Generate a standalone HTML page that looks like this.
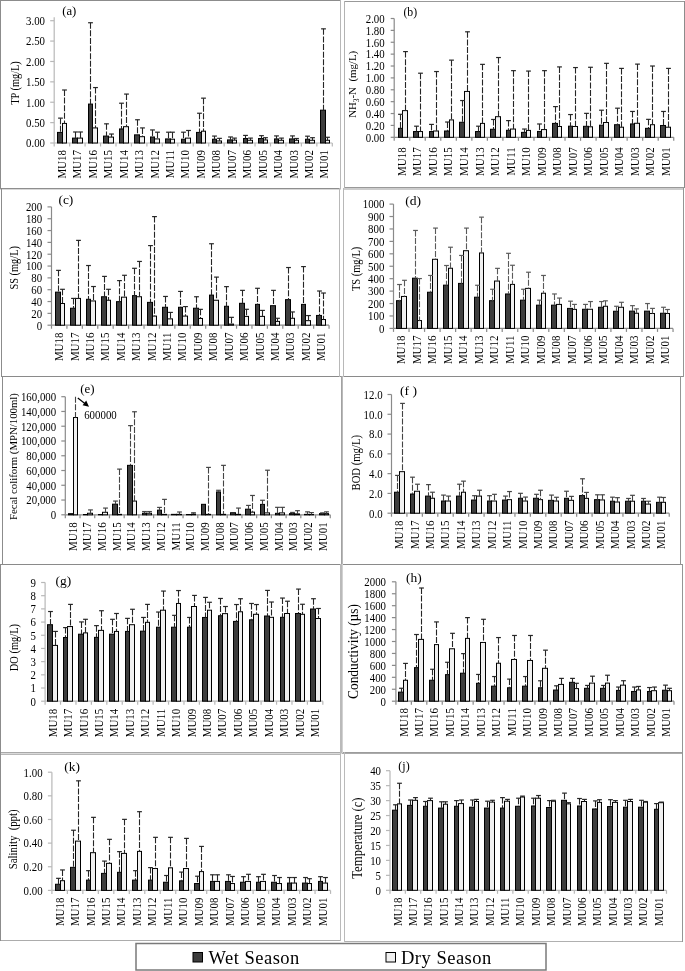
<!DOCTYPE html>
<html><head><meta charset="utf-8"><style>
html,body{margin:0;padding:0;background:#fff;width:685px;height:971px;overflow:hidden}
svg{display:block}

text{font-family:'Liberation Serif','Times New Roman',serif;fill:#000}
</style></head><body>
<svg width="685" height="971" viewBox="0 0 685 971">
<rect width="685" height="971" fill="#fff"/>
<line x1="54.20" y1="17.20" x2="54.20" y2="143.00" stroke="#b8b8b8" stroke-width="1.2"/>
<line x1="50.20" y1="143.00" x2="54.20" y2="143.00" stroke="#b8b8b8" stroke-width="1.2"/>
<text transform="translate(45.00,147.30) scale(0.92,1)" font-size="11.8" text-anchor="end">0.00</text>
<line x1="50.20" y1="122.62" x2="54.20" y2="122.62" stroke="#b8b8b8" stroke-width="1.2"/>
<text transform="translate(45.00,126.92) scale(0.92,1)" font-size="11.8" text-anchor="end">0.50</text>
<line x1="50.20" y1="102.23" x2="54.20" y2="102.23" stroke="#b8b8b8" stroke-width="1.2"/>
<text transform="translate(45.00,106.53) scale(0.92,1)" font-size="11.8" text-anchor="end">1.00</text>
<line x1="50.20" y1="81.85" x2="54.20" y2="81.85" stroke="#b8b8b8" stroke-width="1.2"/>
<text transform="translate(45.00,86.15) scale(0.92,1)" font-size="11.8" text-anchor="end">1.50</text>
<line x1="50.20" y1="61.47" x2="54.20" y2="61.47" stroke="#b8b8b8" stroke-width="1.2"/>
<text transform="translate(45.00,65.77) scale(0.92,1)" font-size="11.8" text-anchor="end">2.00</text>
<line x1="50.20" y1="41.08" x2="54.20" y2="41.08" stroke="#b8b8b8" stroke-width="1.2"/>
<text transform="translate(45.00,45.38) scale(0.92,1)" font-size="11.8" text-anchor="end">2.50</text>
<line x1="50.20" y1="20.70" x2="54.20" y2="20.70" stroke="#b8b8b8" stroke-width="1.2"/>
<text transform="translate(45.00,25.00) scale(0.92,1)" font-size="11.8" text-anchor="end">3.00</text>
<line x1="54.20" y1="143.00" x2="332.30" y2="143.00" stroke="#b8b8b8" stroke-width="1.2"/>
<line x1="54.20" y1="143.00" x2="54.20" y2="146.50" stroke="#b8b8b8" stroke-width="1.2"/>
<line x1="69.65" y1="143.00" x2="69.65" y2="146.50" stroke="#b8b8b8" stroke-width="1.2"/>
<line x1="85.10" y1="143.00" x2="85.10" y2="146.50" stroke="#b8b8b8" stroke-width="1.2"/>
<line x1="100.55" y1="143.00" x2="100.55" y2="146.50" stroke="#b8b8b8" stroke-width="1.2"/>
<line x1="116.00" y1="143.00" x2="116.00" y2="146.50" stroke="#b8b8b8" stroke-width="1.2"/>
<line x1="131.45" y1="143.00" x2="131.45" y2="146.50" stroke="#b8b8b8" stroke-width="1.2"/>
<line x1="146.90" y1="143.00" x2="146.90" y2="146.50" stroke="#b8b8b8" stroke-width="1.2"/>
<line x1="162.35" y1="143.00" x2="162.35" y2="146.50" stroke="#b8b8b8" stroke-width="1.2"/>
<line x1="177.80" y1="143.00" x2="177.80" y2="146.50" stroke="#b8b8b8" stroke-width="1.2"/>
<line x1="193.25" y1="143.00" x2="193.25" y2="146.50" stroke="#b8b8b8" stroke-width="1.2"/>
<line x1="208.70" y1="143.00" x2="208.70" y2="146.50" stroke="#b8b8b8" stroke-width="1.2"/>
<line x1="224.15" y1="143.00" x2="224.15" y2="146.50" stroke="#b8b8b8" stroke-width="1.2"/>
<line x1="239.60" y1="143.00" x2="239.60" y2="146.50" stroke="#b8b8b8" stroke-width="1.2"/>
<line x1="255.05" y1="143.00" x2="255.05" y2="146.50" stroke="#b8b8b8" stroke-width="1.2"/>
<line x1="270.50" y1="143.00" x2="270.50" y2="146.50" stroke="#b8b8b8" stroke-width="1.2"/>
<line x1="285.95" y1="143.00" x2="285.95" y2="146.50" stroke="#b8b8b8" stroke-width="1.2"/>
<line x1="301.40" y1="143.00" x2="301.40" y2="146.50" stroke="#b8b8b8" stroke-width="1.2"/>
<line x1="316.85" y1="143.00" x2="316.85" y2="146.50" stroke="#b8b8b8" stroke-width="1.2"/>
<line x1="332.30" y1="143.00" x2="332.30" y2="146.50" stroke="#b8b8b8" stroke-width="1.2"/>
<text transform="translate(65.83,150.00) rotate(-90) scale(0.93,1)" font-size="11.8" text-anchor="end">MU18</text>
<text transform="translate(81.28,150.00) rotate(-90) scale(0.93,1)" font-size="11.8" text-anchor="end">MU17</text>
<text transform="translate(96.73,150.00) rotate(-90) scale(0.93,1)" font-size="11.8" text-anchor="end">MU16</text>
<text transform="translate(112.18,150.00) rotate(-90) scale(0.93,1)" font-size="11.8" text-anchor="end">MU15</text>
<text transform="translate(127.62,150.00) rotate(-90) scale(0.93,1)" font-size="11.8" text-anchor="end">MU14</text>
<text transform="translate(143.08,150.00) rotate(-90) scale(0.93,1)" font-size="11.8" text-anchor="end">MU13</text>
<text transform="translate(158.53,150.00) rotate(-90) scale(0.93,1)" font-size="11.8" text-anchor="end">MU12</text>
<text transform="translate(173.97,150.00) rotate(-90) scale(0.93,1)" font-size="11.8" text-anchor="end">MU11</text>
<text transform="translate(189.42,150.00) rotate(-90) scale(0.93,1)" font-size="11.8" text-anchor="end">MU10</text>
<text transform="translate(204.88,150.00) rotate(-90) scale(0.93,1)" font-size="11.8" text-anchor="end">MU09</text>
<text transform="translate(220.33,150.00) rotate(-90) scale(0.93,1)" font-size="11.8" text-anchor="end">MU08</text>
<text transform="translate(235.78,150.00) rotate(-90) scale(0.93,1)" font-size="11.8" text-anchor="end">MU07</text>
<text transform="translate(251.22,150.00) rotate(-90) scale(0.93,1)" font-size="11.8" text-anchor="end">MU06</text>
<text transform="translate(266.67,150.00) rotate(-90) scale(0.93,1)" font-size="11.8" text-anchor="end">MU05</text>
<text transform="translate(282.12,150.00) rotate(-90) scale(0.93,1)" font-size="11.8" text-anchor="end">MU04</text>
<text transform="translate(297.57,150.00) rotate(-90) scale(0.93,1)" font-size="11.8" text-anchor="end">MU03</text>
<text transform="translate(313.02,150.00) rotate(-90) scale(0.93,1)" font-size="11.8" text-anchor="end">MU02</text>
<text transform="translate(328.47,150.00) rotate(-90) scale(0.93,1)" font-size="11.8" text-anchor="end">MU01</text>
<rect x="57.50" y="132.40" width="5.00" height="10.60" fill="#3d3d3d" stroke="#000" stroke-width="1"/>
<rect x="62.50" y="123.43" width="4.00" height="19.57" fill="#f0f0f0" stroke="#000" stroke-width="1"/>
<line x1="60.50" y1="118.13" x2="60.50" y2="132.40" stroke="#262626" stroke-width="1.1" stroke-dasharray="6,1.6"/>
<line x1="58.10" y1="118.13" x2="62.90" y2="118.13" stroke="#262626" stroke-width="1.2"/>
<line x1="64.50" y1="90.00" x2="64.50" y2="123.43" stroke="#262626" stroke-width="1.1" stroke-dasharray="6,1.6"/>
<line x1="62.10" y1="90.00" x2="66.90" y2="90.00" stroke="#262626" stroke-width="1.2"/>
<rect x="72.50" y="138.11" width="5.00" height="4.89" fill="#3d3d3d" stroke="#000" stroke-width="1"/>
<rect x="77.50" y="138.11" width="5.00" height="4.89" fill="#f0f0f0" stroke="#000" stroke-width="1"/>
<line x1="75.50" y1="131.99" x2="75.50" y2="138.11" stroke="#262626" stroke-width="1.1" stroke-dasharray="6,1.6"/>
<line x1="73.10" y1="131.99" x2="77.90" y2="131.99" stroke="#262626" stroke-width="1.2"/>
<line x1="80.50" y1="131.99" x2="80.50" y2="138.11" stroke="#262626" stroke-width="1.1" stroke-dasharray="6,1.6"/>
<line x1="78.10" y1="131.99" x2="82.90" y2="131.99" stroke="#262626" stroke-width="1.2"/>
<rect x="88.50" y="104.07" width="4.00" height="38.93" fill="#3d3d3d" stroke="#000" stroke-width="1"/>
<rect x="92.50" y="127.92" width="5.00" height="15.08" fill="#f0f0f0" stroke="#000" stroke-width="1"/>
<line x1="90.50" y1="22.74" x2="90.50" y2="104.07" stroke="#262626" stroke-width="1.1" stroke-dasharray="6,1.6"/>
<line x1="88.10" y1="22.74" x2="92.90" y2="22.74" stroke="#262626" stroke-width="1.2"/>
<line x1="95.50" y1="87.56" x2="95.50" y2="127.92" stroke="#262626" stroke-width="1.1" stroke-dasharray="6,1.6"/>
<line x1="93.10" y1="87.56" x2="97.90" y2="87.56" stroke="#262626" stroke-width="1.2"/>
<rect x="103.50" y="136.07" width="5.00" height="6.93" fill="#3d3d3d" stroke="#000" stroke-width="1"/>
<rect x="108.50" y="137.09" width="5.00" height="5.91" fill="#f0f0f0" stroke="#000" stroke-width="1"/>
<line x1="106.50" y1="123.84" x2="106.50" y2="136.07" stroke="#262626" stroke-width="1.1" stroke-dasharray="6,1.6"/>
<line x1="104.10" y1="123.84" x2="108.90" y2="123.84" stroke="#262626" stroke-width="1.2"/>
<line x1="111.50" y1="134.03" x2="111.50" y2="137.09" stroke="#262626" stroke-width="1.1" stroke-dasharray="6,1.6"/>
<line x1="109.10" y1="134.03" x2="113.90" y2="134.03" stroke="#262626" stroke-width="1.2"/>
<rect x="119.50" y="128.94" width="4.00" height="14.06" fill="#3d3d3d" stroke="#000" stroke-width="1"/>
<rect x="123.50" y="126.69" width="5.00" height="16.31" fill="#f0f0f0" stroke="#000" stroke-width="1"/>
<line x1="121.50" y1="103.21" x2="121.50" y2="128.94" stroke="#262626" stroke-width="1.1" stroke-dasharray="6,1.6"/>
<line x1="119.10" y1="103.21" x2="123.90" y2="103.21" stroke="#262626" stroke-width="1.2"/>
<line x1="126.50" y1="94.08" x2="126.50" y2="126.69" stroke="#262626" stroke-width="1.1" stroke-dasharray="6,1.6"/>
<line x1="124.10" y1="94.08" x2="128.90" y2="94.08" stroke="#262626" stroke-width="1.2"/>
<rect x="134.50" y="134.85" width="5.00" height="8.15" fill="#3d3d3d" stroke="#000" stroke-width="1"/>
<rect x="139.50" y="136.68" width="5.00" height="6.32" fill="#f0f0f0" stroke="#000" stroke-width="1"/>
<line x1="137.50" y1="119.76" x2="137.50" y2="134.85" stroke="#262626" stroke-width="1.1" stroke-dasharray="6,1.6"/>
<line x1="135.10" y1="119.76" x2="139.90" y2="119.76" stroke="#262626" stroke-width="1.2"/>
<line x1="142.50" y1="127.92" x2="142.50" y2="136.68" stroke="#262626" stroke-width="1.1" stroke-dasharray="6,1.6"/>
<line x1="140.10" y1="127.92" x2="144.90" y2="127.92" stroke="#262626" stroke-width="1.2"/>
<rect x="150.50" y="136.97" width="4.00" height="6.03" fill="#3d3d3d" stroke="#000" stroke-width="1"/>
<rect x="154.50" y="138.92" width="5.00" height="4.08" fill="#f0f0f0" stroke="#000" stroke-width="1"/>
<line x1="152.50" y1="129.95" x2="152.50" y2="136.97" stroke="#262626" stroke-width="1.1" stroke-dasharray="6,1.6"/>
<line x1="150.10" y1="129.95" x2="154.90" y2="129.95" stroke="#262626" stroke-width="1.2"/>
<line x1="157.50" y1="132.20" x2="157.50" y2="138.92" stroke="#262626" stroke-width="1.1" stroke-dasharray="6,1.6"/>
<line x1="155.10" y1="132.20" x2="159.90" y2="132.20" stroke="#262626" stroke-width="1.2"/>
<rect x="165.50" y="138.92" width="5.00" height="4.08" fill="#3d3d3d" stroke="#000" stroke-width="1"/>
<rect x="170.50" y="139.21" width="4.00" height="3.79" fill="#f0f0f0" stroke="#000" stroke-width="1"/>
<line x1="168.50" y1="132.20" x2="168.50" y2="138.92" stroke="#262626" stroke-width="1.1" stroke-dasharray="6,1.6"/>
<line x1="166.10" y1="132.20" x2="170.90" y2="132.20" stroke="#262626" stroke-width="1.2"/>
<line x1="172.50" y1="132.20" x2="172.50" y2="139.21" stroke="#262626" stroke-width="1.1" stroke-dasharray="6,1.6"/>
<line x1="170.10" y1="132.20" x2="174.90" y2="132.20" stroke="#262626" stroke-width="1.2"/>
<rect x="181.50" y="139.21" width="4.00" height="3.79" fill="#3d3d3d" stroke="#000" stroke-width="1"/>
<rect x="185.50" y="138.11" width="5.00" height="4.89" fill="#f0f0f0" stroke="#000" stroke-width="1"/>
<line x1="183.50" y1="132.20" x2="183.50" y2="139.21" stroke="#262626" stroke-width="1.1" stroke-dasharray="6,1.6"/>
<line x1="181.10" y1="132.20" x2="185.90" y2="132.20" stroke="#262626" stroke-width="1.2"/>
<line x1="188.50" y1="130.48" x2="188.50" y2="138.11" stroke="#262626" stroke-width="1.1" stroke-dasharray="6,1.6"/>
<line x1="186.10" y1="130.48" x2="190.90" y2="130.48" stroke="#262626" stroke-width="1.2"/>
<rect x="196.50" y="132.40" width="5.00" height="10.60" fill="#3d3d3d" stroke="#000" stroke-width="1"/>
<rect x="201.50" y="131.18" width="4.00" height="11.82" fill="#f0f0f0" stroke="#000" stroke-width="1"/>
<line x1="199.50" y1="113.24" x2="199.50" y2="132.40" stroke="#262626" stroke-width="1.1" stroke-dasharray="6,1.6"/>
<line x1="197.10" y1="113.24" x2="201.90" y2="113.24" stroke="#262626" stroke-width="1.2"/>
<line x1="203.50" y1="98.16" x2="203.50" y2="131.18" stroke="#262626" stroke-width="1.1" stroke-dasharray="6,1.6"/>
<line x1="201.10" y1="98.16" x2="205.90" y2="98.16" stroke="#262626" stroke-width="1.2"/>
<rect x="212.50" y="139.21" width="4.00" height="3.79" fill="#3d3d3d" stroke="#000" stroke-width="1"/>
<rect x="216.50" y="140.96" width="5.00" height="2.04" fill="#f0f0f0" stroke="#000" stroke-width="1"/>
<line x1="214.50" y1="136.07" x2="214.50" y2="139.21" stroke="#262626" stroke-width="1.1" stroke-dasharray="6,1.6"/>
<line x1="212.10" y1="136.07" x2="216.90" y2="136.07" stroke="#262626" stroke-width="1.2"/>
<line x1="219.50" y1="138.35" x2="219.50" y2="140.96" stroke="#262626" stroke-width="1.1" stroke-dasharray="6,1.6"/>
<line x1="217.10" y1="138.35" x2="221.90" y2="138.35" stroke="#262626" stroke-width="1.2"/>
<rect x="227.50" y="139.90" width="5.00" height="3.10" fill="#3d3d3d" stroke="#000" stroke-width="1"/>
<rect x="232.50" y="140.15" width="4.00" height="2.85" fill="#f0f0f0" stroke="#000" stroke-width="1"/>
<line x1="230.50" y1="136.97" x2="230.50" y2="139.90" stroke="#262626" stroke-width="1.1" stroke-dasharray="6,1.6"/>
<line x1="228.10" y1="136.97" x2="232.90" y2="136.97" stroke="#262626" stroke-width="1.2"/>
<line x1="234.50" y1="138.11" x2="234.50" y2="140.15" stroke="#262626" stroke-width="1.1" stroke-dasharray="6,1.6"/>
<line x1="232.10" y1="138.11" x2="236.90" y2="138.11" stroke="#262626" stroke-width="1.2"/>
<rect x="243.50" y="138.52" width="4.00" height="4.48" fill="#3d3d3d" stroke="#000" stroke-width="1"/>
<rect x="247.50" y="140.27" width="5.00" height="2.73" fill="#f0f0f0" stroke="#000" stroke-width="1"/>
<line x1="245.50" y1="135.42" x2="245.50" y2="138.52" stroke="#262626" stroke-width="1.1" stroke-dasharray="6,1.6"/>
<line x1="243.10" y1="135.42" x2="247.90" y2="135.42" stroke="#262626" stroke-width="1.2"/>
<line x1="250.50" y1="138.11" x2="250.50" y2="140.27" stroke="#262626" stroke-width="1.1" stroke-dasharray="6,1.6"/>
<line x1="248.10" y1="138.11" x2="252.90" y2="138.11" stroke="#262626" stroke-width="1.2"/>
<rect x="258.50" y="138.52" width="5.00" height="4.48" fill="#3d3d3d" stroke="#000" stroke-width="1"/>
<rect x="263.50" y="139.98" width="4.00" height="3.02" fill="#f0f0f0" stroke="#000" stroke-width="1"/>
<line x1="261.50" y1="135.66" x2="261.50" y2="138.52" stroke="#262626" stroke-width="1.1" stroke-dasharray="6,1.6"/>
<line x1="259.10" y1="135.66" x2="263.90" y2="135.66" stroke="#262626" stroke-width="1.2"/>
<line x1="265.50" y1="137.70" x2="265.50" y2="139.98" stroke="#262626" stroke-width="1.1" stroke-dasharray="6,1.6"/>
<line x1="263.10" y1="137.70" x2="267.90" y2="137.70" stroke="#262626" stroke-width="1.2"/>
<rect x="274.50" y="138.92" width="4.00" height="4.08" fill="#3d3d3d" stroke="#000" stroke-width="1"/>
<rect x="278.50" y="140.27" width="5.00" height="2.73" fill="#f0f0f0" stroke="#000" stroke-width="1"/>
<line x1="276.50" y1="135.91" x2="276.50" y2="138.92" stroke="#262626" stroke-width="1.1" stroke-dasharray="6,1.6"/>
<line x1="274.10" y1="135.91" x2="278.90" y2="135.91" stroke="#262626" stroke-width="1.2"/>
<line x1="281.50" y1="138.11" x2="281.50" y2="140.27" stroke="#262626" stroke-width="1.1" stroke-dasharray="6,1.6"/>
<line x1="279.10" y1="138.11" x2="283.90" y2="138.11" stroke="#262626" stroke-width="1.2"/>
<rect x="289.50" y="138.92" width="5.00" height="4.08" fill="#3d3d3d" stroke="#000" stroke-width="1"/>
<rect x="294.50" y="140.27" width="4.00" height="2.73" fill="#f0f0f0" stroke="#000" stroke-width="1"/>
<line x1="292.50" y1="135.91" x2="292.50" y2="138.92" stroke="#262626" stroke-width="1.1" stroke-dasharray="6,1.6"/>
<line x1="290.10" y1="135.91" x2="294.90" y2="135.91" stroke="#262626" stroke-width="1.2"/>
<line x1="296.50" y1="138.52" x2="296.50" y2="140.27" stroke="#262626" stroke-width="1.1" stroke-dasharray="6,1.6"/>
<line x1="294.10" y1="138.52" x2="298.90" y2="138.52" stroke="#262626" stroke-width="1.2"/>
<rect x="305.50" y="139.21" width="4.00" height="3.79" fill="#3d3d3d" stroke="#000" stroke-width="1"/>
<rect x="309.50" y="140.27" width="5.00" height="2.73" fill="#f0f0f0" stroke="#000" stroke-width="1"/>
<line x1="307.50" y1="136.19" x2="307.50" y2="139.21" stroke="#262626" stroke-width="1.1" stroke-dasharray="6,1.6"/>
<line x1="305.10" y1="136.19" x2="309.90" y2="136.19" stroke="#262626" stroke-width="1.2"/>
<line x1="312.50" y1="137.70" x2="312.50" y2="140.27" stroke="#262626" stroke-width="1.1" stroke-dasharray="6,1.6"/>
<line x1="310.10" y1="137.70" x2="314.90" y2="137.70" stroke="#262626" stroke-width="1.2"/>
<rect x="320.50" y="110.18" width="5.00" height="32.82" fill="#3d3d3d" stroke="#000" stroke-width="1"/>
<rect x="325.50" y="140.27" width="4.00" height="2.73" fill="#f0f0f0" stroke="#000" stroke-width="1"/>
<line x1="323.50" y1="28.85" x2="323.50" y2="110.18" stroke="#262626" stroke-width="1.1" stroke-dasharray="6,1.6"/>
<line x1="321.10" y1="28.85" x2="325.90" y2="28.85" stroke="#262626" stroke-width="1.2"/>
<line x1="327.50" y1="137.29" x2="327.50" y2="140.27" stroke="#262626" stroke-width="1.1" stroke-dasharray="6,1.6"/>
<line x1="325.10" y1="137.29" x2="329.90" y2="137.29" stroke="#262626" stroke-width="1.2"/>
<text transform="translate(19.10,83.00) rotate(-90) scale(0.827,1)" font-size="12.5" text-anchor="middle">TP (mg/L)</text>
<text transform="translate(62.20,15.35) scale(1.08,1)" font-size="11.8">(a)</text>
<line x1="394.20" y1="18.50" x2="394.20" y2="137.30" stroke="#8a8a8a" stroke-width="1.2"/>
<line x1="390.70" y1="137.30" x2="394.20" y2="137.30" stroke="#8a8a8a" stroke-width="1.2"/>
<text transform="translate(384.70,141.60) scale(0.92,1)" font-size="11.8" text-anchor="end">0.00</text>
<line x1="390.70" y1="125.42" x2="394.20" y2="125.42" stroke="#8a8a8a" stroke-width="1.2"/>
<text transform="translate(384.70,129.72) scale(0.92,1)" font-size="11.8" text-anchor="end">0.20</text>
<line x1="390.70" y1="113.54" x2="394.20" y2="113.54" stroke="#8a8a8a" stroke-width="1.2"/>
<text transform="translate(384.70,117.84) scale(0.92,1)" font-size="11.8" text-anchor="end">0.40</text>
<line x1="390.70" y1="101.66" x2="394.20" y2="101.66" stroke="#8a8a8a" stroke-width="1.2"/>
<text transform="translate(384.70,105.96) scale(0.92,1)" font-size="11.8" text-anchor="end">0.60</text>
<line x1="390.70" y1="89.78" x2="394.20" y2="89.78" stroke="#8a8a8a" stroke-width="1.2"/>
<text transform="translate(384.70,94.08) scale(0.92,1)" font-size="11.8" text-anchor="end">0.80</text>
<line x1="390.70" y1="77.90" x2="394.20" y2="77.90" stroke="#8a8a8a" stroke-width="1.2"/>
<text transform="translate(384.70,82.20) scale(0.92,1)" font-size="11.8" text-anchor="end">1.00</text>
<line x1="390.70" y1="66.02" x2="394.20" y2="66.02" stroke="#8a8a8a" stroke-width="1.2"/>
<text transform="translate(384.70,70.32) scale(0.92,1)" font-size="11.8" text-anchor="end">1.20</text>
<line x1="390.70" y1="54.14" x2="394.20" y2="54.14" stroke="#8a8a8a" stroke-width="1.2"/>
<text transform="translate(384.70,58.44) scale(0.92,1)" font-size="11.8" text-anchor="end">1.40</text>
<line x1="390.70" y1="42.26" x2="394.20" y2="42.26" stroke="#8a8a8a" stroke-width="1.2"/>
<text transform="translate(384.70,46.56) scale(0.92,1)" font-size="11.8" text-anchor="end">1.60</text>
<line x1="390.70" y1="30.38" x2="394.20" y2="30.38" stroke="#8a8a8a" stroke-width="1.2"/>
<text transform="translate(384.70,34.68) scale(0.92,1)" font-size="11.8" text-anchor="end">1.80</text>
<line x1="390.70" y1="18.50" x2="394.20" y2="18.50" stroke="#8a8a8a" stroke-width="1.2"/>
<text transform="translate(384.70,22.80) scale(0.92,1)" font-size="11.8" text-anchor="end">2.00</text>
<line x1="394.20" y1="137.30" x2="673.74" y2="137.30" stroke="#8a8a8a" stroke-width="1.2"/>
<line x1="394.20" y1="137.30" x2="394.20" y2="140.80" stroke="#8a8a8a" stroke-width="1.2"/>
<line x1="409.73" y1="137.30" x2="409.73" y2="140.80" stroke="#8a8a8a" stroke-width="1.2"/>
<line x1="425.26" y1="137.30" x2="425.26" y2="140.80" stroke="#8a8a8a" stroke-width="1.2"/>
<line x1="440.79" y1="137.30" x2="440.79" y2="140.80" stroke="#8a8a8a" stroke-width="1.2"/>
<line x1="456.32" y1="137.30" x2="456.32" y2="140.80" stroke="#8a8a8a" stroke-width="1.2"/>
<line x1="471.85" y1="137.30" x2="471.85" y2="140.80" stroke="#8a8a8a" stroke-width="1.2"/>
<line x1="487.38" y1="137.30" x2="487.38" y2="140.80" stroke="#8a8a8a" stroke-width="1.2"/>
<line x1="502.91" y1="137.30" x2="502.91" y2="140.80" stroke="#8a8a8a" stroke-width="1.2"/>
<line x1="518.44" y1="137.30" x2="518.44" y2="140.80" stroke="#8a8a8a" stroke-width="1.2"/>
<line x1="533.97" y1="137.30" x2="533.97" y2="140.80" stroke="#8a8a8a" stroke-width="1.2"/>
<line x1="549.50" y1="137.30" x2="549.50" y2="140.80" stroke="#8a8a8a" stroke-width="1.2"/>
<line x1="565.03" y1="137.30" x2="565.03" y2="140.80" stroke="#8a8a8a" stroke-width="1.2"/>
<line x1="580.56" y1="137.30" x2="580.56" y2="140.80" stroke="#8a8a8a" stroke-width="1.2"/>
<line x1="596.09" y1="137.30" x2="596.09" y2="140.80" stroke="#8a8a8a" stroke-width="1.2"/>
<line x1="611.62" y1="137.30" x2="611.62" y2="140.80" stroke="#8a8a8a" stroke-width="1.2"/>
<line x1="627.15" y1="137.30" x2="627.15" y2="140.80" stroke="#8a8a8a" stroke-width="1.2"/>
<line x1="642.68" y1="137.30" x2="642.68" y2="140.80" stroke="#8a8a8a" stroke-width="1.2"/>
<line x1="658.21" y1="137.30" x2="658.21" y2="140.80" stroke="#8a8a8a" stroke-width="1.2"/>
<line x1="673.74" y1="137.30" x2="673.74" y2="140.80" stroke="#8a8a8a" stroke-width="1.2"/>
<text transform="translate(405.86,147.30) rotate(-90) scale(0.93,1)" font-size="11.8" text-anchor="end">MU18</text>
<text transform="translate(421.39,147.30) rotate(-90) scale(0.93,1)" font-size="11.8" text-anchor="end">MU17</text>
<text transform="translate(436.92,147.30) rotate(-90) scale(0.93,1)" font-size="11.8" text-anchor="end">MU16</text>
<text transform="translate(452.45,147.30) rotate(-90) scale(0.93,1)" font-size="11.8" text-anchor="end">MU15</text>
<text transform="translate(467.98,147.30) rotate(-90) scale(0.93,1)" font-size="11.8" text-anchor="end">MU14</text>
<text transform="translate(483.51,147.30) rotate(-90) scale(0.93,1)" font-size="11.8" text-anchor="end">MU13</text>
<text transform="translate(499.04,147.30) rotate(-90) scale(0.93,1)" font-size="11.8" text-anchor="end">MU12</text>
<text transform="translate(514.57,147.30) rotate(-90) scale(0.93,1)" font-size="11.8" text-anchor="end">MU11</text>
<text transform="translate(530.10,147.30) rotate(-90) scale(0.93,1)" font-size="11.8" text-anchor="end">MU10</text>
<text transform="translate(545.63,147.30) rotate(-90) scale(0.93,1)" font-size="11.8" text-anchor="end">MU09</text>
<text transform="translate(561.16,147.30) rotate(-90) scale(0.93,1)" font-size="11.8" text-anchor="end">MU08</text>
<text transform="translate(576.69,147.30) rotate(-90) scale(0.93,1)" font-size="11.8" text-anchor="end">MU07</text>
<text transform="translate(592.23,147.30) rotate(-90) scale(0.93,1)" font-size="11.8" text-anchor="end">MU06</text>
<text transform="translate(607.75,147.30) rotate(-90) scale(0.93,1)" font-size="11.8" text-anchor="end">MU05</text>
<text transform="translate(623.28,147.30) rotate(-90) scale(0.93,1)" font-size="11.8" text-anchor="end">MU04</text>
<text transform="translate(638.81,147.30) rotate(-90) scale(0.93,1)" font-size="11.8" text-anchor="end">MU03</text>
<text transform="translate(654.34,147.30) rotate(-90) scale(0.93,1)" font-size="11.8" text-anchor="end">MU02</text>
<text transform="translate(669.87,147.30) rotate(-90) scale(0.93,1)" font-size="11.8" text-anchor="end">MU01</text>
<rect x="398.50" y="128.33" width="4.00" height="8.97" fill="#3d3d3d" stroke="#000" stroke-width="1"/>
<rect x="402.50" y="110.63" width="5.00" height="26.67" fill="#f0f0f0" stroke="#000" stroke-width="1"/>
<line x1="400.50" y1="114.31" x2="400.50" y2="128.33" stroke="#262626" stroke-width="1.1" stroke-dasharray="6,1.6"/>
<line x1="398.10" y1="114.31" x2="402.90" y2="114.31" stroke="#262626" stroke-width="1.2"/>
<line x1="405.50" y1="51.59" x2="405.50" y2="110.63" stroke="#262626" stroke-width="1.1" stroke-dasharray="6,1.6"/>
<line x1="403.10" y1="51.59" x2="407.90" y2="51.59" stroke="#262626" stroke-width="1.2"/>
<rect x="413.50" y="131.54" width="5.00" height="5.76" fill="#3d3d3d" stroke="#000" stroke-width="1"/>
<rect x="418.50" y="131.54" width="4.00" height="5.76" fill="#f0f0f0" stroke="#000" stroke-width="1"/>
<line x1="416.50" y1="126.19" x2="416.50" y2="131.54" stroke="#262626" stroke-width="1.1" stroke-dasharray="6,1.6"/>
<line x1="414.10" y1="126.19" x2="418.90" y2="126.19" stroke="#262626" stroke-width="1.2"/>
<line x1="420.50" y1="73.21" x2="420.50" y2="131.54" stroke="#262626" stroke-width="1.1" stroke-dasharray="6,1.6"/>
<line x1="418.10" y1="73.21" x2="422.90" y2="73.21" stroke="#262626" stroke-width="1.2"/>
<rect x="429.50" y="131.54" width="4.00" height="5.76" fill="#3d3d3d" stroke="#000" stroke-width="1"/>
<rect x="433.50" y="131.00" width="5.00" height="6.30" fill="#f0f0f0" stroke="#000" stroke-width="1"/>
<line x1="431.50" y1="124.41" x2="431.50" y2="131.54" stroke="#262626" stroke-width="1.1" stroke-dasharray="6,1.6"/>
<line x1="429.10" y1="124.41" x2="433.90" y2="124.41" stroke="#262626" stroke-width="1.2"/>
<line x1="436.50" y1="71.54" x2="436.50" y2="131.00" stroke="#262626" stroke-width="1.1" stroke-dasharray="6,1.6"/>
<line x1="434.10" y1="71.54" x2="438.90" y2="71.54" stroke="#262626" stroke-width="1.2"/>
<rect x="444.50" y="131.00" width="5.00" height="6.30" fill="#3d3d3d" stroke="#000" stroke-width="1"/>
<rect x="449.50" y="119.90" width="4.00" height="17.40" fill="#f0f0f0" stroke="#000" stroke-width="1"/>
<line x1="447.50" y1="122.03" x2="447.50" y2="131.00" stroke="#262626" stroke-width="1.1" stroke-dasharray="6,1.6"/>
<line x1="445.10" y1="122.03" x2="449.90" y2="122.03" stroke="#262626" stroke-width="1.2"/>
<line x1="451.50" y1="60.14" x2="451.50" y2="119.90" stroke="#262626" stroke-width="1.1" stroke-dasharray="6,1.6"/>
<line x1="449.10" y1="60.14" x2="453.90" y2="60.14" stroke="#262626" stroke-width="1.2"/>
<rect x="459.50" y="122.27" width="5.00" height="15.03" fill="#3d3d3d" stroke="#000" stroke-width="1"/>
<rect x="464.50" y="91.44" width="5.00" height="45.86" fill="#f0f0f0" stroke="#000" stroke-width="1"/>
<line x1="462.50" y1="100.53" x2="462.50" y2="122.27" stroke="#262626" stroke-width="1.1" stroke-dasharray="6,1.6"/>
<line x1="460.10" y1="100.53" x2="464.90" y2="100.53" stroke="#262626" stroke-width="1.2"/>
<line x1="467.50" y1="31.81" x2="467.50" y2="91.44" stroke="#262626" stroke-width="1.1" stroke-dasharray="6,1.6"/>
<line x1="465.10" y1="31.81" x2="469.90" y2="31.81" stroke="#262626" stroke-width="1.2"/>
<rect x="475.50" y="131.54" width="5.00" height="5.76" fill="#3d3d3d" stroke="#000" stroke-width="1"/>
<rect x="480.50" y="123.40" width="4.00" height="13.90" fill="#f0f0f0" stroke="#000" stroke-width="1"/>
<line x1="478.50" y1="126.19" x2="478.50" y2="131.54" stroke="#262626" stroke-width="1.1" stroke-dasharray="6,1.6"/>
<line x1="476.10" y1="126.19" x2="480.90" y2="126.19" stroke="#262626" stroke-width="1.2"/>
<line x1="482.50" y1="64.36" x2="482.50" y2="123.40" stroke="#262626" stroke-width="1.1" stroke-dasharray="6,1.6"/>
<line x1="480.10" y1="64.36" x2="484.90" y2="64.36" stroke="#262626" stroke-width="1.2"/>
<rect x="490.50" y="129.28" width="5.00" height="8.02" fill="#3d3d3d" stroke="#000" stroke-width="1"/>
<rect x="495.50" y="116.69" width="5.00" height="20.61" fill="#f0f0f0" stroke="#000" stroke-width="1"/>
<line x1="493.50" y1="119.48" x2="493.50" y2="129.28" stroke="#262626" stroke-width="1.1" stroke-dasharray="6,1.6"/>
<line x1="491.10" y1="119.48" x2="495.90" y2="119.48" stroke="#262626" stroke-width="1.2"/>
<line x1="498.50" y1="57.53" x2="498.50" y2="116.69" stroke="#262626" stroke-width="1.1" stroke-dasharray="6,1.6"/>
<line x1="496.10" y1="57.53" x2="500.90" y2="57.53" stroke="#262626" stroke-width="1.2"/>
<rect x="506.50" y="130.29" width="4.00" height="7.01" fill="#3d3d3d" stroke="#000" stroke-width="1"/>
<rect x="510.50" y="129.04" width="5.00" height="8.26" fill="#f0f0f0" stroke="#000" stroke-width="1"/>
<line x1="508.50" y1="120.61" x2="508.50" y2="130.29" stroke="#262626" stroke-width="1.1" stroke-dasharray="6,1.6"/>
<line x1="506.10" y1="120.61" x2="510.90" y2="120.61" stroke="#262626" stroke-width="1.2"/>
<line x1="513.50" y1="70.65" x2="513.50" y2="129.04" stroke="#262626" stroke-width="1.1" stroke-dasharray="6,1.6"/>
<line x1="511.10" y1="70.65" x2="515.90" y2="70.65" stroke="#262626" stroke-width="1.2"/>
<rect x="521.50" y="132.37" width="5.00" height="4.93" fill="#3d3d3d" stroke="#000" stroke-width="1"/>
<rect x="526.50" y="130.41" width="4.00" height="6.89" fill="#f0f0f0" stroke="#000" stroke-width="1"/>
<line x1="524.50" y1="129.04" x2="524.50" y2="132.37" stroke="#262626" stroke-width="1.1" stroke-dasharray="6,1.6"/>
<line x1="522.10" y1="129.04" x2="526.90" y2="129.04" stroke="#262626" stroke-width="1.2"/>
<line x1="528.50" y1="71.07" x2="528.50" y2="130.41" stroke="#262626" stroke-width="1.1" stroke-dasharray="6,1.6"/>
<line x1="526.10" y1="71.07" x2="530.90" y2="71.07" stroke="#262626" stroke-width="1.2"/>
<rect x="537.50" y="131.42" width="4.00" height="5.88" fill="#3d3d3d" stroke="#000" stroke-width="1"/>
<rect x="541.50" y="129.58" width="5.00" height="7.72" fill="#f0f0f0" stroke="#000" stroke-width="1"/>
<line x1="539.50" y1="123.99" x2="539.50" y2="131.42" stroke="#262626" stroke-width="1.1" stroke-dasharray="6,1.6"/>
<line x1="537.10" y1="123.99" x2="541.90" y2="123.99" stroke="#262626" stroke-width="1.2"/>
<line x1="544.50" y1="70.65" x2="544.50" y2="129.58" stroke="#262626" stroke-width="1.1" stroke-dasharray="6,1.6"/>
<line x1="542.10" y1="70.65" x2="546.90" y2="70.65" stroke="#262626" stroke-width="1.2"/>
<rect x="552.50" y="123.40" width="5.00" height="13.90" fill="#3d3d3d" stroke="#000" stroke-width="1"/>
<rect x="557.50" y="126.49" width="4.00" height="10.81" fill="#f0f0f0" stroke="#000" stroke-width="1"/>
<line x1="555.50" y1="106.59" x2="555.50" y2="123.40" stroke="#262626" stroke-width="1.1" stroke-dasharray="6,1.6"/>
<line x1="553.10" y1="106.59" x2="557.90" y2="106.59" stroke="#262626" stroke-width="1.2"/>
<line x1="559.50" y1="66.91" x2="559.50" y2="126.49" stroke="#262626" stroke-width="1.1" stroke-dasharray="6,1.6"/>
<line x1="557.10" y1="66.91" x2="561.90" y2="66.91" stroke="#262626" stroke-width="1.2"/>
<rect x="568.50" y="126.19" width="4.00" height="11.11" fill="#3d3d3d" stroke="#000" stroke-width="1"/>
<rect x="572.50" y="126.49" width="5.00" height="10.81" fill="#f0f0f0" stroke="#000" stroke-width="1"/>
<line x1="570.50" y1="114.55" x2="570.50" y2="126.19" stroke="#262626" stroke-width="1.1" stroke-dasharray="6,1.6"/>
<line x1="568.10" y1="114.55" x2="572.90" y2="114.55" stroke="#262626" stroke-width="1.2"/>
<line x1="575.50" y1="67.56" x2="575.50" y2="126.49" stroke="#262626" stroke-width="1.1" stroke-dasharray="6,1.6"/>
<line x1="573.10" y1="67.56" x2="577.90" y2="67.56" stroke="#262626" stroke-width="1.2"/>
<rect x="583.50" y="126.31" width="5.00" height="10.99" fill="#3d3d3d" stroke="#000" stroke-width="1"/>
<rect x="588.50" y="126.79" width="4.00" height="10.51" fill="#f0f0f0" stroke="#000" stroke-width="1"/>
<line x1="586.50" y1="113.36" x2="586.50" y2="126.31" stroke="#262626" stroke-width="1.1" stroke-dasharray="6,1.6"/>
<line x1="584.10" y1="113.36" x2="588.90" y2="113.36" stroke="#262626" stroke-width="1.2"/>
<line x1="590.50" y1="67.27" x2="590.50" y2="126.79" stroke="#262626" stroke-width="1.1" stroke-dasharray="6,1.6"/>
<line x1="588.10" y1="67.27" x2="592.90" y2="67.27" stroke="#262626" stroke-width="1.2"/>
<rect x="599.50" y="125.18" width="4.00" height="12.12" fill="#3d3d3d" stroke="#000" stroke-width="1"/>
<rect x="603.50" y="122.51" width="5.00" height="14.79" fill="#f0f0f0" stroke="#000" stroke-width="1"/>
<line x1="601.50" y1="110.21" x2="601.50" y2="125.18" stroke="#262626" stroke-width="1.1" stroke-dasharray="6,1.6"/>
<line x1="599.10" y1="110.21" x2="603.90" y2="110.21" stroke="#262626" stroke-width="1.2"/>
<line x1="606.50" y1="63.35" x2="606.50" y2="122.51" stroke="#262626" stroke-width="1.1" stroke-dasharray="6,1.6"/>
<line x1="604.10" y1="63.35" x2="608.90" y2="63.35" stroke="#262626" stroke-width="1.2"/>
<rect x="614.50" y="124.71" width="5.00" height="12.59" fill="#3d3d3d" stroke="#000" stroke-width="1"/>
<rect x="619.50" y="127.20" width="4.00" height="10.10" fill="#f0f0f0" stroke="#000" stroke-width="1"/>
<line x1="617.50" y1="108.19" x2="617.50" y2="124.71" stroke="#262626" stroke-width="1.1" stroke-dasharray="6,1.6"/>
<line x1="615.10" y1="108.19" x2="619.90" y2="108.19" stroke="#262626" stroke-width="1.2"/>
<line x1="621.50" y1="68.40" x2="621.50" y2="127.20" stroke="#262626" stroke-width="1.1" stroke-dasharray="6,1.6"/>
<line x1="619.10" y1="68.40" x2="623.90" y2="68.40" stroke="#262626" stroke-width="1.2"/>
<rect x="630.50" y="123.94" width="4.00" height="13.37" fill="#3d3d3d" stroke="#000" stroke-width="1"/>
<rect x="634.50" y="123.28" width="5.00" height="14.02" fill="#f0f0f0" stroke="#000" stroke-width="1"/>
<line x1="632.50" y1="111.46" x2="632.50" y2="123.94" stroke="#262626" stroke-width="1.1" stroke-dasharray="6,1.6"/>
<line x1="630.10" y1="111.46" x2="634.90" y2="111.46" stroke="#262626" stroke-width="1.2"/>
<line x1="637.50" y1="64.12" x2="637.50" y2="123.28" stroke="#262626" stroke-width="1.1" stroke-dasharray="6,1.6"/>
<line x1="635.10" y1="64.12" x2="639.90" y2="64.12" stroke="#262626" stroke-width="1.2"/>
<rect x="645.50" y="128.33" width="5.00" height="8.97" fill="#3d3d3d" stroke="#000" stroke-width="1"/>
<rect x="650.50" y="124.71" width="4.00" height="12.59" fill="#f0f0f0" stroke="#000" stroke-width="1"/>
<line x1="648.50" y1="119.36" x2="648.50" y2="128.33" stroke="#262626" stroke-width="1.1" stroke-dasharray="6,1.6"/>
<line x1="646.10" y1="119.36" x2="650.90" y2="119.36" stroke="#262626" stroke-width="1.2"/>
<line x1="652.50" y1="66.02" x2="652.50" y2="124.71" stroke="#262626" stroke-width="1.1" stroke-dasharray="6,1.6"/>
<line x1="650.10" y1="66.02" x2="654.90" y2="66.02" stroke="#262626" stroke-width="1.2"/>
<rect x="660.50" y="125.48" width="5.00" height="11.82" fill="#3d3d3d" stroke="#000" stroke-width="1"/>
<rect x="665.50" y="127.20" width="5.00" height="10.10" fill="#f0f0f0" stroke="#000" stroke-width="1"/>
<line x1="663.50" y1="111.46" x2="663.50" y2="125.48" stroke="#262626" stroke-width="1.1" stroke-dasharray="6,1.6"/>
<line x1="661.10" y1="111.46" x2="665.90" y2="111.46" stroke="#262626" stroke-width="1.2"/>
<line x1="668.50" y1="68.40" x2="668.50" y2="127.20" stroke="#262626" stroke-width="1.1" stroke-dasharray="6,1.6"/>
<line x1="666.10" y1="68.40" x2="670.90" y2="68.40" stroke="#262626" stroke-width="1.2"/>
<text transform="translate(356.30,84.35) rotate(-90) scale(0.98,1)" font-size="11.1" text-anchor="middle">NH<tspan font-size="7.5" dy="2.5">3</tspan><tspan dy="-2.5">-N&#160; (mg/L)</tspan></text>
<text transform="translate(403.40,15.95) scale(1.0,1)" font-size="11.8">(b)</text>
<line x1="51.50" y1="206.90" x2="51.50" y2="325.20" stroke="#8a8a8a" stroke-width="1.2"/>
<line x1="47.50" y1="325.20" x2="51.50" y2="325.20" stroke="#8a8a8a" stroke-width="1.2"/>
<text transform="translate(42.20,329.50) scale(0.92,1)" font-size="11.8" text-anchor="end">0</text>
<line x1="47.50" y1="313.37" x2="51.50" y2="313.37" stroke="#8a8a8a" stroke-width="1.2"/>
<text transform="translate(42.20,317.67) scale(0.92,1)" font-size="11.8" text-anchor="end">20</text>
<line x1="47.50" y1="301.54" x2="51.50" y2="301.54" stroke="#8a8a8a" stroke-width="1.2"/>
<text transform="translate(42.20,305.84) scale(0.92,1)" font-size="11.8" text-anchor="end">40</text>
<line x1="47.50" y1="289.71" x2="51.50" y2="289.71" stroke="#8a8a8a" stroke-width="1.2"/>
<text transform="translate(42.20,294.01) scale(0.92,1)" font-size="11.8" text-anchor="end">60</text>
<line x1="47.50" y1="277.88" x2="51.50" y2="277.88" stroke="#8a8a8a" stroke-width="1.2"/>
<text transform="translate(42.20,282.18) scale(0.92,1)" font-size="11.8" text-anchor="end">80</text>
<line x1="47.50" y1="266.05" x2="51.50" y2="266.05" stroke="#8a8a8a" stroke-width="1.2"/>
<text transform="translate(42.20,270.35) scale(0.92,1)" font-size="11.8" text-anchor="end">100</text>
<line x1="47.50" y1="254.22" x2="51.50" y2="254.22" stroke="#8a8a8a" stroke-width="1.2"/>
<text transform="translate(42.20,258.52) scale(0.92,1)" font-size="11.8" text-anchor="end">120</text>
<line x1="47.50" y1="242.39" x2="51.50" y2="242.39" stroke="#8a8a8a" stroke-width="1.2"/>
<text transform="translate(42.20,246.69) scale(0.92,1)" font-size="11.8" text-anchor="end">140</text>
<line x1="47.50" y1="230.56" x2="51.50" y2="230.56" stroke="#8a8a8a" stroke-width="1.2"/>
<text transform="translate(42.20,234.86) scale(0.92,1)" font-size="11.8" text-anchor="end">160</text>
<line x1="47.50" y1="218.73" x2="51.50" y2="218.73" stroke="#8a8a8a" stroke-width="1.2"/>
<text transform="translate(42.20,223.03) scale(0.92,1)" font-size="11.8" text-anchor="end">180</text>
<line x1="47.50" y1="206.90" x2="51.50" y2="206.90" stroke="#8a8a8a" stroke-width="1.2"/>
<text transform="translate(42.20,211.20) scale(0.92,1)" font-size="11.8" text-anchor="end">200</text>
<line x1="51.50" y1="325.20" x2="329.06" y2="325.20" stroke="#8a8a8a" stroke-width="1.2"/>
<line x1="51.50" y1="325.20" x2="51.50" y2="328.70" stroke="#8a8a8a" stroke-width="1.2"/>
<line x1="66.92" y1="325.20" x2="66.92" y2="328.70" stroke="#8a8a8a" stroke-width="1.2"/>
<line x1="82.34" y1="325.20" x2="82.34" y2="328.70" stroke="#8a8a8a" stroke-width="1.2"/>
<line x1="97.76" y1="325.20" x2="97.76" y2="328.70" stroke="#8a8a8a" stroke-width="1.2"/>
<line x1="113.18" y1="325.20" x2="113.18" y2="328.70" stroke="#8a8a8a" stroke-width="1.2"/>
<line x1="128.60" y1="325.20" x2="128.60" y2="328.70" stroke="#8a8a8a" stroke-width="1.2"/>
<line x1="144.02" y1="325.20" x2="144.02" y2="328.70" stroke="#8a8a8a" stroke-width="1.2"/>
<line x1="159.44" y1="325.20" x2="159.44" y2="328.70" stroke="#8a8a8a" stroke-width="1.2"/>
<line x1="174.86" y1="325.20" x2="174.86" y2="328.70" stroke="#8a8a8a" stroke-width="1.2"/>
<line x1="190.28" y1="325.20" x2="190.28" y2="328.70" stroke="#8a8a8a" stroke-width="1.2"/>
<line x1="205.70" y1="325.20" x2="205.70" y2="328.70" stroke="#8a8a8a" stroke-width="1.2"/>
<line x1="221.12" y1="325.20" x2="221.12" y2="328.70" stroke="#8a8a8a" stroke-width="1.2"/>
<line x1="236.54" y1="325.20" x2="236.54" y2="328.70" stroke="#8a8a8a" stroke-width="1.2"/>
<line x1="251.96" y1="325.20" x2="251.96" y2="328.70" stroke="#8a8a8a" stroke-width="1.2"/>
<line x1="267.38" y1="325.20" x2="267.38" y2="328.70" stroke="#8a8a8a" stroke-width="1.2"/>
<line x1="282.80" y1="325.20" x2="282.80" y2="328.70" stroke="#8a8a8a" stroke-width="1.2"/>
<line x1="298.22" y1="325.20" x2="298.22" y2="328.70" stroke="#8a8a8a" stroke-width="1.2"/>
<line x1="313.64" y1="325.20" x2="313.64" y2="328.70" stroke="#8a8a8a" stroke-width="1.2"/>
<line x1="329.06" y1="325.20" x2="329.06" y2="328.70" stroke="#8a8a8a" stroke-width="1.2"/>
<text transform="translate(63.11,332.50) rotate(-90) scale(0.93,1)" font-size="11.8" text-anchor="end">MU18</text>
<text transform="translate(78.53,332.50) rotate(-90) scale(0.93,1)" font-size="11.8" text-anchor="end">MU17</text>
<text transform="translate(93.95,332.50) rotate(-90) scale(0.93,1)" font-size="11.8" text-anchor="end">MU16</text>
<text transform="translate(109.37,332.50) rotate(-90) scale(0.93,1)" font-size="11.8" text-anchor="end">MU15</text>
<text transform="translate(124.79,332.50) rotate(-90) scale(0.93,1)" font-size="11.8" text-anchor="end">MU14</text>
<text transform="translate(140.21,332.50) rotate(-90) scale(0.93,1)" font-size="11.8" text-anchor="end">MU13</text>
<text transform="translate(155.63,332.50) rotate(-90) scale(0.93,1)" font-size="11.8" text-anchor="end">MU12</text>
<text transform="translate(171.05,332.50) rotate(-90) scale(0.93,1)" font-size="11.8" text-anchor="end">MU11</text>
<text transform="translate(186.47,332.50) rotate(-90) scale(0.93,1)" font-size="11.8" text-anchor="end">MU10</text>
<text transform="translate(201.89,332.50) rotate(-90) scale(0.93,1)" font-size="11.8" text-anchor="end">MU09</text>
<text transform="translate(217.31,332.50) rotate(-90) scale(0.93,1)" font-size="11.8" text-anchor="end">MU08</text>
<text transform="translate(232.73,332.50) rotate(-90) scale(0.93,1)" font-size="11.8" text-anchor="end">MU07</text>
<text transform="translate(248.15,332.50) rotate(-90) scale(0.93,1)" font-size="11.8" text-anchor="end">MU06</text>
<text transform="translate(263.57,332.50) rotate(-90) scale(0.93,1)" font-size="11.8" text-anchor="end">MU05</text>
<text transform="translate(278.99,332.50) rotate(-90) scale(0.93,1)" font-size="11.8" text-anchor="end">MU04</text>
<text transform="translate(294.41,332.50) rotate(-90) scale(0.93,1)" font-size="11.8" text-anchor="end">MU03</text>
<text transform="translate(309.83,332.50) rotate(-90) scale(0.93,1)" font-size="11.8" text-anchor="end">MU02</text>
<text transform="translate(325.25,332.50) rotate(-90) scale(0.93,1)" font-size="11.8" text-anchor="end">MU01</text>
<rect x="55.50" y="292.14" width="5.00" height="33.06" fill="#3d3d3d" stroke="#000" stroke-width="1"/>
<rect x="60.50" y="303.49" width="4.00" height="21.71" fill="#f0f0f0" stroke="#000" stroke-width="1"/>
<line x1="58.50" y1="270.37" x2="58.50" y2="292.14" stroke="#262626" stroke-width="1.1" stroke-dasharray="6,1.6"/>
<line x1="56.10" y1="270.37" x2="60.90" y2="270.37" stroke="#262626" stroke-width="1.2"/>
<line x1="62.50" y1="289.30" x2="62.50" y2="303.49" stroke="#262626" stroke-width="1.1" stroke-dasharray="6,1.6"/>
<line x1="60.10" y1="289.30" x2="64.90" y2="289.30" stroke="#262626" stroke-width="1.2"/>
<rect x="70.50" y="308.22" width="5.00" height="16.98" fill="#3d3d3d" stroke="#000" stroke-width="1"/>
<rect x="75.50" y="298.41" width="5.00" height="26.79" fill="#f0f0f0" stroke="#000" stroke-width="1"/>
<line x1="73.50" y1="298.41" x2="73.50" y2="308.22" stroke="#262626" stroke-width="1.1" stroke-dasharray="6,1.6"/>
<line x1="71.10" y1="298.41" x2="75.90" y2="298.41" stroke="#262626" stroke-width="1.2"/>
<line x1="78.50" y1="240.38" x2="78.50" y2="298.41" stroke="#262626" stroke-width="1.1" stroke-dasharray="6,1.6"/>
<line x1="76.10" y1="240.38" x2="80.90" y2="240.38" stroke="#262626" stroke-width="1.2"/>
<rect x="86.50" y="299.29" width="4.00" height="25.91" fill="#3d3d3d" stroke="#000" stroke-width="1"/>
<rect x="90.50" y="300.95" width="5.00" height="24.25" fill="#f0f0f0" stroke="#000" stroke-width="1"/>
<line x1="88.50" y1="265.52" x2="88.50" y2="299.29" stroke="#262626" stroke-width="1.1" stroke-dasharray="6,1.6"/>
<line x1="86.10" y1="265.52" x2="90.90" y2="265.52" stroke="#262626" stroke-width="1.2"/>
<line x1="93.50" y1="286.52" x2="93.50" y2="300.95" stroke="#262626" stroke-width="1.1" stroke-dasharray="6,1.6"/>
<line x1="91.10" y1="286.52" x2="95.90" y2="286.52" stroke="#262626" stroke-width="1.2"/>
<rect x="101.50" y="296.75" width="5.00" height="28.45" fill="#3d3d3d" stroke="#000" stroke-width="1"/>
<rect x="106.50" y="300.24" width="4.00" height="24.96" fill="#f0f0f0" stroke="#000" stroke-width="1"/>
<line x1="104.50" y1="276.40" x2="104.50" y2="296.75" stroke="#262626" stroke-width="1.1" stroke-dasharray="6,1.6"/>
<line x1="102.10" y1="276.40" x2="106.90" y2="276.40" stroke="#262626" stroke-width="1.2"/>
<line x1="108.50" y1="289.30" x2="108.50" y2="300.24" stroke="#262626" stroke-width="1.1" stroke-dasharray="6,1.6"/>
<line x1="106.10" y1="289.30" x2="110.90" y2="289.30" stroke="#262626" stroke-width="1.2"/>
<rect x="116.50" y="301.66" width="5.00" height="23.54" fill="#3d3d3d" stroke="#000" stroke-width="1"/>
<rect x="121.50" y="297.16" width="5.00" height="28.04" fill="#f0f0f0" stroke="#000" stroke-width="1"/>
<line x1="119.50" y1="280.60" x2="119.50" y2="301.66" stroke="#262626" stroke-width="1.1" stroke-dasharray="6,1.6"/>
<line x1="117.10" y1="280.60" x2="121.90" y2="280.60" stroke="#262626" stroke-width="1.2"/>
<line x1="124.50" y1="275.28" x2="124.50" y2="297.16" stroke="#262626" stroke-width="1.1" stroke-dasharray="6,1.6"/>
<line x1="122.10" y1="275.28" x2="126.90" y2="275.28" stroke="#262626" stroke-width="1.2"/>
<rect x="132.50" y="295.62" width="4.00" height="29.57" fill="#3d3d3d" stroke="#000" stroke-width="1"/>
<rect x="136.50" y="296.75" width="5.00" height="28.45" fill="#f0f0f0" stroke="#000" stroke-width="1"/>
<line x1="134.50" y1="268.30" x2="134.50" y2="295.62" stroke="#262626" stroke-width="1.1" stroke-dasharray="6,1.6"/>
<line x1="132.10" y1="268.30" x2="136.90" y2="268.30" stroke="#262626" stroke-width="1.2"/>
<line x1="139.50" y1="261.44" x2="139.50" y2="296.75" stroke="#262626" stroke-width="1.1" stroke-dasharray="6,1.6"/>
<line x1="137.10" y1="261.44" x2="141.90" y2="261.44" stroke="#262626" stroke-width="1.2"/>
<rect x="147.50" y="302.37" width="5.00" height="22.83" fill="#3d3d3d" stroke="#000" stroke-width="1"/>
<rect x="152.50" y="316.09" width="4.00" height="9.11" fill="#f0f0f0" stroke="#000" stroke-width="1"/>
<line x1="150.50" y1="245.58" x2="150.50" y2="302.37" stroke="#262626" stroke-width="1.1" stroke-dasharray="6,1.6"/>
<line x1="148.10" y1="245.58" x2="152.90" y2="245.58" stroke="#262626" stroke-width="1.2"/>
<line x1="154.50" y1="216.60" x2="154.50" y2="316.09" stroke="#262626" stroke-width="1.1" stroke-dasharray="6,1.6"/>
<line x1="152.10" y1="216.60" x2="156.90" y2="216.60" stroke="#262626" stroke-width="1.2"/>
<rect x="162.50" y="307.28" width="5.00" height="17.92" fill="#3d3d3d" stroke="#000" stroke-width="1"/>
<rect x="167.50" y="318.87" width="5.00" height="6.33" fill="#f0f0f0" stroke="#000" stroke-width="1"/>
<line x1="165.50" y1="296.45" x2="165.50" y2="307.28" stroke="#262626" stroke-width="1.1" stroke-dasharray="6,1.6"/>
<line x1="163.10" y1="296.45" x2="167.90" y2="296.45" stroke="#262626" stroke-width="1.2"/>
<line x1="170.50" y1="312.42" x2="170.50" y2="318.87" stroke="#262626" stroke-width="1.1" stroke-dasharray="6,1.6"/>
<line x1="168.10" y1="312.42" x2="172.90" y2="312.42" stroke="#262626" stroke-width="1.2"/>
<rect x="178.50" y="307.28" width="4.00" height="17.92" fill="#3d3d3d" stroke="#000" stroke-width="1"/>
<rect x="182.50" y="316.09" width="5.00" height="9.11" fill="#f0f0f0" stroke="#000" stroke-width="1"/>
<line x1="180.50" y1="291.43" x2="180.50" y2="307.28" stroke="#262626" stroke-width="1.1" stroke-dasharray="6,1.6"/>
<line x1="178.10" y1="291.43" x2="182.90" y2="291.43" stroke="#262626" stroke-width="1.2"/>
<line x1="185.50" y1="306.57" x2="185.50" y2="316.09" stroke="#262626" stroke-width="1.1" stroke-dasharray="6,1.6"/>
<line x1="183.10" y1="306.57" x2="187.90" y2="306.57" stroke="#262626" stroke-width="1.2"/>
<rect x="193.50" y="308.22" width="5.00" height="16.98" fill="#3d3d3d" stroke="#000" stroke-width="1"/>
<rect x="198.50" y="318.46" width="4.00" height="6.74" fill="#f0f0f0" stroke="#000" stroke-width="1"/>
<line x1="196.50" y1="296.75" x2="196.50" y2="308.22" stroke="#262626" stroke-width="1.1" stroke-dasharray="6,1.6"/>
<line x1="194.10" y1="296.75" x2="198.90" y2="296.75" stroke="#262626" stroke-width="1.2"/>
<line x1="200.50" y1="309.35" x2="200.50" y2="318.46" stroke="#262626" stroke-width="1.1" stroke-dasharray="6,1.6"/>
<line x1="198.10" y1="309.35" x2="202.90" y2="309.35" stroke="#262626" stroke-width="1.2"/>
<rect x="209.50" y="295.09" width="4.00" height="30.11" fill="#3d3d3d" stroke="#000" stroke-width="1"/>
<rect x="213.50" y="300.24" width="5.00" height="24.96" fill="#f0f0f0" stroke="#000" stroke-width="1"/>
<line x1="211.50" y1="243.75" x2="211.50" y2="295.09" stroke="#262626" stroke-width="1.1" stroke-dasharray="6,1.6"/>
<line x1="209.10" y1="243.75" x2="213.90" y2="243.75" stroke="#262626" stroke-width="1.2"/>
<line x1="216.50" y1="277.11" x2="216.50" y2="300.24" stroke="#262626" stroke-width="1.1" stroke-dasharray="6,1.6"/>
<line x1="214.10" y1="277.11" x2="218.90" y2="277.11" stroke="#262626" stroke-width="1.2"/>
<rect x="224.50" y="306.27" width="4.00" height="18.93" fill="#3d3d3d" stroke="#000" stroke-width="1"/>
<rect x="228.50" y="324.08" width="5.00" height="1.12" fill="#f0f0f0" stroke="#000" stroke-width="1"/>
<line x1="226.50" y1="286.63" x2="226.50" y2="306.27" stroke="#262626" stroke-width="1.1" stroke-dasharray="6,1.6"/>
<line x1="224.10" y1="286.63" x2="228.90" y2="286.63" stroke="#262626" stroke-width="1.2"/>
<line x1="231.50" y1="317.33" x2="231.50" y2="324.08" stroke="#262626" stroke-width="1.1" stroke-dasharray="6,1.6"/>
<line x1="229.10" y1="317.33" x2="233.90" y2="317.33" stroke="#262626" stroke-width="1.2"/>
<rect x="239.50" y="303.31" width="5.00" height="21.89" fill="#3d3d3d" stroke="#000" stroke-width="1"/>
<rect x="244.50" y="316.39" width="4.00" height="8.81" fill="#f0f0f0" stroke="#000" stroke-width="1"/>
<line x1="242.50" y1="290.36" x2="242.50" y2="303.31" stroke="#262626" stroke-width="1.1" stroke-dasharray="6,1.6"/>
<line x1="240.10" y1="290.36" x2="244.90" y2="290.36" stroke="#262626" stroke-width="1.2"/>
<line x1="246.50" y1="309.29" x2="246.50" y2="316.39" stroke="#262626" stroke-width="1.1" stroke-dasharray="6,1.6"/>
<line x1="244.10" y1="309.29" x2="248.90" y2="309.29" stroke="#262626" stroke-width="1.2"/>
<rect x="255.50" y="304.38" width="4.00" height="20.82" fill="#3d3d3d" stroke="#000" stroke-width="1"/>
<rect x="259.50" y="316.39" width="5.00" height="8.81" fill="#f0f0f0" stroke="#000" stroke-width="1"/>
<line x1="257.50" y1="288.29" x2="257.50" y2="304.38" stroke="#262626" stroke-width="1.1" stroke-dasharray="6,1.6"/>
<line x1="255.10" y1="288.29" x2="259.90" y2="288.29" stroke="#262626" stroke-width="1.2"/>
<line x1="262.50" y1="310.41" x2="262.50" y2="316.39" stroke="#262626" stroke-width="1.1" stroke-dasharray="6,1.6"/>
<line x1="260.10" y1="310.41" x2="264.90" y2="310.41" stroke="#262626" stroke-width="1.2"/>
<rect x="270.50" y="305.68" width="5.00" height="19.52" fill="#3d3d3d" stroke="#000" stroke-width="1"/>
<rect x="275.50" y="321.41" width="4.00" height="3.79" fill="#f0f0f0" stroke="#000" stroke-width="1"/>
<line x1="273.50" y1="290.36" x2="273.50" y2="305.68" stroke="#262626" stroke-width="1.1" stroke-dasharray="6,1.6"/>
<line x1="271.10" y1="290.36" x2="275.90" y2="290.36" stroke="#262626" stroke-width="1.2"/>
<line x1="277.50" y1="318.28" x2="277.50" y2="321.41" stroke="#262626" stroke-width="1.1" stroke-dasharray="6,1.6"/>
<line x1="275.10" y1="318.28" x2="279.90" y2="318.28" stroke="#262626" stroke-width="1.2"/>
<rect x="285.50" y="299.65" width="5.00" height="25.55" fill="#3d3d3d" stroke="#000" stroke-width="1"/>
<rect x="290.50" y="318.28" width="4.00" height="6.92" fill="#f0f0f0" stroke="#000" stroke-width="1"/>
<line x1="288.50" y1="267.53" x2="288.50" y2="299.65" stroke="#262626" stroke-width="1.1" stroke-dasharray="6,1.6"/>
<line x1="286.10" y1="267.53" x2="290.90" y2="267.53" stroke="#262626" stroke-width="1.2"/>
<line x1="292.50" y1="311.95" x2="292.50" y2="318.28" stroke="#262626" stroke-width="1.1" stroke-dasharray="6,1.6"/>
<line x1="290.10" y1="311.95" x2="294.90" y2="311.95" stroke="#262626" stroke-width="1.2"/>
<rect x="301.50" y="304.38" width="4.00" height="20.82" fill="#3d3d3d" stroke="#000" stroke-width="1"/>
<rect x="305.50" y="320.65" width="5.00" height="4.55" fill="#f0f0f0" stroke="#000" stroke-width="1"/>
<line x1="303.50" y1="266.58" x2="303.50" y2="304.38" stroke="#262626" stroke-width="1.1" stroke-dasharray="6,1.6"/>
<line x1="301.10" y1="266.58" x2="305.90" y2="266.58" stroke="#262626" stroke-width="1.2"/>
<line x1="308.50" y1="315.56" x2="308.50" y2="320.65" stroke="#262626" stroke-width="1.1" stroke-dasharray="6,1.6"/>
<line x1="306.10" y1="315.56" x2="310.90" y2="315.56" stroke="#262626" stroke-width="1.2"/>
<rect x="316.50" y="315.44" width="5.00" height="9.76" fill="#3d3d3d" stroke="#000" stroke-width="1"/>
<rect x="321.50" y="319.52" width="4.00" height="5.68" fill="#f0f0f0" stroke="#000" stroke-width="1"/>
<line x1="319.50" y1="291.01" x2="319.50" y2="315.44" stroke="#262626" stroke-width="1.1" stroke-dasharray="6,1.6"/>
<line x1="317.10" y1="291.01" x2="321.90" y2="291.01" stroke="#262626" stroke-width="1.2"/>
<line x1="323.50" y1="293.02" x2="323.50" y2="319.52" stroke="#262626" stroke-width="1.1" stroke-dasharray="6,1.6"/>
<line x1="321.10" y1="293.02" x2="325.90" y2="293.02" stroke="#262626" stroke-width="1.2"/>
<text transform="translate(18.30,267.80) rotate(-90) scale(0.78,1)" font-size="13.3" text-anchor="middle">SS (mg/L)</text>
<text transform="translate(58.40,204.30) scale(1.14,1)" font-size="11.8">(c)</text>
<line x1="393.50" y1="204.10" x2="393.50" y2="328.40" stroke="#8a8a8a" stroke-width="1.2"/>
<line x1="389.50" y1="328.40" x2="393.50" y2="328.40" stroke="#8a8a8a" stroke-width="1.2"/>
<text transform="translate(384.40,332.70) scale(0.92,1)" font-size="11.8" text-anchor="end">0</text>
<line x1="389.50" y1="315.97" x2="393.50" y2="315.97" stroke="#8a8a8a" stroke-width="1.2"/>
<text transform="translate(384.40,320.27) scale(0.92,1)" font-size="11.8" text-anchor="end">100</text>
<line x1="389.50" y1="303.54" x2="393.50" y2="303.54" stroke="#8a8a8a" stroke-width="1.2"/>
<text transform="translate(384.40,307.84) scale(0.92,1)" font-size="11.8" text-anchor="end">200</text>
<line x1="389.50" y1="291.11" x2="393.50" y2="291.11" stroke="#8a8a8a" stroke-width="1.2"/>
<text transform="translate(384.40,295.41) scale(0.92,1)" font-size="11.8" text-anchor="end">300</text>
<line x1="389.50" y1="278.68" x2="393.50" y2="278.68" stroke="#8a8a8a" stroke-width="1.2"/>
<text transform="translate(384.40,282.98) scale(0.92,1)" font-size="11.8" text-anchor="end">400</text>
<line x1="389.50" y1="266.25" x2="393.50" y2="266.25" stroke="#8a8a8a" stroke-width="1.2"/>
<text transform="translate(384.40,270.55) scale(0.92,1)" font-size="11.8" text-anchor="end">500</text>
<line x1="389.50" y1="253.82" x2="393.50" y2="253.82" stroke="#8a8a8a" stroke-width="1.2"/>
<text transform="translate(384.40,258.12) scale(0.92,1)" font-size="11.8" text-anchor="end">600</text>
<line x1="389.50" y1="241.39" x2="393.50" y2="241.39" stroke="#8a8a8a" stroke-width="1.2"/>
<text transform="translate(384.40,245.69) scale(0.92,1)" font-size="11.8" text-anchor="end">700</text>
<line x1="389.50" y1="228.96" x2="393.50" y2="228.96" stroke="#8a8a8a" stroke-width="1.2"/>
<text transform="translate(384.40,233.26) scale(0.92,1)" font-size="11.8" text-anchor="end">800</text>
<line x1="389.50" y1="216.53" x2="393.50" y2="216.53" stroke="#8a8a8a" stroke-width="1.2"/>
<text transform="translate(384.40,220.83) scale(0.92,1)" font-size="11.8" text-anchor="end">900</text>
<line x1="389.50" y1="204.10" x2="393.50" y2="204.10" stroke="#8a8a8a" stroke-width="1.2"/>
<text transform="translate(384.40,208.40) scale(0.92,1)" font-size="11.8" text-anchor="end">1000</text>
<line x1="393.50" y1="328.40" x2="673.04" y2="328.40" stroke="#8a8a8a" stroke-width="1.2"/>
<line x1="393.50" y1="328.40" x2="393.50" y2="331.90" stroke="#8a8a8a" stroke-width="1.2"/>
<line x1="409.03" y1="328.40" x2="409.03" y2="331.90" stroke="#8a8a8a" stroke-width="1.2"/>
<line x1="424.56" y1="328.40" x2="424.56" y2="331.90" stroke="#8a8a8a" stroke-width="1.2"/>
<line x1="440.09" y1="328.40" x2="440.09" y2="331.90" stroke="#8a8a8a" stroke-width="1.2"/>
<line x1="455.62" y1="328.40" x2="455.62" y2="331.90" stroke="#8a8a8a" stroke-width="1.2"/>
<line x1="471.15" y1="328.40" x2="471.15" y2="331.90" stroke="#8a8a8a" stroke-width="1.2"/>
<line x1="486.68" y1="328.40" x2="486.68" y2="331.90" stroke="#8a8a8a" stroke-width="1.2"/>
<line x1="502.21" y1="328.40" x2="502.21" y2="331.90" stroke="#8a8a8a" stroke-width="1.2"/>
<line x1="517.74" y1="328.40" x2="517.74" y2="331.90" stroke="#8a8a8a" stroke-width="1.2"/>
<line x1="533.27" y1="328.40" x2="533.27" y2="331.90" stroke="#8a8a8a" stroke-width="1.2"/>
<line x1="548.80" y1="328.40" x2="548.80" y2="331.90" stroke="#8a8a8a" stroke-width="1.2"/>
<line x1="564.33" y1="328.40" x2="564.33" y2="331.90" stroke="#8a8a8a" stroke-width="1.2"/>
<line x1="579.86" y1="328.40" x2="579.86" y2="331.90" stroke="#8a8a8a" stroke-width="1.2"/>
<line x1="595.39" y1="328.40" x2="595.39" y2="331.90" stroke="#8a8a8a" stroke-width="1.2"/>
<line x1="610.92" y1="328.40" x2="610.92" y2="331.90" stroke="#8a8a8a" stroke-width="1.2"/>
<line x1="626.45" y1="328.40" x2="626.45" y2="331.90" stroke="#8a8a8a" stroke-width="1.2"/>
<line x1="641.98" y1="328.40" x2="641.98" y2="331.90" stroke="#8a8a8a" stroke-width="1.2"/>
<line x1="657.51" y1="328.40" x2="657.51" y2="331.90" stroke="#8a8a8a" stroke-width="1.2"/>
<line x1="673.04" y1="328.40" x2="673.04" y2="331.90" stroke="#8a8a8a" stroke-width="1.2"/>
<text transform="translate(405.16,335.50) rotate(-90) scale(0.93,1)" font-size="11.8" text-anchor="end">MU18</text>
<text transform="translate(420.69,335.50) rotate(-90) scale(0.93,1)" font-size="11.8" text-anchor="end">MU17</text>
<text transform="translate(436.22,335.50) rotate(-90) scale(0.93,1)" font-size="11.8" text-anchor="end">MU16</text>
<text transform="translate(451.75,335.50) rotate(-90) scale(0.93,1)" font-size="11.8" text-anchor="end">MU15</text>
<text transform="translate(467.28,335.50) rotate(-90) scale(0.93,1)" font-size="11.8" text-anchor="end">MU14</text>
<text transform="translate(482.81,335.50) rotate(-90) scale(0.93,1)" font-size="11.8" text-anchor="end">MU13</text>
<text transform="translate(498.34,335.50) rotate(-90) scale(0.93,1)" font-size="11.8" text-anchor="end">MU12</text>
<text transform="translate(513.88,335.50) rotate(-90) scale(0.93,1)" font-size="11.8" text-anchor="end">MU11</text>
<text transform="translate(529.40,335.50) rotate(-90) scale(0.93,1)" font-size="11.8" text-anchor="end">MU10</text>
<text transform="translate(544.93,335.50) rotate(-90) scale(0.93,1)" font-size="11.8" text-anchor="end">MU09</text>
<text transform="translate(560.47,335.50) rotate(-90) scale(0.93,1)" font-size="11.8" text-anchor="end">MU08</text>
<text transform="translate(576.00,335.50) rotate(-90) scale(0.93,1)" font-size="11.8" text-anchor="end">MU07</text>
<text transform="translate(591.52,335.50) rotate(-90) scale(0.93,1)" font-size="11.8" text-anchor="end">MU06</text>
<text transform="translate(607.05,335.50) rotate(-90) scale(0.93,1)" font-size="11.8" text-anchor="end">MU05</text>
<text transform="translate(622.58,335.50) rotate(-90) scale(0.93,1)" font-size="11.8" text-anchor="end">MU04</text>
<text transform="translate(638.12,335.50) rotate(-90) scale(0.93,1)" font-size="11.8" text-anchor="end">MU03</text>
<text transform="translate(653.64,335.50) rotate(-90) scale(0.93,1)" font-size="11.8" text-anchor="end">MU02</text>
<text transform="translate(669.17,335.50) rotate(-90) scale(0.93,1)" font-size="11.8" text-anchor="end">MU01</text>
<rect x="396.50" y="300.68" width="5.00" height="27.72" fill="#3d3d3d" stroke="#000" stroke-width="1"/>
<rect x="401.50" y="296.45" width="5.00" height="31.95" fill="#f0f0f0" stroke="#000" stroke-width="1"/>
<line x1="399.50" y1="284.52" x2="399.50" y2="300.68" stroke="#5a5a5a" stroke-width="1.1" stroke-dasharray="6,1.6"/>
<line x1="397.10" y1="284.52" x2="401.90" y2="284.52" stroke="#5a5a5a" stroke-width="1.2"/>
<line x1="404.50" y1="280.30" x2="404.50" y2="296.45" stroke="#5a5a5a" stroke-width="1.1" stroke-dasharray="6,1.6"/>
<line x1="402.10" y1="280.30" x2="406.90" y2="280.30" stroke="#5a5a5a" stroke-width="1.2"/>
<rect x="412.50" y="278.18" width="5.00" height="50.22" fill="#3d3d3d" stroke="#000" stroke-width="1"/>
<rect x="417.50" y="320.57" width="4.00" height="7.83" fill="#f0f0f0" stroke="#000" stroke-width="1"/>
<line x1="415.50" y1="230.45" x2="415.50" y2="278.18" stroke="#5a5a5a" stroke-width="1.1" stroke-dasharray="6,1.6"/>
<line x1="413.10" y1="230.45" x2="417.90" y2="230.45" stroke="#5a5a5a" stroke-width="1.2"/>
<line x1="419.50" y1="278.56" x2="419.50" y2="320.57" stroke="#5a5a5a" stroke-width="1.1" stroke-dasharray="6,1.6"/>
<line x1="417.10" y1="278.56" x2="421.90" y2="278.56" stroke="#5a5a5a" stroke-width="1.2"/>
<rect x="427.50" y="292.23" width="5.00" height="36.17" fill="#3d3d3d" stroke="#000" stroke-width="1"/>
<rect x="432.50" y="259.29" width="5.00" height="69.11" fill="#f0f0f0" stroke="#000" stroke-width="1"/>
<line x1="430.50" y1="275.45" x2="430.50" y2="292.23" stroke="#5a5a5a" stroke-width="1.1" stroke-dasharray="6,1.6"/>
<line x1="428.10" y1="275.45" x2="432.90" y2="275.45" stroke="#5a5a5a" stroke-width="1.2"/>
<line x1="435.50" y1="228.09" x2="435.50" y2="259.29" stroke="#5a5a5a" stroke-width="1.1" stroke-dasharray="6,1.6"/>
<line x1="433.10" y1="228.09" x2="437.90" y2="228.09" stroke="#5a5a5a" stroke-width="1.2"/>
<rect x="443.50" y="285.14" width="5.00" height="43.26" fill="#3d3d3d" stroke="#000" stroke-width="1"/>
<rect x="448.50" y="268.24" width="4.00" height="60.16" fill="#f0f0f0" stroke="#000" stroke-width="1"/>
<line x1="446.50" y1="265.50" x2="446.50" y2="285.14" stroke="#5a5a5a" stroke-width="1.1" stroke-dasharray="6,1.6"/>
<line x1="444.10" y1="265.50" x2="448.90" y2="265.50" stroke="#5a5a5a" stroke-width="1.2"/>
<line x1="450.50" y1="247.23" x2="450.50" y2="268.24" stroke="#5a5a5a" stroke-width="1.1" stroke-dasharray="6,1.6"/>
<line x1="448.10" y1="247.23" x2="452.90" y2="247.23" stroke="#5a5a5a" stroke-width="1.2"/>
<rect x="458.50" y="283.40" width="5.00" height="45.00" fill="#3d3d3d" stroke="#000" stroke-width="1"/>
<rect x="463.50" y="250.71" width="5.00" height="77.69" fill="#f0f0f0" stroke="#000" stroke-width="1"/>
<line x1="461.50" y1="255.44" x2="461.50" y2="283.40" stroke="#5a5a5a" stroke-width="1.1" stroke-dasharray="6,1.6"/>
<line x1="459.10" y1="255.44" x2="463.90" y2="255.44" stroke="#5a5a5a" stroke-width="1.2"/>
<line x1="466.50" y1="228.09" x2="466.50" y2="250.71" stroke="#5a5a5a" stroke-width="1.1" stroke-dasharray="6,1.6"/>
<line x1="464.10" y1="228.09" x2="468.90" y2="228.09" stroke="#5a5a5a" stroke-width="1.2"/>
<rect x="474.50" y="297.20" width="5.00" height="31.20" fill="#3d3d3d" stroke="#000" stroke-width="1"/>
<rect x="479.50" y="252.95" width="4.00" height="75.45" fill="#f0f0f0" stroke="#000" stroke-width="1"/>
<line x1="477.50" y1="285.27" x2="477.50" y2="297.20" stroke="#5a5a5a" stroke-width="1.1" stroke-dasharray="6,1.6"/>
<line x1="475.10" y1="285.27" x2="479.90" y2="285.27" stroke="#5a5a5a" stroke-width="1.2"/>
<line x1="481.50" y1="217.15" x2="481.50" y2="252.95" stroke="#5a5a5a" stroke-width="1.1" stroke-dasharray="6,1.6"/>
<line x1="479.10" y1="217.15" x2="483.90" y2="217.15" stroke="#5a5a5a" stroke-width="1.2"/>
<rect x="489.50" y="300.68" width="5.00" height="27.72" fill="#3d3d3d" stroke="#000" stroke-width="1"/>
<rect x="494.50" y="281.04" width="5.00" height="47.36" fill="#f0f0f0" stroke="#000" stroke-width="1"/>
<line x1="492.50" y1="289.25" x2="492.50" y2="300.68" stroke="#5a5a5a" stroke-width="1.1" stroke-dasharray="6,1.6"/>
<line x1="490.10" y1="289.25" x2="494.90" y2="289.25" stroke="#5a5a5a" stroke-width="1.2"/>
<line x1="497.50" y1="268.36" x2="497.50" y2="281.04" stroke="#5a5a5a" stroke-width="1.1" stroke-dasharray="6,1.6"/>
<line x1="495.10" y1="268.36" x2="499.90" y2="268.36" stroke="#5a5a5a" stroke-width="1.2"/>
<rect x="505.50" y="293.97" width="5.00" height="34.43" fill="#3d3d3d" stroke="#000" stroke-width="1"/>
<rect x="510.50" y="284.40" width="4.00" height="44.00" fill="#f0f0f0" stroke="#000" stroke-width="1"/>
<line x1="508.50" y1="253.32" x2="508.50" y2="293.97" stroke="#5a5a5a" stroke-width="1.1" stroke-dasharray="6,1.6"/>
<line x1="506.10" y1="253.32" x2="510.90" y2="253.32" stroke="#5a5a5a" stroke-width="1.2"/>
<line x1="512.50" y1="265.26" x2="512.50" y2="284.40" stroke="#5a5a5a" stroke-width="1.1" stroke-dasharray="6,1.6"/>
<line x1="510.10" y1="265.26" x2="514.90" y2="265.26" stroke="#5a5a5a" stroke-width="1.2"/>
<rect x="520.50" y="300.18" width="5.00" height="28.22" fill="#3d3d3d" stroke="#000" stroke-width="1"/>
<rect x="525.50" y="288.38" width="5.00" height="40.02" fill="#f0f0f0" stroke="#000" stroke-width="1"/>
<line x1="523.50" y1="289.25" x2="523.50" y2="300.18" stroke="#5a5a5a" stroke-width="1.1" stroke-dasharray="6,1.6"/>
<line x1="521.10" y1="289.25" x2="525.90" y2="289.25" stroke="#5a5a5a" stroke-width="1.2"/>
<line x1="528.50" y1="272.22" x2="528.50" y2="288.38" stroke="#5a5a5a" stroke-width="1.1" stroke-dasharray="6,1.6"/>
<line x1="526.10" y1="272.22" x2="530.90" y2="272.22" stroke="#5a5a5a" stroke-width="1.2"/>
<rect x="536.50" y="305.16" width="5.00" height="23.24" fill="#3d3d3d" stroke="#000" stroke-width="1"/>
<rect x="541.50" y="293.22" width="4.00" height="35.18" fill="#f0f0f0" stroke="#000" stroke-width="1"/>
<line x1="539.50" y1="300.18" x2="539.50" y2="305.16" stroke="#5a5a5a" stroke-width="1.1" stroke-dasharray="6,1.6"/>
<line x1="537.10" y1="300.18" x2="541.90" y2="300.18" stroke="#5a5a5a" stroke-width="1.2"/>
<line x1="543.50" y1="275.45" x2="543.50" y2="293.22" stroke="#5a5a5a" stroke-width="1.1" stroke-dasharray="6,1.6"/>
<line x1="541.10" y1="275.45" x2="545.90" y2="275.45" stroke="#5a5a5a" stroke-width="1.2"/>
<rect x="551.50" y="305.16" width="5.00" height="23.24" fill="#3d3d3d" stroke="#000" stroke-width="1"/>
<rect x="556.50" y="304.41" width="5.00" height="23.99" fill="#f0f0f0" stroke="#000" stroke-width="1"/>
<line x1="554.50" y1="293.97" x2="554.50" y2="305.16" stroke="#5a5a5a" stroke-width="1.1" stroke-dasharray="6,1.6"/>
<line x1="552.10" y1="293.97" x2="556.90" y2="293.97" stroke="#5a5a5a" stroke-width="1.2"/>
<line x1="559.50" y1="298.07" x2="559.50" y2="304.41" stroke="#5a5a5a" stroke-width="1.1" stroke-dasharray="6,1.6"/>
<line x1="557.10" y1="298.07" x2="561.90" y2="298.07" stroke="#5a5a5a" stroke-width="1.2"/>
<rect x="567.50" y="308.39" width="5.00" height="20.01" fill="#3d3d3d" stroke="#000" stroke-width="1"/>
<rect x="572.50" y="309.38" width="4.00" height="19.02" fill="#f0f0f0" stroke="#000" stroke-width="1"/>
<line x1="570.50" y1="301.18" x2="570.50" y2="308.39" stroke="#5a5a5a" stroke-width="1.1" stroke-dasharray="6,1.6"/>
<line x1="568.10" y1="301.18" x2="572.90" y2="301.18" stroke="#5a5a5a" stroke-width="1.2"/>
<line x1="574.50" y1="304.41" x2="574.50" y2="309.38" stroke="#5a5a5a" stroke-width="1.1" stroke-dasharray="6,1.6"/>
<line x1="572.10" y1="304.41" x2="576.90" y2="304.41" stroke="#5a5a5a" stroke-width="1.2"/>
<rect x="582.50" y="309.26" width="5.00" height="19.14" fill="#3d3d3d" stroke="#000" stroke-width="1"/>
<rect x="587.50" y="309.26" width="5.00" height="19.14" fill="#f0f0f0" stroke="#000" stroke-width="1"/>
<line x1="585.50" y1="304.41" x2="585.50" y2="309.26" stroke="#5a5a5a" stroke-width="1.1" stroke-dasharray="6,1.6"/>
<line x1="583.10" y1="304.41" x2="587.90" y2="304.41" stroke="#5a5a5a" stroke-width="1.2"/>
<line x1="590.50" y1="301.55" x2="590.50" y2="309.26" stroke="#5a5a5a" stroke-width="1.1" stroke-dasharray="6,1.6"/>
<line x1="588.10" y1="301.55" x2="592.90" y2="301.55" stroke="#5a5a5a" stroke-width="1.2"/>
<rect x="598.50" y="307.27" width="5.00" height="21.13" fill="#3d3d3d" stroke="#000" stroke-width="1"/>
<rect x="603.50" y="306.27" width="4.00" height="22.13" fill="#f0f0f0" stroke="#000" stroke-width="1"/>
<line x1="601.50" y1="301.55" x2="601.50" y2="307.27" stroke="#5a5a5a" stroke-width="1.1" stroke-dasharray="6,1.6"/>
<line x1="599.10" y1="301.55" x2="603.90" y2="301.55" stroke="#5a5a5a" stroke-width="1.2"/>
<line x1="605.50" y1="300.81" x2="605.50" y2="306.27" stroke="#5a5a5a" stroke-width="1.1" stroke-dasharray="6,1.6"/>
<line x1="603.10" y1="300.81" x2="607.90" y2="300.81" stroke="#5a5a5a" stroke-width="1.2"/>
<rect x="613.50" y="311.25" width="5.00" height="17.15" fill="#3d3d3d" stroke="#000" stroke-width="1"/>
<rect x="618.50" y="307.27" width="5.00" height="21.13" fill="#f0f0f0" stroke="#000" stroke-width="1"/>
<line x1="616.50" y1="306.27" x2="616.50" y2="311.25" stroke="#5a5a5a" stroke-width="1.1" stroke-dasharray="6,1.6"/>
<line x1="614.10" y1="306.27" x2="618.90" y2="306.27" stroke="#5a5a5a" stroke-width="1.2"/>
<line x1="621.50" y1="302.30" x2="621.50" y2="307.27" stroke="#5a5a5a" stroke-width="1.1" stroke-dasharray="6,1.6"/>
<line x1="619.10" y1="302.30" x2="623.90" y2="302.30" stroke="#5a5a5a" stroke-width="1.2"/>
<rect x="629.50" y="311.12" width="5.00" height="17.28" fill="#3d3d3d" stroke="#000" stroke-width="1"/>
<rect x="634.50" y="313.24" width="4.00" height="15.16" fill="#f0f0f0" stroke="#000" stroke-width="1"/>
<line x1="632.50" y1="305.65" x2="632.50" y2="311.12" stroke="#5a5a5a" stroke-width="1.1" stroke-dasharray="6,1.6"/>
<line x1="630.10" y1="305.65" x2="634.90" y2="305.65" stroke="#5a5a5a" stroke-width="1.2"/>
<line x1="636.50" y1="308.88" x2="636.50" y2="313.24" stroke="#5a5a5a" stroke-width="1.1" stroke-dasharray="6,1.6"/>
<line x1="634.10" y1="308.88" x2="638.90" y2="308.88" stroke="#5a5a5a" stroke-width="1.2"/>
<rect x="644.50" y="311.12" width="5.00" height="17.28" fill="#3d3d3d" stroke="#000" stroke-width="1"/>
<rect x="649.50" y="313.48" width="5.00" height="14.92" fill="#f0f0f0" stroke="#000" stroke-width="1"/>
<line x1="647.50" y1="303.54" x2="647.50" y2="311.12" stroke="#5a5a5a" stroke-width="1.1" stroke-dasharray="6,1.6"/>
<line x1="645.10" y1="303.54" x2="649.90" y2="303.54" stroke="#5a5a5a" stroke-width="1.2"/>
<line x1="652.50" y1="308.39" x2="652.50" y2="313.48" stroke="#5a5a5a" stroke-width="1.1" stroke-dasharray="6,1.6"/>
<line x1="650.10" y1="308.39" x2="654.90" y2="308.39" stroke="#5a5a5a" stroke-width="1.2"/>
<rect x="660.50" y="313.24" width="5.00" height="15.16" fill="#3d3d3d" stroke="#000" stroke-width="1"/>
<rect x="665.50" y="313.48" width="4.00" height="14.92" fill="#f0f0f0" stroke="#000" stroke-width="1"/>
<line x1="663.50" y1="307.27" x2="663.50" y2="313.24" stroke="#5a5a5a" stroke-width="1.1" stroke-dasharray="6,1.6"/>
<line x1="661.10" y1="307.27" x2="665.90" y2="307.27" stroke="#5a5a5a" stroke-width="1.2"/>
<line x1="667.50" y1="309.51" x2="667.50" y2="313.48" stroke="#5a5a5a" stroke-width="1.1" stroke-dasharray="6,1.6"/>
<line x1="665.10" y1="309.51" x2="669.90" y2="309.51" stroke="#5a5a5a" stroke-width="1.2"/>
<text transform="translate(360.00,268.90) rotate(-90) scale(0.81,1)" font-size="12.9" text-anchor="middle">TS (mg/L)</text>
<text transform="translate(405.20,204.55) scale(1.15,1)" font-size="11.8">(d)</text>
<line x1="65.30" y1="396.70" x2="65.30" y2="514.80" stroke="#8a8a8a" stroke-width="1.2"/>
<line x1="61.30" y1="514.80" x2="65.30" y2="514.80" stroke="#8a8a8a" stroke-width="1.2"/>
<text transform="translate(56.20,519.10) scale(0.92,1)" font-size="11.8" text-anchor="end">0</text>
<line x1="61.30" y1="500.04" x2="65.30" y2="500.04" stroke="#8a8a8a" stroke-width="1.2"/>
<text transform="translate(56.20,504.34) scale(0.92,1)" font-size="11.8" text-anchor="end">20,000</text>
<line x1="61.30" y1="485.27" x2="65.30" y2="485.27" stroke="#8a8a8a" stroke-width="1.2"/>
<text transform="translate(56.20,489.57) scale(0.92,1)" font-size="11.8" text-anchor="end">40,000</text>
<line x1="61.30" y1="470.51" x2="65.30" y2="470.51" stroke="#8a8a8a" stroke-width="1.2"/>
<text transform="translate(56.20,474.81) scale(0.92,1)" font-size="11.8" text-anchor="end">60,000</text>
<line x1="61.30" y1="455.75" x2="65.30" y2="455.75" stroke="#8a8a8a" stroke-width="1.2"/>
<text transform="translate(56.20,460.05) scale(0.92,1)" font-size="11.8" text-anchor="end">80,000</text>
<line x1="61.30" y1="440.99" x2="65.30" y2="440.99" stroke="#8a8a8a" stroke-width="1.2"/>
<text transform="translate(56.20,445.29) scale(0.92,1)" font-size="11.8" text-anchor="end">100,000</text>
<line x1="61.30" y1="426.22" x2="65.30" y2="426.22" stroke="#8a8a8a" stroke-width="1.2"/>
<text transform="translate(56.20,430.52) scale(0.92,1)" font-size="11.8" text-anchor="end">120,000</text>
<line x1="61.30" y1="411.46" x2="65.30" y2="411.46" stroke="#8a8a8a" stroke-width="1.2"/>
<text transform="translate(56.20,415.76) scale(0.92,1)" font-size="11.8" text-anchor="end">140,000</text>
<line x1="61.30" y1="396.70" x2="65.30" y2="396.70" stroke="#8a8a8a" stroke-width="1.2"/>
<text transform="translate(56.20,401.00) scale(0.92,1)" font-size="11.8" text-anchor="end">160,000</text>
<line x1="65.30" y1="514.80" x2="330.26" y2="514.80" stroke="#8a8a8a" stroke-width="1.2"/>
<line x1="65.30" y1="514.80" x2="65.30" y2="518.30" stroke="#8a8a8a" stroke-width="1.2"/>
<line x1="80.02" y1="514.80" x2="80.02" y2="518.30" stroke="#8a8a8a" stroke-width="1.2"/>
<line x1="94.74" y1="514.80" x2="94.74" y2="518.30" stroke="#8a8a8a" stroke-width="1.2"/>
<line x1="109.46" y1="514.80" x2="109.46" y2="518.30" stroke="#8a8a8a" stroke-width="1.2"/>
<line x1="124.18" y1="514.80" x2="124.18" y2="518.30" stroke="#8a8a8a" stroke-width="1.2"/>
<line x1="138.90" y1="514.80" x2="138.90" y2="518.30" stroke="#8a8a8a" stroke-width="1.2"/>
<line x1="153.62" y1="514.80" x2="153.62" y2="518.30" stroke="#8a8a8a" stroke-width="1.2"/>
<line x1="168.34" y1="514.80" x2="168.34" y2="518.30" stroke="#8a8a8a" stroke-width="1.2"/>
<line x1="183.06" y1="514.80" x2="183.06" y2="518.30" stroke="#8a8a8a" stroke-width="1.2"/>
<line x1="197.78" y1="514.80" x2="197.78" y2="518.30" stroke="#8a8a8a" stroke-width="1.2"/>
<line x1="212.50" y1="514.80" x2="212.50" y2="518.30" stroke="#8a8a8a" stroke-width="1.2"/>
<line x1="227.22" y1="514.80" x2="227.22" y2="518.30" stroke="#8a8a8a" stroke-width="1.2"/>
<line x1="241.94" y1="514.80" x2="241.94" y2="518.30" stroke="#8a8a8a" stroke-width="1.2"/>
<line x1="256.66" y1="514.80" x2="256.66" y2="518.30" stroke="#8a8a8a" stroke-width="1.2"/>
<line x1="271.38" y1="514.80" x2="271.38" y2="518.30" stroke="#8a8a8a" stroke-width="1.2"/>
<line x1="286.10" y1="514.80" x2="286.10" y2="518.30" stroke="#8a8a8a" stroke-width="1.2"/>
<line x1="300.82" y1="514.80" x2="300.82" y2="518.30" stroke="#8a8a8a" stroke-width="1.2"/>
<line x1="315.54" y1="514.80" x2="315.54" y2="518.30" stroke="#8a8a8a" stroke-width="1.2"/>
<line x1="330.26" y1="514.80" x2="330.26" y2="518.30" stroke="#8a8a8a" stroke-width="1.2"/>
<text transform="translate(76.56,522.30) rotate(-90) scale(0.93,1)" font-size="11.8" text-anchor="end">MU18</text>
<text transform="translate(91.28,522.30) rotate(-90) scale(0.93,1)" font-size="11.8" text-anchor="end">MU17</text>
<text transform="translate(106.00,522.30) rotate(-90) scale(0.93,1)" font-size="11.8" text-anchor="end">MU16</text>
<text transform="translate(120.72,522.30) rotate(-90) scale(0.93,1)" font-size="11.8" text-anchor="end">MU15</text>
<text transform="translate(135.44,522.30) rotate(-90) scale(0.93,1)" font-size="11.8" text-anchor="end">MU14</text>
<text transform="translate(150.16,522.30) rotate(-90) scale(0.93,1)" font-size="11.8" text-anchor="end">MU13</text>
<text transform="translate(164.88,522.30) rotate(-90) scale(0.93,1)" font-size="11.8" text-anchor="end">MU12</text>
<text transform="translate(179.60,522.30) rotate(-90) scale(0.93,1)" font-size="11.8" text-anchor="end">MU11</text>
<text transform="translate(194.32,522.30) rotate(-90) scale(0.93,1)" font-size="11.8" text-anchor="end">MU10</text>
<text transform="translate(209.04,522.30) rotate(-90) scale(0.93,1)" font-size="11.8" text-anchor="end">MU09</text>
<text transform="translate(223.76,522.30) rotate(-90) scale(0.93,1)" font-size="11.8" text-anchor="end">MU08</text>
<text transform="translate(238.48,522.30) rotate(-90) scale(0.93,1)" font-size="11.8" text-anchor="end">MU07</text>
<text transform="translate(253.20,522.30) rotate(-90) scale(0.93,1)" font-size="11.8" text-anchor="end">MU06</text>
<text transform="translate(267.92,522.30) rotate(-90) scale(0.93,1)" font-size="11.8" text-anchor="end">MU05</text>
<text transform="translate(282.64,522.30) rotate(-90) scale(0.93,1)" font-size="11.8" text-anchor="end">MU04</text>
<text transform="translate(297.36,522.30) rotate(-90) scale(0.93,1)" font-size="11.8" text-anchor="end">MU03</text>
<text transform="translate(312.08,522.30) rotate(-90) scale(0.93,1)" font-size="11.8" text-anchor="end">MU02</text>
<text transform="translate(326.80,522.30) rotate(-90) scale(0.93,1)" font-size="11.8" text-anchor="end">MU01</text>
<rect x="68.50" y="513.69" width="5.00" height="1.11" fill="#3d3d3d" stroke="#000" stroke-width="1"/>
<rect x="73.50" y="417.52" width="4.00" height="97.28" fill="#f0f0f0" stroke="#000" stroke-width="1"/>
<line x1="75.50" y1="396.70" x2="75.50" y2="417.52" stroke="#444" stroke-width="1.1" stroke-dasharray="6,1.6"/>
<rect x="83.50" y="514.50" width="4.00" height="0.30" fill="#3d3d3d" stroke="#000" stroke-width="1"/>
<rect x="87.50" y="513.25" width="5.00" height="1.55" fill="#f0f0f0" stroke="#000" stroke-width="1"/>
<line x1="90.50" y1="509.93" x2="90.50" y2="513.25" stroke="#444" stroke-width="1.1" stroke-dasharray="6,1.6"/>
<line x1="88.10" y1="509.93" x2="92.90" y2="509.93" stroke="#444" stroke-width="1.2"/>
<rect x="98.50" y="514.50" width="4.00" height="0.30" fill="#3d3d3d" stroke="#000" stroke-width="1"/>
<rect x="102.50" y="512.29" width="5.00" height="2.51" fill="#f0f0f0" stroke="#000" stroke-width="1"/>
<line x1="105.50" y1="508.08" x2="105.50" y2="512.29" stroke="#444" stroke-width="1.1" stroke-dasharray="6,1.6"/>
<line x1="103.10" y1="508.08" x2="107.90" y2="508.08" stroke="#444" stroke-width="1.2"/>
<rect x="112.50" y="504.17" width="5.00" height="10.63" fill="#3d3d3d" stroke="#000" stroke-width="1"/>
<rect x="117.50" y="514.36" width="4.00" height="0.44" fill="#f0f0f0" stroke="#000" stroke-width="1"/>
<line x1="115.50" y1="501.07" x2="115.50" y2="504.17" stroke="#444" stroke-width="1.1" stroke-dasharray="6,1.6"/>
<line x1="113.10" y1="501.07" x2="117.90" y2="501.07" stroke="#444" stroke-width="1.2"/>
<line x1="119.50" y1="469.11" x2="119.50" y2="514.36" stroke="#444" stroke-width="1.1" stroke-dasharray="6,1.6"/>
<line x1="117.10" y1="469.11" x2="121.90" y2="469.11" stroke="#444" stroke-width="1.2"/>
<rect x="127.50" y="465.35" width="5.00" height="49.45" fill="#3d3d3d" stroke="#000" stroke-width="1"/>
<rect x="132.50" y="501.07" width="4.00" height="13.73" fill="#f0f0f0" stroke="#000" stroke-width="1"/>
<line x1="130.50" y1="425.63" x2="130.50" y2="465.35" stroke="#444" stroke-width="1.1" stroke-dasharray="6,1.6"/>
<line x1="128.10" y1="425.63" x2="132.90" y2="425.63" stroke="#444" stroke-width="1.2"/>
<line x1="134.50" y1="411.76" x2="134.50" y2="501.07" stroke="#444" stroke-width="1.1" stroke-dasharray="6,1.6"/>
<line x1="132.10" y1="411.76" x2="136.90" y2="411.76" stroke="#444" stroke-width="1.2"/>
<rect x="142.50" y="513.25" width="4.00" height="1.55" fill="#3d3d3d" stroke="#000" stroke-width="1"/>
<rect x="146.50" y="513.25" width="5.00" height="1.55" fill="#f0f0f0" stroke="#000" stroke-width="1"/>
<line x1="144.50" y1="511.55" x2="144.50" y2="513.25" stroke="#444" stroke-width="1.1" stroke-dasharray="6,1.6"/>
<line x1="142.10" y1="511.55" x2="146.90" y2="511.55" stroke="#444" stroke-width="1.2"/>
<line x1="149.50" y1="511.55" x2="149.50" y2="513.25" stroke="#444" stroke-width="1.1" stroke-dasharray="6,1.6"/>
<line x1="147.10" y1="511.55" x2="151.90" y2="511.55" stroke="#444" stroke-width="1.2"/>
<rect x="157.50" y="510.15" width="4.00" height="4.65" fill="#3d3d3d" stroke="#000" stroke-width="1"/>
<rect x="161.50" y="514.36" width="5.00" height="0.44" fill="#f0f0f0" stroke="#000" stroke-width="1"/>
<line x1="159.50" y1="507.42" x2="159.50" y2="510.15" stroke="#444" stroke-width="1.1" stroke-dasharray="6,1.6"/>
<line x1="157.10" y1="507.42" x2="161.90" y2="507.42" stroke="#444" stroke-width="1.2"/>
<line x1="164.50" y1="499.37" x2="164.50" y2="514.36" stroke="#444" stroke-width="1.1" stroke-dasharray="6,1.6"/>
<line x1="162.10" y1="499.37" x2="166.90" y2="499.37" stroke="#444" stroke-width="1.2"/>
<rect x="171.50" y="514.36" width="5.00" height="0.44" fill="#3d3d3d" stroke="#000" stroke-width="1"/>
<rect x="176.50" y="514.36" width="5.00" height="0.44" fill="#f0f0f0" stroke="#000" stroke-width="1"/>
<line x1="179.50" y1="512.00" x2="179.50" y2="514.36" stroke="#444" stroke-width="1.1" stroke-dasharray="6,1.6"/>
<line x1="177.10" y1="512.00" x2="181.90" y2="512.00" stroke="#444" stroke-width="1.2"/>
<rect x="186.50" y="514.50" width="5.00" height="0.30" fill="#3d3d3d" stroke="#000" stroke-width="1"/>
<rect x="191.50" y="514.06" width="4.00" height="0.74" fill="#f0f0f0" stroke="#000" stroke-width="1"/>
<line x1="193.50" y1="512.73" x2="193.50" y2="514.06" stroke="#444" stroke-width="1.1" stroke-dasharray="6,1.6"/>
<line x1="191.10" y1="512.73" x2="195.90" y2="512.73" stroke="#444" stroke-width="1.2"/>
<rect x="201.50" y="504.32" width="4.00" height="10.48" fill="#3d3d3d" stroke="#000" stroke-width="1"/>
<rect x="205.50" y="514.36" width="5.00" height="0.44" fill="#f0f0f0" stroke="#000" stroke-width="1"/>
<line x1="208.50" y1="467.41" x2="208.50" y2="514.36" stroke="#444" stroke-width="1.1" stroke-dasharray="6,1.6"/>
<line x1="206.10" y1="467.41" x2="210.90" y2="467.41" stroke="#444" stroke-width="1.2"/>
<rect x="216.50" y="491.92" width="4.00" height="22.88" fill="#3d3d3d" stroke="#000" stroke-width="1"/>
<rect x="220.50" y="514.36" width="5.00" height="0.44" fill="#f0f0f0" stroke="#000" stroke-width="1"/>
<line x1="218.50" y1="490.29" x2="218.50" y2="491.92" stroke="#444" stroke-width="1.1" stroke-dasharray="6,1.6"/>
<line x1="216.10" y1="490.29" x2="220.90" y2="490.29" stroke="#444" stroke-width="1.2"/>
<line x1="223.50" y1="465.35" x2="223.50" y2="514.36" stroke="#444" stroke-width="1.1" stroke-dasharray="6,1.6"/>
<line x1="221.10" y1="465.35" x2="225.90" y2="465.35" stroke="#444" stroke-width="1.2"/>
<rect x="230.50" y="512.73" width="5.00" height="2.07" fill="#3d3d3d" stroke="#000" stroke-width="1"/>
<rect x="235.50" y="514.36" width="5.00" height="0.44" fill="#f0f0f0" stroke="#000" stroke-width="1"/>
<line x1="238.50" y1="508.08" x2="238.50" y2="514.36" stroke="#444" stroke-width="1.1" stroke-dasharray="6,1.6"/>
<line x1="236.10" y1="508.08" x2="240.90" y2="508.08" stroke="#444" stroke-width="1.2"/>
<rect x="245.50" y="509.19" width="5.00" height="5.61" fill="#3d3d3d" stroke="#000" stroke-width="1"/>
<rect x="250.50" y="512.14" width="4.00" height="2.66" fill="#f0f0f0" stroke="#000" stroke-width="1"/>
<line x1="248.50" y1="505.43" x2="248.50" y2="509.19" stroke="#444" stroke-width="1.1" stroke-dasharray="6,1.6"/>
<line x1="246.10" y1="505.43" x2="250.90" y2="505.43" stroke="#444" stroke-width="1.2"/>
<line x1="252.50" y1="495.46" x2="252.50" y2="512.14" stroke="#444" stroke-width="1.1" stroke-dasharray="6,1.6"/>
<line x1="250.10" y1="495.46" x2="254.90" y2="495.46" stroke="#444" stroke-width="1.2"/>
<rect x="260.50" y="504.39" width="4.00" height="10.41" fill="#3d3d3d" stroke="#000" stroke-width="1"/>
<rect x="264.50" y="512.88" width="5.00" height="1.92" fill="#f0f0f0" stroke="#000" stroke-width="1"/>
<line x1="262.50" y1="500.26" x2="262.50" y2="504.39" stroke="#444" stroke-width="1.1" stroke-dasharray="6,1.6"/>
<line x1="260.10" y1="500.26" x2="264.90" y2="500.26" stroke="#444" stroke-width="1.2"/>
<line x1="267.50" y1="470.22" x2="267.50" y2="512.88" stroke="#444" stroke-width="1.1" stroke-dasharray="6,1.6"/>
<line x1="265.10" y1="470.22" x2="269.90" y2="470.22" stroke="#444" stroke-width="1.2"/>
<rect x="275.50" y="513.32" width="4.00" height="1.48" fill="#3d3d3d" stroke="#000" stroke-width="1"/>
<rect x="279.50" y="512.88" width="5.00" height="1.92" fill="#f0f0f0" stroke="#000" stroke-width="1"/>
<line x1="277.50" y1="507.34" x2="277.50" y2="513.32" stroke="#444" stroke-width="1.1" stroke-dasharray="6,1.6"/>
<line x1="275.10" y1="507.34" x2="279.90" y2="507.34" stroke="#444" stroke-width="1.2"/>
<line x1="282.50" y1="507.34" x2="282.50" y2="512.88" stroke="#444" stroke-width="1.1" stroke-dasharray="6,1.6"/>
<line x1="280.10" y1="507.34" x2="284.90" y2="507.34" stroke="#444" stroke-width="1.2"/>
<rect x="289.50" y="513.62" width="5.00" height="1.18" fill="#3d3d3d" stroke="#000" stroke-width="1"/>
<rect x="294.50" y="513.91" width="5.00" height="0.89" fill="#f0f0f0" stroke="#000" stroke-width="1"/>
<line x1="292.50" y1="512.44" x2="292.50" y2="513.62" stroke="#444" stroke-width="1.1" stroke-dasharray="6,1.6"/>
<line x1="290.10" y1="512.44" x2="294.90" y2="512.44" stroke="#444" stroke-width="1.2"/>
<line x1="297.50" y1="510.67" x2="297.50" y2="513.91" stroke="#444" stroke-width="1.1" stroke-dasharray="6,1.6"/>
<line x1="295.10" y1="510.67" x2="299.90" y2="510.67" stroke="#444" stroke-width="1.2"/>
<rect x="304.50" y="514.36" width="5.00" height="0.44" fill="#3d3d3d" stroke="#000" stroke-width="1"/>
<rect x="309.50" y="514.50" width="4.00" height="0.30" fill="#f0f0f0" stroke="#000" stroke-width="1"/>
<line x1="307.50" y1="511.85" x2="307.50" y2="514.36" stroke="#444" stroke-width="1.1" stroke-dasharray="6,1.6"/>
<line x1="305.10" y1="511.85" x2="309.90" y2="511.85" stroke="#444" stroke-width="1.2"/>
<line x1="311.50" y1="512.59" x2="311.50" y2="514.50" stroke="#444" stroke-width="1.1" stroke-dasharray="6,1.6"/>
<line x1="309.10" y1="512.59" x2="313.90" y2="512.59" stroke="#444" stroke-width="1.2"/>
<rect x="319.50" y="513.62" width="5.00" height="1.18" fill="#3d3d3d" stroke="#000" stroke-width="1"/>
<rect x="324.50" y="513.62" width="4.00" height="1.18" fill="#f0f0f0" stroke="#000" stroke-width="1"/>
<line x1="322.50" y1="512.88" x2="322.50" y2="513.62" stroke="#444" stroke-width="1.1" stroke-dasharray="6,1.6"/>
<line x1="320.10" y1="512.88" x2="324.90" y2="512.88" stroke="#444" stroke-width="1.2"/>
<line x1="326.50" y1="511.85" x2="326.50" y2="513.62" stroke="#444" stroke-width="1.1" stroke-dasharray="6,1.6"/>
<line x1="324.10" y1="511.85" x2="328.90" y2="511.85" stroke="#444" stroke-width="1.2"/>
<text transform="translate(16.80,456.55) rotate(-90) scale(0.973,1)" font-size="11.1" text-anchor="middle">Fecal coliform (MPN/100ml)</text>
<text transform="translate(80.30,393.35) scale(1.1,1)" font-size="11.8">(e)</text>
<line x1="77.8" y1="398" x2="85.5" y2="404" stroke="#000" stroke-width="1.2"/><polygon points="89,406.8 82.6,405.2 86.2,400.6" fill="#000"/><text transform="translate(84.2,419) scale(0.92,1)" font-size="11.8">600000</text>
<line x1="391.50" y1="394.50" x2="391.50" y2="513.20" stroke="#8a8a8a" stroke-width="1.2"/>
<line x1="387.50" y1="513.20" x2="391.50" y2="513.20" stroke="#8a8a8a" stroke-width="1.2"/>
<text transform="translate(382.60,517.50) scale(0.92,1)" font-size="11.8" text-anchor="end">0.0</text>
<line x1="387.50" y1="493.42" x2="391.50" y2="493.42" stroke="#8a8a8a" stroke-width="1.2"/>
<text transform="translate(382.60,497.72) scale(0.92,1)" font-size="11.8" text-anchor="end">2.0</text>
<line x1="387.50" y1="473.63" x2="391.50" y2="473.63" stroke="#8a8a8a" stroke-width="1.2"/>
<text transform="translate(382.60,477.93) scale(0.92,1)" font-size="11.8" text-anchor="end">4.0</text>
<line x1="387.50" y1="453.85" x2="391.50" y2="453.85" stroke="#8a8a8a" stroke-width="1.2"/>
<text transform="translate(382.60,458.15) scale(0.92,1)" font-size="11.8" text-anchor="end">6.0</text>
<line x1="387.50" y1="434.07" x2="391.50" y2="434.07" stroke="#8a8a8a" stroke-width="1.2"/>
<text transform="translate(382.60,438.37) scale(0.92,1)" font-size="11.8" text-anchor="end">8.0</text>
<line x1="387.50" y1="414.28" x2="391.50" y2="414.28" stroke="#8a8a8a" stroke-width="1.2"/>
<text transform="translate(382.60,418.58) scale(0.92,1)" font-size="11.8" text-anchor="end">10.0</text>
<line x1="387.50" y1="394.50" x2="391.50" y2="394.50" stroke="#8a8a8a" stroke-width="1.2"/>
<text transform="translate(382.60,398.80) scale(0.92,1)" font-size="11.8" text-anchor="end">12.0</text>
<line x1="391.50" y1="513.20" x2="669.24" y2="513.20" stroke="#8a8a8a" stroke-width="1.2"/>
<line x1="391.50" y1="513.20" x2="391.50" y2="516.70" stroke="#8a8a8a" stroke-width="1.2"/>
<line x1="406.93" y1="513.20" x2="406.93" y2="516.70" stroke="#8a8a8a" stroke-width="1.2"/>
<line x1="422.36" y1="513.20" x2="422.36" y2="516.70" stroke="#8a8a8a" stroke-width="1.2"/>
<line x1="437.79" y1="513.20" x2="437.79" y2="516.70" stroke="#8a8a8a" stroke-width="1.2"/>
<line x1="453.22" y1="513.20" x2="453.22" y2="516.70" stroke="#8a8a8a" stroke-width="1.2"/>
<line x1="468.65" y1="513.20" x2="468.65" y2="516.70" stroke="#8a8a8a" stroke-width="1.2"/>
<line x1="484.08" y1="513.20" x2="484.08" y2="516.70" stroke="#8a8a8a" stroke-width="1.2"/>
<line x1="499.51" y1="513.20" x2="499.51" y2="516.70" stroke="#8a8a8a" stroke-width="1.2"/>
<line x1="514.94" y1="513.20" x2="514.94" y2="516.70" stroke="#8a8a8a" stroke-width="1.2"/>
<line x1="530.37" y1="513.20" x2="530.37" y2="516.70" stroke="#8a8a8a" stroke-width="1.2"/>
<line x1="545.80" y1="513.20" x2="545.80" y2="516.70" stroke="#8a8a8a" stroke-width="1.2"/>
<line x1="561.23" y1="513.20" x2="561.23" y2="516.70" stroke="#8a8a8a" stroke-width="1.2"/>
<line x1="576.66" y1="513.20" x2="576.66" y2="516.70" stroke="#8a8a8a" stroke-width="1.2"/>
<line x1="592.09" y1="513.20" x2="592.09" y2="516.70" stroke="#8a8a8a" stroke-width="1.2"/>
<line x1="607.52" y1="513.20" x2="607.52" y2="516.70" stroke="#8a8a8a" stroke-width="1.2"/>
<line x1="622.95" y1="513.20" x2="622.95" y2="516.70" stroke="#8a8a8a" stroke-width="1.2"/>
<line x1="638.38" y1="513.20" x2="638.38" y2="516.70" stroke="#8a8a8a" stroke-width="1.2"/>
<line x1="653.81" y1="513.20" x2="653.81" y2="516.70" stroke="#8a8a8a" stroke-width="1.2"/>
<line x1="669.24" y1="513.20" x2="669.24" y2="516.70" stroke="#8a8a8a" stroke-width="1.2"/>
<text transform="translate(403.11,520.50) rotate(-90) scale(0.93,1)" font-size="11.8" text-anchor="end">MU18</text>
<text transform="translate(418.54,520.50) rotate(-90) scale(0.93,1)" font-size="11.8" text-anchor="end">MU17</text>
<text transform="translate(433.97,520.50) rotate(-90) scale(0.93,1)" font-size="11.8" text-anchor="end">MU16</text>
<text transform="translate(449.40,520.50) rotate(-90) scale(0.93,1)" font-size="11.8" text-anchor="end">MU15</text>
<text transform="translate(464.83,520.50) rotate(-90) scale(0.93,1)" font-size="11.8" text-anchor="end">MU14</text>
<text transform="translate(480.26,520.50) rotate(-90) scale(0.93,1)" font-size="11.8" text-anchor="end">MU13</text>
<text transform="translate(495.69,520.50) rotate(-90) scale(0.93,1)" font-size="11.8" text-anchor="end">MU12</text>
<text transform="translate(511.12,520.50) rotate(-90) scale(0.93,1)" font-size="11.8" text-anchor="end">MU11</text>
<text transform="translate(526.55,520.50) rotate(-90) scale(0.93,1)" font-size="11.8" text-anchor="end">MU10</text>
<text transform="translate(541.99,520.50) rotate(-90) scale(0.93,1)" font-size="11.8" text-anchor="end">MU09</text>
<text transform="translate(557.41,520.50) rotate(-90) scale(0.93,1)" font-size="11.8" text-anchor="end">MU08</text>
<text transform="translate(572.84,520.50) rotate(-90) scale(0.93,1)" font-size="11.8" text-anchor="end">MU07</text>
<text transform="translate(588.27,520.50) rotate(-90) scale(0.93,1)" font-size="11.8" text-anchor="end">MU06</text>
<text transform="translate(603.71,520.50) rotate(-90) scale(0.93,1)" font-size="11.8" text-anchor="end">MU05</text>
<text transform="translate(619.13,520.50) rotate(-90) scale(0.93,1)" font-size="11.8" text-anchor="end">MU04</text>
<text transform="translate(634.56,520.50) rotate(-90) scale(0.93,1)" font-size="11.8" text-anchor="end">MU03</text>
<text transform="translate(650.00,520.50) rotate(-90) scale(0.93,1)" font-size="11.8" text-anchor="end">MU02</text>
<text transform="translate(665.42,520.50) rotate(-90) scale(0.93,1)" font-size="11.8" text-anchor="end">MU01</text>
<rect x="394.50" y="492.23" width="5.00" height="20.97" fill="#3d3d3d" stroke="#000" stroke-width="1"/>
<rect x="399.50" y="471.66" width="5.00" height="41.55" fill="#f0f0f0" stroke="#000" stroke-width="1"/>
<line x1="397.50" y1="475.41" x2="397.50" y2="492.23" stroke="#444" stroke-width="1.1" stroke-dasharray="6,1.6"/>
<line x1="395.10" y1="475.41" x2="399.90" y2="475.41" stroke="#444" stroke-width="1.2"/>
<line x1="402.50" y1="403.40" x2="402.50" y2="471.66" stroke="#444" stroke-width="1.1" stroke-dasharray="6,1.6"/>
<line x1="400.10" y1="403.40" x2="404.90" y2="403.40" stroke="#444" stroke-width="1.2"/>
<rect x="410.50" y="494.01" width="4.00" height="19.19" fill="#3d3d3d" stroke="#000" stroke-width="1"/>
<rect x="414.50" y="491.24" width="5.00" height="21.96" fill="#f0f0f0" stroke="#000" stroke-width="1"/>
<line x1="412.50" y1="477.19" x2="412.50" y2="494.01" stroke="#444" stroke-width="1.1" stroke-dasharray="6,1.6"/>
<line x1="410.10" y1="477.19" x2="414.90" y2="477.19" stroke="#444" stroke-width="1.2"/>
<line x1="417.50" y1="484.22" x2="417.50" y2="491.24" stroke="#444" stroke-width="1.1" stroke-dasharray="6,1.6"/>
<line x1="415.10" y1="484.22" x2="419.90" y2="484.22" stroke="#444" stroke-width="1.2"/>
<rect x="425.50" y="496.09" width="5.00" height="17.11" fill="#3d3d3d" stroke="#000" stroke-width="1"/>
<rect x="430.50" y="498.26" width="4.00" height="14.94" fill="#f0f0f0" stroke="#000" stroke-width="1"/>
<line x1="428.50" y1="484.61" x2="428.50" y2="496.09" stroke="#444" stroke-width="1.1" stroke-dasharray="6,1.6"/>
<line x1="426.10" y1="484.61" x2="430.90" y2="484.61" stroke="#444" stroke-width="1.2"/>
<line x1="432.50" y1="492.23" x2="432.50" y2="498.26" stroke="#444" stroke-width="1.1" stroke-dasharray="6,1.6"/>
<line x1="430.10" y1="492.23" x2="434.90" y2="492.23" stroke="#444" stroke-width="1.2"/>
<rect x="441.50" y="501.03" width="4.00" height="12.17" fill="#3d3d3d" stroke="#000" stroke-width="1"/>
<rect x="445.50" y="501.03" width="5.00" height="12.17" fill="#f0f0f0" stroke="#000" stroke-width="1"/>
<line x1="443.50" y1="495.10" x2="443.50" y2="501.03" stroke="#444" stroke-width="1.1" stroke-dasharray="6,1.6"/>
<line x1="441.10" y1="495.10" x2="445.90" y2="495.10" stroke="#444" stroke-width="1.2"/>
<line x1="448.50" y1="496.09" x2="448.50" y2="501.03" stroke="#444" stroke-width="1.1" stroke-dasharray="6,1.6"/>
<line x1="446.10" y1="496.09" x2="450.90" y2="496.09" stroke="#444" stroke-width="1.2"/>
<rect x="456.50" y="496.09" width="5.00" height="17.11" fill="#3d3d3d" stroke="#000" stroke-width="1"/>
<rect x="461.50" y="492.23" width="4.00" height="20.97" fill="#f0f0f0" stroke="#000" stroke-width="1"/>
<line x1="459.50" y1="484.22" x2="459.50" y2="496.09" stroke="#444" stroke-width="1.1" stroke-dasharray="6,1.6"/>
<line x1="457.10" y1="484.22" x2="461.90" y2="484.22" stroke="#444" stroke-width="1.2"/>
<line x1="463.50" y1="481.15" x2="463.50" y2="492.23" stroke="#444" stroke-width="1.1" stroke-dasharray="6,1.6"/>
<line x1="461.10" y1="481.15" x2="465.90" y2="481.15" stroke="#444" stroke-width="1.2"/>
<rect x="471.50" y="500.04" width="5.00" height="13.16" fill="#3d3d3d" stroke="#000" stroke-width="1"/>
<rect x="476.50" y="496.09" width="5.00" height="17.11" fill="#f0f0f0" stroke="#000" stroke-width="1"/>
<line x1="474.50" y1="495.69" x2="474.50" y2="500.04" stroke="#444" stroke-width="1.1" stroke-dasharray="6,1.6"/>
<line x1="472.10" y1="495.69" x2="476.90" y2="495.69" stroke="#444" stroke-width="1.2"/>
<line x1="479.50" y1="490.25" x2="479.50" y2="496.09" stroke="#444" stroke-width="1.1" stroke-dasharray="6,1.6"/>
<line x1="477.10" y1="490.25" x2="481.90" y2="490.25" stroke="#444" stroke-width="1.2"/>
<rect x="487.50" y="501.03" width="4.00" height="12.17" fill="#3d3d3d" stroke="#000" stroke-width="1"/>
<rect x="491.50" y="501.03" width="5.00" height="12.17" fill="#f0f0f0" stroke="#000" stroke-width="1"/>
<line x1="489.50" y1="495.69" x2="489.50" y2="501.03" stroke="#444" stroke-width="1.1" stroke-dasharray="6,1.6"/>
<line x1="487.10" y1="495.69" x2="491.90" y2="495.69" stroke="#444" stroke-width="1.2"/>
<line x1="494.50" y1="494.31" x2="494.50" y2="501.03" stroke="#444" stroke-width="1.1" stroke-dasharray="6,1.6"/>
<line x1="492.10" y1="494.31" x2="496.90" y2="494.31" stroke="#444" stroke-width="1.2"/>
<rect x="502.50" y="500.04" width="5.00" height="13.16" fill="#3d3d3d" stroke="#000" stroke-width="1"/>
<rect x="507.50" y="499.65" width="4.00" height="13.55" fill="#f0f0f0" stroke="#000" stroke-width="1"/>
<line x1="505.50" y1="496.09" x2="505.50" y2="500.04" stroke="#444" stroke-width="1.1" stroke-dasharray="6,1.6"/>
<line x1="503.10" y1="496.09" x2="507.90" y2="496.09" stroke="#444" stroke-width="1.2"/>
<line x1="509.50" y1="491.54" x2="509.50" y2="499.65" stroke="#444" stroke-width="1.1" stroke-dasharray="6,1.6"/>
<line x1="507.10" y1="491.54" x2="511.90" y2="491.54" stroke="#444" stroke-width="1.2"/>
<rect x="518.50" y="498.26" width="4.00" height="14.94" fill="#3d3d3d" stroke="#000" stroke-width="1"/>
<rect x="522.50" y="501.03" width="5.00" height="12.17" fill="#f0f0f0" stroke="#000" stroke-width="1"/>
<line x1="520.50" y1="493.32" x2="520.50" y2="498.26" stroke="#444" stroke-width="1.1" stroke-dasharray="6,1.6"/>
<line x1="518.10" y1="493.32" x2="522.90" y2="493.32" stroke="#444" stroke-width="1.2"/>
<line x1="525.50" y1="497.08" x2="525.50" y2="501.03" stroke="#444" stroke-width="1.1" stroke-dasharray="6,1.6"/>
<line x1="523.10" y1="497.08" x2="527.90" y2="497.08" stroke="#444" stroke-width="1.2"/>
<rect x="533.50" y="498.26" width="5.00" height="14.94" fill="#3d3d3d" stroke="#000" stroke-width="1"/>
<rect x="538.50" y="499.65" width="4.00" height="13.55" fill="#f0f0f0" stroke="#000" stroke-width="1"/>
<line x1="536.50" y1="494.31" x2="536.50" y2="498.26" stroke="#444" stroke-width="1.1" stroke-dasharray="6,1.6"/>
<line x1="534.10" y1="494.31" x2="538.90" y2="494.31" stroke="#444" stroke-width="1.2"/>
<line x1="540.50" y1="490.25" x2="540.50" y2="499.65" stroke="#444" stroke-width="1.1" stroke-dasharray="6,1.6"/>
<line x1="538.10" y1="490.25" x2="542.90" y2="490.25" stroke="#444" stroke-width="1.2"/>
<rect x="548.50" y="500.34" width="5.00" height="12.86" fill="#3d3d3d" stroke="#000" stroke-width="1"/>
<rect x="553.50" y="501.03" width="5.00" height="12.17" fill="#f0f0f0" stroke="#000" stroke-width="1"/>
<line x1="551.50" y1="495.10" x2="551.50" y2="500.34" stroke="#444" stroke-width="1.1" stroke-dasharray="6,1.6"/>
<line x1="549.10" y1="495.10" x2="553.90" y2="495.10" stroke="#444" stroke-width="1.2"/>
<line x1="556.50" y1="497.27" x2="556.50" y2="501.03" stroke="#444" stroke-width="1.1" stroke-dasharray="6,1.6"/>
<line x1="554.10" y1="497.27" x2="558.90" y2="497.27" stroke="#444" stroke-width="1.2"/>
<rect x="564.50" y="498.26" width="4.00" height="14.94" fill="#3d3d3d" stroke="#000" stroke-width="1"/>
<rect x="568.50" y="500.34" width="5.00" height="12.86" fill="#f0f0f0" stroke="#000" stroke-width="1"/>
<line x1="566.50" y1="491.24" x2="566.50" y2="498.26" stroke="#444" stroke-width="1.1" stroke-dasharray="6,1.6"/>
<line x1="564.10" y1="491.24" x2="568.90" y2="491.24" stroke="#444" stroke-width="1.2"/>
<line x1="571.50" y1="496.38" x2="571.50" y2="500.34" stroke="#444" stroke-width="1.1" stroke-dasharray="6,1.6"/>
<line x1="569.10" y1="496.38" x2="573.90" y2="496.38" stroke="#444" stroke-width="1.2"/>
<rect x="579.50" y="495.59" width="5.00" height="17.61" fill="#3d3d3d" stroke="#000" stroke-width="1"/>
<rect x="584.50" y="498.36" width="4.00" height="14.84" fill="#f0f0f0" stroke="#000" stroke-width="1"/>
<line x1="582.50" y1="478.78" x2="582.50" y2="495.59" stroke="#444" stroke-width="1.1" stroke-dasharray="6,1.6"/>
<line x1="580.10" y1="478.78" x2="584.90" y2="478.78" stroke="#444" stroke-width="1.2"/>
<line x1="586.50" y1="492.43" x2="586.50" y2="498.36" stroke="#444" stroke-width="1.1" stroke-dasharray="6,1.6"/>
<line x1="584.10" y1="492.43" x2="588.90" y2="492.43" stroke="#444" stroke-width="1.2"/>
<rect x="594.50" y="499.65" width="5.00" height="13.55" fill="#3d3d3d" stroke="#000" stroke-width="1"/>
<rect x="599.50" y="499.95" width="5.00" height="13.25" fill="#f0f0f0" stroke="#000" stroke-width="1"/>
<line x1="597.50" y1="494.80" x2="597.50" y2="499.65" stroke="#444" stroke-width="1.1" stroke-dasharray="6,1.6"/>
<line x1="595.10" y1="494.80" x2="599.90" y2="494.80" stroke="#444" stroke-width="1.2"/>
<line x1="602.50" y1="494.80" x2="602.50" y2="499.95" stroke="#444" stroke-width="1.1" stroke-dasharray="6,1.6"/>
<line x1="600.10" y1="494.80" x2="604.90" y2="494.80" stroke="#444" stroke-width="1.2"/>
<rect x="610.50" y="501.23" width="4.00" height="11.97" fill="#3d3d3d" stroke="#000" stroke-width="1"/>
<rect x="614.50" y="502.02" width="5.00" height="11.18" fill="#f0f0f0" stroke="#000" stroke-width="1"/>
<line x1="612.50" y1="497.18" x2="612.50" y2="501.23" stroke="#444" stroke-width="1.1" stroke-dasharray="6,1.6"/>
<line x1="610.10" y1="497.18" x2="614.90" y2="497.18" stroke="#444" stroke-width="1.2"/>
<line x1="617.50" y1="497.67" x2="617.50" y2="502.02" stroke="#444" stroke-width="1.1" stroke-dasharray="6,1.6"/>
<line x1="615.10" y1="497.67" x2="619.90" y2="497.67" stroke="#444" stroke-width="1.2"/>
<rect x="625.50" y="501.23" width="5.00" height="11.97" fill="#3d3d3d" stroke="#000" stroke-width="1"/>
<rect x="630.50" y="501.23" width="4.00" height="11.97" fill="#f0f0f0" stroke="#000" stroke-width="1"/>
<line x1="628.50" y1="498.46" x2="628.50" y2="501.23" stroke="#444" stroke-width="1.1" stroke-dasharray="6,1.6"/>
<line x1="626.10" y1="498.46" x2="630.90" y2="498.46" stroke="#444" stroke-width="1.2"/>
<line x1="632.50" y1="495.30" x2="632.50" y2="501.23" stroke="#444" stroke-width="1.1" stroke-dasharray="6,1.6"/>
<line x1="630.10" y1="495.30" x2="634.90" y2="495.30" stroke="#444" stroke-width="1.2"/>
<rect x="641.50" y="501.23" width="4.00" height="11.97" fill="#3d3d3d" stroke="#000" stroke-width="1"/>
<rect x="645.50" y="504.10" width="5.00" height="9.10" fill="#f0f0f0" stroke="#000" stroke-width="1"/>
<line x1="643.50" y1="498.46" x2="643.50" y2="501.23" stroke="#444" stroke-width="1.1" stroke-dasharray="6,1.6"/>
<line x1="641.10" y1="498.46" x2="645.90" y2="498.46" stroke="#444" stroke-width="1.2"/>
<line x1="648.50" y1="501.23" x2="648.50" y2="504.10" stroke="#444" stroke-width="1.1" stroke-dasharray="6,1.6"/>
<line x1="646.10" y1="501.23" x2="650.90" y2="501.23" stroke="#444" stroke-width="1.2"/>
<rect x="656.50" y="502.32" width="5.00" height="10.88" fill="#3d3d3d" stroke="#000" stroke-width="1"/>
<rect x="661.50" y="502.32" width="4.00" height="10.88" fill="#f0f0f0" stroke="#000" stroke-width="1"/>
<line x1="659.50" y1="497.18" x2="659.50" y2="502.32" stroke="#444" stroke-width="1.1" stroke-dasharray="6,1.6"/>
<line x1="657.10" y1="497.18" x2="661.90" y2="497.18" stroke="#444" stroke-width="1.2"/>
<line x1="663.50" y1="497.47" x2="663.50" y2="502.32" stroke="#444" stroke-width="1.1" stroke-dasharray="6,1.6"/>
<line x1="661.10" y1="497.47" x2="665.90" y2="497.47" stroke="#444" stroke-width="1.2"/>
<text transform="translate(359.75,462.75) rotate(-90) scale(0.797,1)" font-size="13.4" text-anchor="middle">BOD (mg/L)</text>
<text transform="translate(400.00,395.35) scale(1.16,1)" font-size="11.8">(f )</text>
<line x1="45.10" y1="582.50" x2="45.10" y2="701.20" stroke="#b8b8b8" stroke-width="1.2"/>
<line x1="41.10" y1="701.20" x2="45.10" y2="701.20" stroke="#b8b8b8" stroke-width="1.2"/>
<text transform="translate(36.00,705.50) scale(0.92,1)" font-size="11.8" text-anchor="end">0</text>
<line x1="41.10" y1="688.01" x2="45.10" y2="688.01" stroke="#b8b8b8" stroke-width="1.2"/>
<text transform="translate(36.00,692.31) scale(0.92,1)" font-size="11.8" text-anchor="end">1</text>
<line x1="41.10" y1="674.82" x2="45.10" y2="674.82" stroke="#b8b8b8" stroke-width="1.2"/>
<text transform="translate(36.00,679.12) scale(0.92,1)" font-size="11.8" text-anchor="end">2</text>
<line x1="41.10" y1="661.63" x2="45.10" y2="661.63" stroke="#b8b8b8" stroke-width="1.2"/>
<text transform="translate(36.00,665.93) scale(0.92,1)" font-size="11.8" text-anchor="end">3</text>
<line x1="41.10" y1="648.44" x2="45.10" y2="648.44" stroke="#b8b8b8" stroke-width="1.2"/>
<text transform="translate(36.00,652.74) scale(0.92,1)" font-size="11.8" text-anchor="end">4</text>
<line x1="41.10" y1="635.26" x2="45.10" y2="635.26" stroke="#b8b8b8" stroke-width="1.2"/>
<text transform="translate(36.00,639.56) scale(0.92,1)" font-size="11.8" text-anchor="end">5</text>
<line x1="41.10" y1="622.07" x2="45.10" y2="622.07" stroke="#b8b8b8" stroke-width="1.2"/>
<text transform="translate(36.00,626.37) scale(0.92,1)" font-size="11.8" text-anchor="end">6</text>
<line x1="41.10" y1="608.88" x2="45.10" y2="608.88" stroke="#b8b8b8" stroke-width="1.2"/>
<text transform="translate(36.00,613.18) scale(0.92,1)" font-size="11.8" text-anchor="end">7</text>
<line x1="41.10" y1="595.69" x2="45.10" y2="595.69" stroke="#b8b8b8" stroke-width="1.2"/>
<text transform="translate(36.00,599.99) scale(0.92,1)" font-size="11.8" text-anchor="end">8</text>
<line x1="41.10" y1="582.50" x2="45.10" y2="582.50" stroke="#b8b8b8" stroke-width="1.2"/>
<text transform="translate(36.00,586.80) scale(0.92,1)" font-size="11.8" text-anchor="end">9</text>
<line x1="45.10" y1="701.20" x2="322.84" y2="701.20" stroke="#b8b8b8" stroke-width="1.2"/>
<line x1="45.10" y1="701.20" x2="45.10" y2="704.70" stroke="#b8b8b8" stroke-width="1.2"/>
<line x1="60.53" y1="701.20" x2="60.53" y2="704.70" stroke="#b8b8b8" stroke-width="1.2"/>
<line x1="75.96" y1="701.20" x2="75.96" y2="704.70" stroke="#b8b8b8" stroke-width="1.2"/>
<line x1="91.39" y1="701.20" x2="91.39" y2="704.70" stroke="#b8b8b8" stroke-width="1.2"/>
<line x1="106.82" y1="701.20" x2="106.82" y2="704.70" stroke="#b8b8b8" stroke-width="1.2"/>
<line x1="122.25" y1="701.20" x2="122.25" y2="704.70" stroke="#b8b8b8" stroke-width="1.2"/>
<line x1="137.68" y1="701.20" x2="137.68" y2="704.70" stroke="#b8b8b8" stroke-width="1.2"/>
<line x1="153.11" y1="701.20" x2="153.11" y2="704.70" stroke="#b8b8b8" stroke-width="1.2"/>
<line x1="168.54" y1="701.20" x2="168.54" y2="704.70" stroke="#b8b8b8" stroke-width="1.2"/>
<line x1="183.97" y1="701.20" x2="183.97" y2="704.70" stroke="#b8b8b8" stroke-width="1.2"/>
<line x1="199.40" y1="701.20" x2="199.40" y2="704.70" stroke="#b8b8b8" stroke-width="1.2"/>
<line x1="214.83" y1="701.20" x2="214.83" y2="704.70" stroke="#b8b8b8" stroke-width="1.2"/>
<line x1="230.26" y1="701.20" x2="230.26" y2="704.70" stroke="#b8b8b8" stroke-width="1.2"/>
<line x1="245.69" y1="701.20" x2="245.69" y2="704.70" stroke="#b8b8b8" stroke-width="1.2"/>
<line x1="261.12" y1="701.20" x2="261.12" y2="704.70" stroke="#b8b8b8" stroke-width="1.2"/>
<line x1="276.55" y1="701.20" x2="276.55" y2="704.70" stroke="#b8b8b8" stroke-width="1.2"/>
<line x1="291.98" y1="701.20" x2="291.98" y2="704.70" stroke="#b8b8b8" stroke-width="1.2"/>
<line x1="307.41" y1="701.20" x2="307.41" y2="704.70" stroke="#b8b8b8" stroke-width="1.2"/>
<line x1="322.84" y1="701.20" x2="322.84" y2="704.70" stroke="#b8b8b8" stroke-width="1.2"/>
<text transform="translate(56.71,708.70) rotate(-90) scale(0.93,1)" font-size="11.8" text-anchor="end">MU18</text>
<text transform="translate(72.15,708.70) rotate(-90) scale(0.93,1)" font-size="11.8" text-anchor="end">MU17</text>
<text transform="translate(87.58,708.70) rotate(-90) scale(0.93,1)" font-size="11.8" text-anchor="end">MU16</text>
<text transform="translate(103.00,708.70) rotate(-90) scale(0.93,1)" font-size="11.8" text-anchor="end">MU15</text>
<text transform="translate(118.44,708.70) rotate(-90) scale(0.93,1)" font-size="11.8" text-anchor="end">MU14</text>
<text transform="translate(133.87,708.70) rotate(-90) scale(0.93,1)" font-size="11.8" text-anchor="end">MU13</text>
<text transform="translate(149.30,708.70) rotate(-90) scale(0.93,1)" font-size="11.8" text-anchor="end">MU12</text>
<text transform="translate(164.72,708.70) rotate(-90) scale(0.93,1)" font-size="11.8" text-anchor="end">MU11</text>
<text transform="translate(180.16,708.70) rotate(-90) scale(0.93,1)" font-size="11.8" text-anchor="end">MU10</text>
<text transform="translate(195.59,708.70) rotate(-90) scale(0.93,1)" font-size="11.8" text-anchor="end">MU09</text>
<text transform="translate(211.01,708.70) rotate(-90) scale(0.93,1)" font-size="11.8" text-anchor="end">MU08</text>
<text transform="translate(226.44,708.70) rotate(-90) scale(0.93,1)" font-size="11.8" text-anchor="end">MU07</text>
<text transform="translate(241.88,708.70) rotate(-90) scale(0.93,1)" font-size="11.8" text-anchor="end">MU06</text>
<text transform="translate(257.31,708.70) rotate(-90) scale(0.93,1)" font-size="11.8" text-anchor="end">MU05</text>
<text transform="translate(272.73,708.70) rotate(-90) scale(0.93,1)" font-size="11.8" text-anchor="end">MU04</text>
<text transform="translate(288.16,708.70) rotate(-90) scale(0.93,1)" font-size="11.8" text-anchor="end">MU03</text>
<text transform="translate(303.59,708.70) rotate(-90) scale(0.93,1)" font-size="11.8" text-anchor="end">MU02</text>
<text transform="translate(319.02,708.70) rotate(-90) scale(0.93,1)" font-size="11.8" text-anchor="end">MU01</text>
<rect x="47.50" y="624.70" width="5.00" height="76.50" fill="#3d3d3d" stroke="#000" stroke-width="1"/>
<rect x="52.50" y="645.41" width="5.00" height="55.79" fill="#f0f0f0" stroke="#000" stroke-width="1"/>
<line x1="50.50" y1="611.52" x2="50.50" y2="624.70" stroke="#262626" stroke-width="1.1" stroke-dasharray="6,1.6"/>
<line x1="48.10" y1="611.52" x2="52.90" y2="611.52" stroke="#262626" stroke-width="1.2"/>
<line x1="55.50" y1="631.43" x2="55.50" y2="645.41" stroke="#262626" stroke-width="1.1" stroke-dasharray="6,1.6"/>
<line x1="53.10" y1="631.43" x2="57.90" y2="631.43" stroke="#262626" stroke-width="1.2"/>
<rect x="63.50" y="637.50" width="4.00" height="63.70" fill="#3d3d3d" stroke="#000" stroke-width="1"/>
<rect x="67.50" y="626.55" width="5.00" height="74.65" fill="#f0f0f0" stroke="#000" stroke-width="1"/>
<line x1="65.50" y1="627.61" x2="65.50" y2="637.50" stroke="#262626" stroke-width="1.1" stroke-dasharray="6,1.6"/>
<line x1="63.10" y1="627.61" x2="67.90" y2="627.61" stroke="#262626" stroke-width="1.2"/>
<line x1="70.50" y1="604.39" x2="70.50" y2="626.55" stroke="#262626" stroke-width="1.1" stroke-dasharray="6,1.6"/>
<line x1="68.10" y1="604.39" x2="72.90" y2="604.39" stroke="#262626" stroke-width="1.2"/>
<rect x="78.50" y="634.20" width="5.00" height="67.00" fill="#3d3d3d" stroke="#000" stroke-width="1"/>
<rect x="83.50" y="632.88" width="4.00" height="68.32" fill="#f0f0f0" stroke="#000" stroke-width="1"/>
<line x1="81.50" y1="621.93" x2="81.50" y2="634.20" stroke="#262626" stroke-width="1.1" stroke-dasharray="6,1.6"/>
<line x1="79.10" y1="621.93" x2="83.90" y2="621.93" stroke="#262626" stroke-width="1.2"/>
<line x1="85.50" y1="619.30" x2="85.50" y2="632.88" stroke="#262626" stroke-width="1.1" stroke-dasharray="6,1.6"/>
<line x1="83.10" y1="619.30" x2="87.90" y2="619.30" stroke="#262626" stroke-width="1.2"/>
<rect x="94.50" y="637.37" width="4.00" height="63.83" fill="#3d3d3d" stroke="#000" stroke-width="1"/>
<rect x="98.50" y="630.38" width="5.00" height="70.82" fill="#f0f0f0" stroke="#000" stroke-width="1"/>
<line x1="96.50" y1="625.63" x2="96.50" y2="637.37" stroke="#262626" stroke-width="1.1" stroke-dasharray="6,1.6"/>
<line x1="94.10" y1="625.63" x2="98.90" y2="625.63" stroke="#262626" stroke-width="1.2"/>
<line x1="101.50" y1="610.72" x2="101.50" y2="630.38" stroke="#262626" stroke-width="1.1" stroke-dasharray="6,1.6"/>
<line x1="99.10" y1="610.72" x2="103.90" y2="610.72" stroke="#262626" stroke-width="1.2"/>
<rect x="109.50" y="634.20" width="5.00" height="67.00" fill="#3d3d3d" stroke="#000" stroke-width="1"/>
<rect x="114.50" y="631.43" width="4.00" height="69.77" fill="#f0f0f0" stroke="#000" stroke-width="1"/>
<line x1="112.50" y1="619.30" x2="112.50" y2="634.20" stroke="#262626" stroke-width="1.1" stroke-dasharray="6,1.6"/>
<line x1="110.10" y1="619.30" x2="114.90" y2="619.30" stroke="#262626" stroke-width="1.2"/>
<line x1="116.50" y1="613.49" x2="116.50" y2="631.43" stroke="#262626" stroke-width="1.1" stroke-dasharray="6,1.6"/>
<line x1="114.10" y1="613.49" x2="118.90" y2="613.49" stroke="#262626" stroke-width="1.2"/>
<rect x="125.50" y="631.43" width="4.00" height="69.77" fill="#3d3d3d" stroke="#000" stroke-width="1"/>
<rect x="129.50" y="624.70" width="5.00" height="76.50" fill="#f0f0f0" stroke="#000" stroke-width="1"/>
<line x1="127.50" y1="618.37" x2="127.50" y2="631.43" stroke="#262626" stroke-width="1.1" stroke-dasharray="6,1.6"/>
<line x1="125.10" y1="618.37" x2="129.90" y2="618.37" stroke="#262626" stroke-width="1.2"/>
<line x1="132.50" y1="609.27" x2="132.50" y2="624.70" stroke="#262626" stroke-width="1.1" stroke-dasharray="6,1.6"/>
<line x1="130.10" y1="609.27" x2="134.90" y2="609.27" stroke="#262626" stroke-width="1.2"/>
<rect x="140.50" y="631.17" width="5.00" height="70.03" fill="#3d3d3d" stroke="#000" stroke-width="1"/>
<rect x="145.50" y="622.33" width="4.00" height="78.87" fill="#f0f0f0" stroke="#000" stroke-width="1"/>
<line x1="143.50" y1="617.45" x2="143.50" y2="631.17" stroke="#262626" stroke-width="1.1" stroke-dasharray="6,1.6"/>
<line x1="141.10" y1="617.45" x2="145.90" y2="617.45" stroke="#262626" stroke-width="1.2"/>
<line x1="147.50" y1="604.39" x2="147.50" y2="622.33" stroke="#262626" stroke-width="1.1" stroke-dasharray="6,1.6"/>
<line x1="145.10" y1="604.39" x2="149.90" y2="604.39" stroke="#262626" stroke-width="1.2"/>
<rect x="156.50" y="627.21" width="4.00" height="73.99" fill="#3d3d3d" stroke="#000" stroke-width="1"/>
<rect x="160.50" y="610.20" width="5.00" height="91.00" fill="#f0f0f0" stroke="#000" stroke-width="1"/>
<line x1="158.50" y1="612.04" x2="158.50" y2="627.21" stroke="#262626" stroke-width="1.1" stroke-dasharray="6,1.6"/>
<line x1="156.10" y1="612.04" x2="160.90" y2="612.04" stroke="#262626" stroke-width="1.2"/>
<line x1="163.50" y1="591.07" x2="163.50" y2="610.20" stroke="#262626" stroke-width="1.1" stroke-dasharray="6,1.6"/>
<line x1="161.10" y1="591.07" x2="165.90" y2="591.07" stroke="#262626" stroke-width="1.2"/>
<rect x="171.50" y="627.21" width="5.00" height="73.99" fill="#3d3d3d" stroke="#000" stroke-width="1"/>
<rect x="176.50" y="603.47" width="4.00" height="97.73" fill="#f0f0f0" stroke="#000" stroke-width="1"/>
<line x1="174.50" y1="615.34" x2="174.50" y2="627.21" stroke="#262626" stroke-width="1.1" stroke-dasharray="6,1.6"/>
<line x1="172.10" y1="615.34" x2="176.90" y2="615.34" stroke="#262626" stroke-width="1.2"/>
<line x1="178.50" y1="590.55" x2="178.50" y2="603.47" stroke="#262626" stroke-width="1.1" stroke-dasharray="6,1.6"/>
<line x1="176.10" y1="590.55" x2="180.90" y2="590.55" stroke="#262626" stroke-width="1.2"/>
<rect x="187.50" y="627.21" width="4.00" height="73.99" fill="#3d3d3d" stroke="#000" stroke-width="1"/>
<rect x="191.50" y="606.50" width="5.00" height="94.70" fill="#f0f0f0" stroke="#000" stroke-width="1"/>
<line x1="189.50" y1="617.45" x2="189.50" y2="627.21" stroke="#262626" stroke-width="1.1" stroke-dasharray="6,1.6"/>
<line x1="187.10" y1="617.45" x2="191.90" y2="617.45" stroke="#262626" stroke-width="1.2"/>
<line x1="194.50" y1="595.43" x2="194.50" y2="606.50" stroke="#262626" stroke-width="1.1" stroke-dasharray="6,1.6"/>
<line x1="192.10" y1="595.43" x2="196.90" y2="595.43" stroke="#262626" stroke-width="1.2"/>
<rect x="202.50" y="617.45" width="5.00" height="83.75" fill="#3d3d3d" stroke="#000" stroke-width="1"/>
<rect x="207.50" y="610.20" width="4.00" height="91.00" fill="#f0f0f0" stroke="#000" stroke-width="1"/>
<line x1="205.50" y1="597.40" x2="205.50" y2="617.45" stroke="#262626" stroke-width="1.1" stroke-dasharray="6,1.6"/>
<line x1="203.10" y1="597.40" x2="207.90" y2="597.40" stroke="#262626" stroke-width="1.2"/>
<line x1="209.50" y1="602.28" x2="209.50" y2="610.20" stroke="#262626" stroke-width="1.1" stroke-dasharray="6,1.6"/>
<line x1="207.10" y1="602.28" x2="211.90" y2="602.28" stroke="#262626" stroke-width="1.2"/>
<rect x="218.50" y="615.74" width="4.00" height="85.46" fill="#3d3d3d" stroke="#000" stroke-width="1"/>
<rect x="222.50" y="613.63" width="5.00" height="87.57" fill="#f0f0f0" stroke="#000" stroke-width="1"/>
<line x1="220.50" y1="598.46" x2="220.50" y2="615.74" stroke="#262626" stroke-width="1.1" stroke-dasharray="6,1.6"/>
<line x1="218.10" y1="598.46" x2="222.90" y2="598.46" stroke="#262626" stroke-width="1.2"/>
<line x1="225.50" y1="606.50" x2="225.50" y2="613.63" stroke="#262626" stroke-width="1.1" stroke-dasharray="6,1.6"/>
<line x1="223.10" y1="606.50" x2="227.90" y2="606.50" stroke="#262626" stroke-width="1.2"/>
<rect x="233.50" y="621.41" width="5.00" height="79.79" fill="#3d3d3d" stroke="#000" stroke-width="1"/>
<rect x="238.50" y="611.78" width="4.00" height="89.42" fill="#f0f0f0" stroke="#000" stroke-width="1"/>
<line x1="236.50" y1="604.53" x2="236.50" y2="621.41" stroke="#262626" stroke-width="1.1" stroke-dasharray="6,1.6"/>
<line x1="234.10" y1="604.53" x2="238.90" y2="604.53" stroke="#262626" stroke-width="1.2"/>
<line x1="240.50" y1="598.72" x2="240.50" y2="611.78" stroke="#262626" stroke-width="1.1" stroke-dasharray="6,1.6"/>
<line x1="238.10" y1="598.72" x2="242.90" y2="598.72" stroke="#262626" stroke-width="1.2"/>
<rect x="249.50" y="619.82" width="4.00" height="81.38" fill="#3d3d3d" stroke="#000" stroke-width="1"/>
<rect x="253.50" y="614.29" width="5.00" height="86.91" fill="#f0f0f0" stroke="#000" stroke-width="1"/>
<line x1="251.50" y1="603.47" x2="251.50" y2="619.82" stroke="#262626" stroke-width="1.1" stroke-dasharray="6,1.6"/>
<line x1="249.10" y1="603.47" x2="253.90" y2="603.47" stroke="#262626" stroke-width="1.2"/>
<line x1="256.50" y1="604.53" x2="256.50" y2="614.29" stroke="#262626" stroke-width="1.1" stroke-dasharray="6,1.6"/>
<line x1="254.10" y1="604.53" x2="258.90" y2="604.53" stroke="#262626" stroke-width="1.2"/>
<rect x="264.50" y="616.00" width="5.00" height="85.20" fill="#3d3d3d" stroke="#000" stroke-width="1"/>
<rect x="269.50" y="617.32" width="4.00" height="83.88" fill="#f0f0f0" stroke="#000" stroke-width="1"/>
<line x1="267.50" y1="590.41" x2="267.50" y2="616.00" stroke="#262626" stroke-width="1.1" stroke-dasharray="6,1.6"/>
<line x1="265.10" y1="590.41" x2="269.90" y2="590.41" stroke="#262626" stroke-width="1.2"/>
<line x1="271.50" y1="602.02" x2="271.50" y2="617.32" stroke="#262626" stroke-width="1.1" stroke-dasharray="6,1.6"/>
<line x1="269.10" y1="602.02" x2="273.90" y2="602.02" stroke="#262626" stroke-width="1.2"/>
<rect x="280.50" y="617.32" width="4.00" height="83.88" fill="#3d3d3d" stroke="#000" stroke-width="1"/>
<rect x="284.50" y="613.49" width="5.00" height="87.71" fill="#f0f0f0" stroke="#000" stroke-width="1"/>
<line x1="282.50" y1="598.06" x2="282.50" y2="617.32" stroke="#262626" stroke-width="1.1" stroke-dasharray="6,1.6"/>
<line x1="280.10" y1="598.06" x2="284.90" y2="598.06" stroke="#262626" stroke-width="1.2"/>
<line x1="287.50" y1="601.23" x2="287.50" y2="613.49" stroke="#262626" stroke-width="1.1" stroke-dasharray="6,1.6"/>
<line x1="285.10" y1="601.23" x2="289.90" y2="601.23" stroke="#262626" stroke-width="1.2"/>
<rect x="295.50" y="613.49" width="5.00" height="87.71" fill="#3d3d3d" stroke="#000" stroke-width="1"/>
<rect x="300.50" y="614.29" width="4.00" height="86.91" fill="#f0f0f0" stroke="#000" stroke-width="1"/>
<line x1="298.50" y1="589.09" x2="298.50" y2="613.49" stroke="#262626" stroke-width="1.1" stroke-dasharray="6,1.6"/>
<line x1="296.10" y1="589.09" x2="300.90" y2="589.09" stroke="#262626" stroke-width="1.2"/>
<line x1="302.50" y1="604.26" x2="302.50" y2="614.29" stroke="#262626" stroke-width="1.1" stroke-dasharray="6,1.6"/>
<line x1="300.10" y1="604.26" x2="304.90" y2="604.26" stroke="#262626" stroke-width="1.2"/>
<rect x="310.50" y="609.01" width="5.00" height="92.19" fill="#3d3d3d" stroke="#000" stroke-width="1"/>
<rect x="315.50" y="618.51" width="5.00" height="82.69" fill="#f0f0f0" stroke="#000" stroke-width="1"/>
<line x1="313.50" y1="598.72" x2="313.50" y2="609.01" stroke="#262626" stroke-width="1.1" stroke-dasharray="6,1.6"/>
<line x1="311.10" y1="598.72" x2="315.90" y2="598.72" stroke="#262626" stroke-width="1.2"/>
<line x1="318.50" y1="608.48" x2="318.50" y2="618.51" stroke="#262626" stroke-width="1.1" stroke-dasharray="6,1.6"/>
<line x1="316.10" y1="608.48" x2="320.90" y2="608.48" stroke="#262626" stroke-width="1.2"/>
<text transform="translate(18.40,647.65) rotate(-90) scale(0.786,1)" font-size="13.3" text-anchor="middle">DO (mg/L)</text>
<text transform="translate(55.50,584.55) scale(1.14,1)" font-size="11.8">(g)</text>
<line x1="395.90" y1="581.80" x2="395.90" y2="701.20" stroke="#8a8a8a" stroke-width="1.2"/>
<line x1="391.90" y1="701.20" x2="395.90" y2="701.20" stroke="#8a8a8a" stroke-width="1.2"/>
<text transform="translate(386.00,705.50) scale(0.92,1)" font-size="11.8" text-anchor="end">0</text>
<line x1="391.90" y1="689.26" x2="395.90" y2="689.26" stroke="#8a8a8a" stroke-width="1.2"/>
<text transform="translate(386.00,693.56) scale(0.92,1)" font-size="11.8" text-anchor="end">200</text>
<line x1="391.90" y1="677.32" x2="395.90" y2="677.32" stroke="#8a8a8a" stroke-width="1.2"/>
<text transform="translate(386.00,681.62) scale(0.92,1)" font-size="11.8" text-anchor="end">400</text>
<line x1="391.90" y1="665.38" x2="395.90" y2="665.38" stroke="#8a8a8a" stroke-width="1.2"/>
<text transform="translate(386.00,669.68) scale(0.92,1)" font-size="11.8" text-anchor="end">600</text>
<line x1="391.90" y1="653.44" x2="395.90" y2="653.44" stroke="#8a8a8a" stroke-width="1.2"/>
<text transform="translate(386.00,657.74) scale(0.92,1)" font-size="11.8" text-anchor="end">800</text>
<line x1="391.90" y1="641.50" x2="395.90" y2="641.50" stroke="#8a8a8a" stroke-width="1.2"/>
<text transform="translate(386.00,645.80) scale(0.92,1)" font-size="11.8" text-anchor="end">1000</text>
<line x1="391.90" y1="629.56" x2="395.90" y2="629.56" stroke="#8a8a8a" stroke-width="1.2"/>
<text transform="translate(386.00,633.86) scale(0.92,1)" font-size="11.8" text-anchor="end">1200</text>
<line x1="391.90" y1="617.62" x2="395.90" y2="617.62" stroke="#8a8a8a" stroke-width="1.2"/>
<text transform="translate(386.00,621.92) scale(0.92,1)" font-size="11.8" text-anchor="end">1400</text>
<line x1="391.90" y1="605.68" x2="395.90" y2="605.68" stroke="#8a8a8a" stroke-width="1.2"/>
<text transform="translate(386.00,609.98) scale(0.92,1)" font-size="11.8" text-anchor="end">1600</text>
<line x1="391.90" y1="593.74" x2="395.90" y2="593.74" stroke="#8a8a8a" stroke-width="1.2"/>
<text transform="translate(386.00,598.04) scale(0.92,1)" font-size="11.8" text-anchor="end">1800</text>
<line x1="391.90" y1="581.80" x2="395.90" y2="581.80" stroke="#8a8a8a" stroke-width="1.2"/>
<text transform="translate(386.00,586.10) scale(0.92,1)" font-size="11.8" text-anchor="end">2000</text>
<line x1="395.90" y1="701.20" x2="674.00" y2="701.20" stroke="#8a8a8a" stroke-width="1.2"/>
<line x1="395.90" y1="701.20" x2="395.90" y2="704.70" stroke="#8a8a8a" stroke-width="1.2"/>
<line x1="411.35" y1="701.20" x2="411.35" y2="704.70" stroke="#8a8a8a" stroke-width="1.2"/>
<line x1="426.80" y1="701.20" x2="426.80" y2="704.70" stroke="#8a8a8a" stroke-width="1.2"/>
<line x1="442.25" y1="701.20" x2="442.25" y2="704.70" stroke="#8a8a8a" stroke-width="1.2"/>
<line x1="457.70" y1="701.20" x2="457.70" y2="704.70" stroke="#8a8a8a" stroke-width="1.2"/>
<line x1="473.15" y1="701.20" x2="473.15" y2="704.70" stroke="#8a8a8a" stroke-width="1.2"/>
<line x1="488.60" y1="701.20" x2="488.60" y2="704.70" stroke="#8a8a8a" stroke-width="1.2"/>
<line x1="504.05" y1="701.20" x2="504.05" y2="704.70" stroke="#8a8a8a" stroke-width="1.2"/>
<line x1="519.50" y1="701.20" x2="519.50" y2="704.70" stroke="#8a8a8a" stroke-width="1.2"/>
<line x1="534.95" y1="701.20" x2="534.95" y2="704.70" stroke="#8a8a8a" stroke-width="1.2"/>
<line x1="550.40" y1="701.20" x2="550.40" y2="704.70" stroke="#8a8a8a" stroke-width="1.2"/>
<line x1="565.85" y1="701.20" x2="565.85" y2="704.70" stroke="#8a8a8a" stroke-width="1.2"/>
<line x1="581.30" y1="701.20" x2="581.30" y2="704.70" stroke="#8a8a8a" stroke-width="1.2"/>
<line x1="596.75" y1="701.20" x2="596.75" y2="704.70" stroke="#8a8a8a" stroke-width="1.2"/>
<line x1="612.20" y1="701.20" x2="612.20" y2="704.70" stroke="#8a8a8a" stroke-width="1.2"/>
<line x1="627.65" y1="701.20" x2="627.65" y2="704.70" stroke="#8a8a8a" stroke-width="1.2"/>
<line x1="643.10" y1="701.20" x2="643.10" y2="704.70" stroke="#8a8a8a" stroke-width="1.2"/>
<line x1="658.55" y1="701.20" x2="658.55" y2="704.70" stroke="#8a8a8a" stroke-width="1.2"/>
<line x1="674.00" y1="701.20" x2="674.00" y2="704.70" stroke="#8a8a8a" stroke-width="1.2"/>
<text transform="translate(407.52,708.10) rotate(-90) scale(0.93,1)" font-size="11.8" text-anchor="end">MU18</text>
<text transform="translate(422.97,708.10) rotate(-90) scale(0.93,1)" font-size="11.8" text-anchor="end">MU17</text>
<text transform="translate(438.42,708.10) rotate(-90) scale(0.93,1)" font-size="11.8" text-anchor="end">MU16</text>
<text transform="translate(453.87,708.10) rotate(-90) scale(0.93,1)" font-size="11.8" text-anchor="end">MU15</text>
<text transform="translate(469.32,708.10) rotate(-90) scale(0.93,1)" font-size="11.8" text-anchor="end">MU14</text>
<text transform="translate(484.77,708.10) rotate(-90) scale(0.93,1)" font-size="11.8" text-anchor="end">MU13</text>
<text transform="translate(500.22,708.10) rotate(-90) scale(0.93,1)" font-size="11.8" text-anchor="end">MU12</text>
<text transform="translate(515.67,708.10) rotate(-90) scale(0.93,1)" font-size="11.8" text-anchor="end">MU11</text>
<text transform="translate(531.12,708.10) rotate(-90) scale(0.93,1)" font-size="11.8" text-anchor="end">MU10</text>
<text transform="translate(546.57,708.10) rotate(-90) scale(0.93,1)" font-size="11.8" text-anchor="end">MU09</text>
<text transform="translate(562.02,708.10) rotate(-90) scale(0.93,1)" font-size="11.8" text-anchor="end">MU08</text>
<text transform="translate(577.47,708.10) rotate(-90) scale(0.93,1)" font-size="11.8" text-anchor="end">MU07</text>
<text transform="translate(592.92,708.10) rotate(-90) scale(0.93,1)" font-size="11.8" text-anchor="end">MU06</text>
<text transform="translate(608.37,708.10) rotate(-90) scale(0.93,1)" font-size="11.8" text-anchor="end">MU05</text>
<text transform="translate(623.82,708.10) rotate(-90) scale(0.93,1)" font-size="11.8" text-anchor="end">MU04</text>
<text transform="translate(639.27,708.10) rotate(-90) scale(0.93,1)" font-size="11.8" text-anchor="end">MU03</text>
<text transform="translate(654.72,708.10) rotate(-90) scale(0.93,1)" font-size="11.8" text-anchor="end">MU02</text>
<text transform="translate(670.17,708.10) rotate(-90) scale(0.93,1)" font-size="11.8" text-anchor="end">MU01</text>
<rect x="398.50" y="692.13" width="5.00" height="9.07" fill="#3d3d3d" stroke="#000" stroke-width="1"/>
<rect x="403.50" y="680.25" width="4.00" height="20.95" fill="#f0f0f0" stroke="#000" stroke-width="1"/>
<line x1="401.50" y1="688.25" x2="401.50" y2="692.13" stroke="#262626" stroke-width="1.1" stroke-dasharray="6,1.6"/>
<line x1="399.10" y1="688.25" x2="403.90" y2="688.25" stroke="#262626" stroke-width="1.2"/>
<line x1="405.50" y1="663.41" x2="405.50" y2="680.25" stroke="#262626" stroke-width="1.1" stroke-dasharray="6,1.6"/>
<line x1="403.10" y1="663.41" x2="407.90" y2="663.41" stroke="#262626" stroke-width="1.2"/>
<rect x="414.50" y="667.65" width="4.00" height="33.55" fill="#3d3d3d" stroke="#000" stroke-width="1"/>
<rect x="418.50" y="639.41" width="5.00" height="61.79" fill="#f0f0f0" stroke="#000" stroke-width="1"/>
<line x1="416.50" y1="634.52" x2="416.50" y2="667.65" stroke="#262626" stroke-width="1.1" stroke-dasharray="6,1.6"/>
<line x1="414.10" y1="634.52" x2="418.90" y2="634.52" stroke="#262626" stroke-width="1.2"/>
<line x1="421.50" y1="588.01" x2="421.50" y2="639.41" stroke="#262626" stroke-width="1.1" stroke-dasharray="6,1.6"/>
<line x1="419.10" y1="588.01" x2="423.90" y2="588.01" stroke="#262626" stroke-width="1.2"/>
<rect x="429.50" y="680.25" width="5.00" height="20.95" fill="#3d3d3d" stroke="#000" stroke-width="1"/>
<rect x="434.50" y="644.60" width="4.00" height="56.60" fill="#f0f0f0" stroke="#000" stroke-width="1"/>
<line x1="432.50" y1="669.26" x2="432.50" y2="680.25" stroke="#262626" stroke-width="1.1" stroke-dasharray="6,1.6"/>
<line x1="430.10" y1="669.26" x2="434.90" y2="669.26" stroke="#262626" stroke-width="1.2"/>
<line x1="436.50" y1="621.92" x2="436.50" y2="644.60" stroke="#262626" stroke-width="1.1" stroke-dasharray="6,1.6"/>
<line x1="434.10" y1="621.92" x2="438.90" y2="621.92" stroke="#262626" stroke-width="1.2"/>
<rect x="445.50" y="674.63" width="4.00" height="26.57" fill="#3d3d3d" stroke="#000" stroke-width="1"/>
<rect x="449.50" y="648.78" width="5.00" height="52.42" fill="#f0f0f0" stroke="#000" stroke-width="1"/>
<line x1="447.50" y1="662.28" x2="447.50" y2="674.63" stroke="#262626" stroke-width="1.1" stroke-dasharray="6,1.6"/>
<line x1="445.10" y1="662.28" x2="449.90" y2="662.28" stroke="#262626" stroke-width="1.2"/>
<line x1="452.50" y1="633.32" x2="452.50" y2="648.78" stroke="#262626" stroke-width="1.1" stroke-dasharray="6,1.6"/>
<line x1="450.10" y1="633.32" x2="454.90" y2="633.32" stroke="#262626" stroke-width="1.2"/>
<rect x="460.50" y="673.20" width="5.00" height="28.00" fill="#3d3d3d" stroke="#000" stroke-width="1"/>
<rect x="465.50" y="638.40" width="4.00" height="62.80" fill="#f0f0f0" stroke="#000" stroke-width="1"/>
<line x1="463.50" y1="653.62" x2="463.50" y2="673.20" stroke="#262626" stroke-width="1.1" stroke-dasharray="6,1.6"/>
<line x1="461.10" y1="653.62" x2="465.90" y2="653.62" stroke="#262626" stroke-width="1.2"/>
<line x1="467.50" y1="617.62" x2="467.50" y2="638.40" stroke="#262626" stroke-width="1.1" stroke-dasharray="6,1.6"/>
<line x1="465.10" y1="617.62" x2="469.90" y2="617.62" stroke="#262626" stroke-width="1.2"/>
<rect x="476.50" y="683.29" width="4.00" height="17.91" fill="#3d3d3d" stroke="#000" stroke-width="1"/>
<rect x="480.50" y="642.46" width="5.00" height="58.74" fill="#f0f0f0" stroke="#000" stroke-width="1"/>
<line x1="478.50" y1="674.45" x2="478.50" y2="683.29" stroke="#262626" stroke-width="1.1" stroke-dasharray="6,1.6"/>
<line x1="476.10" y1="674.45" x2="480.90" y2="674.45" stroke="#262626" stroke-width="1.2"/>
<line x1="483.50" y1="619.29" x2="483.50" y2="642.46" stroke="#262626" stroke-width="1.1" stroke-dasharray="6,1.6"/>
<line x1="481.10" y1="619.29" x2="485.90" y2="619.29" stroke="#262626" stroke-width="1.2"/>
<rect x="491.50" y="686.16" width="5.00" height="15.04" fill="#3d3d3d" stroke="#000" stroke-width="1"/>
<rect x="496.50" y="663.23" width="4.00" height="37.97" fill="#f0f0f0" stroke="#000" stroke-width="1"/>
<line x1="494.50" y1="676.54" x2="494.50" y2="686.16" stroke="#262626" stroke-width="1.1" stroke-dasharray="6,1.6"/>
<line x1="492.10" y1="676.54" x2="496.90" y2="676.54" stroke="#262626" stroke-width="1.2"/>
<line x1="498.50" y1="637.56" x2="498.50" y2="663.23" stroke="#262626" stroke-width="1.1" stroke-dasharray="6,1.6"/>
<line x1="496.10" y1="637.56" x2="500.90" y2="637.56" stroke="#262626" stroke-width="1.2"/>
<rect x="507.50" y="687.77" width="4.00" height="13.43" fill="#3d3d3d" stroke="#000" stroke-width="1"/>
<rect x="511.50" y="659.47" width="5.00" height="41.73" fill="#f0f0f0" stroke="#000" stroke-width="1"/>
<line x1="509.50" y1="679.11" x2="509.50" y2="687.77" stroke="#262626" stroke-width="1.1" stroke-dasharray="6,1.6"/>
<line x1="507.10" y1="679.11" x2="511.90" y2="679.11" stroke="#262626" stroke-width="1.2"/>
<line x1="514.50" y1="635.47" x2="514.50" y2="659.47" stroke="#262626" stroke-width="1.1" stroke-dasharray="6,1.6"/>
<line x1="512.10" y1="635.47" x2="516.90" y2="635.47" stroke="#262626" stroke-width="1.2"/>
<rect x="522.50" y="686.16" width="5.00" height="15.04" fill="#3d3d3d" stroke="#000" stroke-width="1"/>
<rect x="527.50" y="660.48" width="5.00" height="40.72" fill="#f0f0f0" stroke="#000" stroke-width="1"/>
<line x1="525.50" y1="676.54" x2="525.50" y2="686.16" stroke="#262626" stroke-width="1.1" stroke-dasharray="6,1.6"/>
<line x1="523.10" y1="676.54" x2="527.90" y2="676.54" stroke="#262626" stroke-width="1.2"/>
<line x1="530.50" y1="635.47" x2="530.50" y2="660.48" stroke="#262626" stroke-width="1.1" stroke-dasharray="6,1.6"/>
<line x1="528.10" y1="635.47" x2="532.90" y2="635.47" stroke="#262626" stroke-width="1.2"/>
<rect x="538.50" y="687.77" width="4.00" height="13.43" fill="#3d3d3d" stroke="#000" stroke-width="1"/>
<rect x="542.50" y="668.31" width="5.00" height="32.89" fill="#f0f0f0" stroke="#000" stroke-width="1"/>
<line x1="540.50" y1="680.78" x2="540.50" y2="687.77" stroke="#262626" stroke-width="1.1" stroke-dasharray="6,1.6"/>
<line x1="538.10" y1="680.78" x2="542.90" y2="680.78" stroke="#262626" stroke-width="1.2"/>
<line x1="545.50" y1="650.16" x2="545.50" y2="668.31" stroke="#262626" stroke-width="1.1" stroke-dasharray="6,1.6"/>
<line x1="543.10" y1="650.16" x2="547.90" y2="650.16" stroke="#262626" stroke-width="1.2"/>
<rect x="553.50" y="690.04" width="5.00" height="11.16" fill="#3d3d3d" stroke="#000" stroke-width="1"/>
<rect x="558.50" y="684.42" width="5.00" height="16.78" fill="#f0f0f0" stroke="#000" stroke-width="1"/>
<line x1="556.50" y1="685.80" x2="556.50" y2="690.04" stroke="#262626" stroke-width="1.1" stroke-dasharray="6,1.6"/>
<line x1="554.10" y1="685.80" x2="558.90" y2="685.80" stroke="#262626" stroke-width="1.2"/>
<line x1="561.50" y1="678.39" x2="561.50" y2="684.42" stroke="#262626" stroke-width="1.1" stroke-dasharray="6,1.6"/>
<line x1="559.10" y1="678.39" x2="563.90" y2="678.39" stroke="#262626" stroke-width="1.2"/>
<rect x="569.50" y="682.33" width="5.00" height="18.87" fill="#3d3d3d" stroke="#000" stroke-width="1"/>
<rect x="574.50" y="688.60" width="4.00" height="12.60" fill="#f0f0f0" stroke="#000" stroke-width="1"/>
<line x1="572.50" y1="678.39" x2="572.50" y2="682.33" stroke="#262626" stroke-width="1.1" stroke-dasharray="6,1.6"/>
<line x1="570.10" y1="678.39" x2="574.90" y2="678.39" stroke="#262626" stroke-width="1.2"/>
<line x1="576.50" y1="683.29" x2="576.50" y2="688.60" stroke="#262626" stroke-width="1.1" stroke-dasharray="6,1.6"/>
<line x1="574.10" y1="683.29" x2="578.90" y2="683.29" stroke="#262626" stroke-width="1.2"/>
<rect x="584.50" y="688.30" width="5.00" height="12.90" fill="#3d3d3d" stroke="#000" stroke-width="1"/>
<rect x="589.50" y="683.11" width="5.00" height="18.09" fill="#f0f0f0" stroke="#000" stroke-width="1"/>
<line x1="587.50" y1="685.44" x2="587.50" y2="688.30" stroke="#262626" stroke-width="1.1" stroke-dasharray="6,1.6"/>
<line x1="585.10" y1="685.44" x2="589.90" y2="685.44" stroke="#262626" stroke-width="1.2"/>
<line x1="592.50" y1="676.19" x2="592.50" y2="683.11" stroke="#262626" stroke-width="1.1" stroke-dasharray="6,1.6"/>
<line x1="590.10" y1="676.19" x2="594.90" y2="676.19" stroke="#262626" stroke-width="1.2"/>
<rect x="600.50" y="688.30" width="5.00" height="12.90" fill="#3d3d3d" stroke="#000" stroke-width="1"/>
<rect x="605.50" y="683.11" width="4.00" height="18.09" fill="#f0f0f0" stroke="#000" stroke-width="1"/>
<line x1="603.50" y1="685.44" x2="603.50" y2="688.30" stroke="#262626" stroke-width="1.1" stroke-dasharray="6,1.6"/>
<line x1="601.10" y1="685.44" x2="605.90" y2="685.44" stroke="#262626" stroke-width="1.2"/>
<line x1="607.50" y1="675.23" x2="607.50" y2="683.11" stroke="#262626" stroke-width="1.1" stroke-dasharray="6,1.6"/>
<line x1="605.10" y1="675.23" x2="609.90" y2="675.23" stroke="#262626" stroke-width="1.2"/>
<rect x="616.50" y="690.39" width="4.00" height="10.81" fill="#3d3d3d" stroke="#000" stroke-width="1"/>
<rect x="620.50" y="685.14" width="5.00" height="16.06" fill="#f0f0f0" stroke="#000" stroke-width="1"/>
<line x1="618.50" y1="687.05" x2="618.50" y2="690.39" stroke="#262626" stroke-width="1.1" stroke-dasharray="6,1.6"/>
<line x1="616.10" y1="687.05" x2="620.90" y2="687.05" stroke="#262626" stroke-width="1.2"/>
<line x1="623.50" y1="680.72" x2="623.50" y2="685.14" stroke="#262626" stroke-width="1.1" stroke-dasharray="6,1.6"/>
<line x1="621.10" y1="680.72" x2="625.90" y2="680.72" stroke="#262626" stroke-width="1.2"/>
<rect x="631.50" y="691.47" width="5.00" height="9.73" fill="#3d3d3d" stroke="#000" stroke-width="1"/>
<rect x="636.50" y="689.92" width="4.00" height="11.28" fill="#f0f0f0" stroke="#000" stroke-width="1"/>
<line x1="634.50" y1="687.05" x2="634.50" y2="691.47" stroke="#262626" stroke-width="1.1" stroke-dasharray="6,1.6"/>
<line x1="632.10" y1="687.05" x2="636.90" y2="687.05" stroke="#262626" stroke-width="1.2"/>
<line x1="638.50" y1="686.45" x2="638.50" y2="689.92" stroke="#262626" stroke-width="1.1" stroke-dasharray="6,1.6"/>
<line x1="636.10" y1="686.45" x2="640.90" y2="686.45" stroke="#262626" stroke-width="1.2"/>
<rect x="647.50" y="691.47" width="4.00" height="9.73" fill="#3d3d3d" stroke="#000" stroke-width="1"/>
<rect x="651.50" y="690.69" width="5.00" height="10.51" fill="#f0f0f0" stroke="#000" stroke-width="1"/>
<line x1="649.50" y1="687.53" x2="649.50" y2="691.47" stroke="#262626" stroke-width="1.1" stroke-dasharray="6,1.6"/>
<line x1="647.10" y1="687.53" x2="651.90" y2="687.53" stroke="#262626" stroke-width="1.2"/>
<line x1="654.50" y1="687.05" x2="654.50" y2="690.69" stroke="#262626" stroke-width="1.1" stroke-dasharray="6,1.6"/>
<line x1="652.10" y1="687.05" x2="656.90" y2="687.05" stroke="#262626" stroke-width="1.2"/>
<rect x="662.50" y="690.22" width="5.00" height="10.98" fill="#3d3d3d" stroke="#000" stroke-width="1"/>
<rect x="667.50" y="690.69" width="4.00" height="10.51" fill="#f0f0f0" stroke="#000" stroke-width="1"/>
<line x1="665.50" y1="685.14" x2="665.50" y2="690.22" stroke="#262626" stroke-width="1.1" stroke-dasharray="6,1.6"/>
<line x1="663.10" y1="685.14" x2="667.90" y2="685.14" stroke="#262626" stroke-width="1.2"/>
<line x1="669.50" y1="688.30" x2="669.50" y2="690.69" stroke="#262626" stroke-width="1.1" stroke-dasharray="6,1.6"/>
<line x1="667.10" y1="688.30" x2="671.90" y2="688.30" stroke="#262626" stroke-width="1.2"/>
<text transform="translate(357.60,651.50) rotate(-90) scale(0.963,1)" font-size="13.9" text-anchor="middle">Conductivity (µs)</text>
<text transform="translate(406.00,582.15) scale(1.14,1)" font-size="11.8">(h)</text>
<line x1="51.90" y1="772.20" x2="51.90" y2="890.40" stroke="#b8b8b8" stroke-width="1.2"/>
<line x1="47.90" y1="890.40" x2="51.90" y2="890.40" stroke="#b8b8b8" stroke-width="1.2"/>
<text transform="translate(42.60,894.70) scale(0.92,1)" font-size="11.8" text-anchor="end">0.00</text>
<line x1="47.90" y1="866.76" x2="51.90" y2="866.76" stroke="#b8b8b8" stroke-width="1.2"/>
<text transform="translate(42.60,871.06) scale(0.92,1)" font-size="11.8" text-anchor="end">0.20</text>
<line x1="47.90" y1="843.12" x2="51.90" y2="843.12" stroke="#b8b8b8" stroke-width="1.2"/>
<text transform="translate(42.60,847.42) scale(0.92,1)" font-size="11.8" text-anchor="end">0.40</text>
<line x1="47.90" y1="819.48" x2="51.90" y2="819.48" stroke="#b8b8b8" stroke-width="1.2"/>
<text transform="translate(42.60,823.78) scale(0.92,1)" font-size="11.8" text-anchor="end">0.60</text>
<line x1="47.90" y1="795.84" x2="51.90" y2="795.84" stroke="#b8b8b8" stroke-width="1.2"/>
<text transform="translate(42.60,800.14) scale(0.92,1)" font-size="11.8" text-anchor="end">0.80</text>
<line x1="47.90" y1="772.20" x2="51.90" y2="772.20" stroke="#b8b8b8" stroke-width="1.2"/>
<text transform="translate(42.60,776.50) scale(0.92,1)" font-size="11.8" text-anchor="end">1.00</text>
<line x1="51.90" y1="890.40" x2="330.54" y2="890.40" stroke="#b8b8b8" stroke-width="1.2"/>
<line x1="51.90" y1="890.40" x2="51.90" y2="893.90" stroke="#b8b8b8" stroke-width="1.2"/>
<line x1="67.38" y1="890.40" x2="67.38" y2="893.90" stroke="#b8b8b8" stroke-width="1.2"/>
<line x1="82.86" y1="890.40" x2="82.86" y2="893.90" stroke="#b8b8b8" stroke-width="1.2"/>
<line x1="98.34" y1="890.40" x2="98.34" y2="893.90" stroke="#b8b8b8" stroke-width="1.2"/>
<line x1="113.82" y1="890.40" x2="113.82" y2="893.90" stroke="#b8b8b8" stroke-width="1.2"/>
<line x1="129.30" y1="890.40" x2="129.30" y2="893.90" stroke="#b8b8b8" stroke-width="1.2"/>
<line x1="144.78" y1="890.40" x2="144.78" y2="893.90" stroke="#b8b8b8" stroke-width="1.2"/>
<line x1="160.26" y1="890.40" x2="160.26" y2="893.90" stroke="#b8b8b8" stroke-width="1.2"/>
<line x1="175.74" y1="890.40" x2="175.74" y2="893.90" stroke="#b8b8b8" stroke-width="1.2"/>
<line x1="191.22" y1="890.40" x2="191.22" y2="893.90" stroke="#b8b8b8" stroke-width="1.2"/>
<line x1="206.70" y1="890.40" x2="206.70" y2="893.90" stroke="#b8b8b8" stroke-width="1.2"/>
<line x1="222.18" y1="890.40" x2="222.18" y2="893.90" stroke="#b8b8b8" stroke-width="1.2"/>
<line x1="237.66" y1="890.40" x2="237.66" y2="893.90" stroke="#b8b8b8" stroke-width="1.2"/>
<line x1="253.14" y1="890.40" x2="253.14" y2="893.90" stroke="#b8b8b8" stroke-width="1.2"/>
<line x1="268.62" y1="890.40" x2="268.62" y2="893.90" stroke="#b8b8b8" stroke-width="1.2"/>
<line x1="284.10" y1="890.40" x2="284.10" y2="893.90" stroke="#b8b8b8" stroke-width="1.2"/>
<line x1="299.58" y1="890.40" x2="299.58" y2="893.90" stroke="#b8b8b8" stroke-width="1.2"/>
<line x1="315.06" y1="890.40" x2="315.06" y2="893.90" stroke="#b8b8b8" stroke-width="1.2"/>
<line x1="330.54" y1="890.40" x2="330.54" y2="893.90" stroke="#b8b8b8" stroke-width="1.2"/>
<text transform="translate(63.54,897.50) rotate(-90) scale(0.93,1)" font-size="11.8" text-anchor="end">MU18</text>
<text transform="translate(79.02,897.50) rotate(-90) scale(0.93,1)" font-size="11.8" text-anchor="end">MU17</text>
<text transform="translate(94.50,897.50) rotate(-90) scale(0.93,1)" font-size="11.8" text-anchor="end">MU16</text>
<text transform="translate(109.98,897.50) rotate(-90) scale(0.93,1)" font-size="11.8" text-anchor="end">MU15</text>
<text transform="translate(125.46,897.50) rotate(-90) scale(0.93,1)" font-size="11.8" text-anchor="end">MU14</text>
<text transform="translate(140.94,897.50) rotate(-90) scale(0.93,1)" font-size="11.8" text-anchor="end">MU13</text>
<text transform="translate(156.42,897.50) rotate(-90) scale(0.93,1)" font-size="11.8" text-anchor="end">MU12</text>
<text transform="translate(171.90,897.50) rotate(-90) scale(0.93,1)" font-size="11.8" text-anchor="end">MU11</text>
<text transform="translate(187.38,897.50) rotate(-90) scale(0.93,1)" font-size="11.8" text-anchor="end">MU10</text>
<text transform="translate(202.86,897.50) rotate(-90) scale(0.93,1)" font-size="11.8" text-anchor="end">MU09</text>
<text transform="translate(218.34,897.50) rotate(-90) scale(0.93,1)" font-size="11.8" text-anchor="end">MU08</text>
<text transform="translate(233.82,897.50) rotate(-90) scale(0.93,1)" font-size="11.8" text-anchor="end">MU07</text>
<text transform="translate(249.30,897.50) rotate(-90) scale(0.93,1)" font-size="11.8" text-anchor="end">MU06</text>
<text transform="translate(264.78,897.50) rotate(-90) scale(0.93,1)" font-size="11.8" text-anchor="end">MU05</text>
<text transform="translate(280.26,897.50) rotate(-90) scale(0.93,1)" font-size="11.8" text-anchor="end">MU04</text>
<text transform="translate(295.74,897.50) rotate(-90) scale(0.93,1)" font-size="11.8" text-anchor="end">MU03</text>
<text transform="translate(311.22,897.50) rotate(-90) scale(0.93,1)" font-size="11.8" text-anchor="end">MU02</text>
<text transform="translate(326.70,897.50) rotate(-90) scale(0.93,1)" font-size="11.8" text-anchor="end">MU01</text>
<rect x="55.50" y="884.25" width="5.00" height="6.15" fill="#3d3d3d" stroke="#000" stroke-width="1"/>
<rect x="60.50" y="880.71" width="4.00" height="9.69" fill="#f0f0f0" stroke="#000" stroke-width="1"/>
<line x1="58.50" y1="878.34" x2="58.50" y2="884.25" stroke="#262626" stroke-width="1.1" stroke-dasharray="6,1.6"/>
<line x1="56.10" y1="878.34" x2="60.90" y2="878.34" stroke="#262626" stroke-width="1.2"/>
<line x1="62.50" y1="869.95" x2="62.50" y2="880.71" stroke="#262626" stroke-width="1.1" stroke-dasharray="6,1.6"/>
<line x1="60.10" y1="869.95" x2="64.90" y2="869.95" stroke="#262626" stroke-width="1.2"/>
<rect x="70.50" y="867.35" width="5.00" height="23.05" fill="#3d3d3d" stroke="#000" stroke-width="1"/>
<rect x="75.50" y="841.11" width="5.00" height="49.29" fill="#f0f0f0" stroke="#000" stroke-width="1"/>
<line x1="73.50" y1="830.24" x2="73.50" y2="867.35" stroke="#262626" stroke-width="1.1" stroke-dasharray="6,1.6"/>
<line x1="71.10" y1="830.24" x2="75.90" y2="830.24" stroke="#262626" stroke-width="1.2"/>
<line x1="78.50" y1="780.83" x2="78.50" y2="841.11" stroke="#262626" stroke-width="1.1" stroke-dasharray="6,1.6"/>
<line x1="76.10" y1="780.83" x2="80.90" y2="780.83" stroke="#262626" stroke-width="1.2"/>
<rect x="86.50" y="880.12" width="4.00" height="10.28" fill="#3d3d3d" stroke="#000" stroke-width="1"/>
<rect x="90.50" y="852.69" width="5.00" height="37.71" fill="#f0f0f0" stroke="#000" stroke-width="1"/>
<line x1="88.50" y1="870.66" x2="88.50" y2="880.12" stroke="#262626" stroke-width="1.1" stroke-dasharray="6,1.6"/>
<line x1="86.10" y1="870.66" x2="90.90" y2="870.66" stroke="#262626" stroke-width="1.2"/>
<line x1="93.50" y1="817.35" x2="93.50" y2="852.69" stroke="#262626" stroke-width="1.1" stroke-dasharray="6,1.6"/>
<line x1="91.10" y1="817.35" x2="95.90" y2="817.35" stroke="#262626" stroke-width="1.2"/>
<rect x="101.50" y="873.38" width="5.00" height="17.02" fill="#3d3d3d" stroke="#000" stroke-width="1"/>
<rect x="106.50" y="863.33" width="5.00" height="27.07" fill="#f0f0f0" stroke="#000" stroke-width="1"/>
<line x1="104.50" y1="861.09" x2="104.50" y2="873.38" stroke="#262626" stroke-width="1.1" stroke-dasharray="6,1.6"/>
<line x1="102.10" y1="861.09" x2="106.90" y2="861.09" stroke="#262626" stroke-width="1.2"/>
<line x1="109.50" y1="839.34" x2="109.50" y2="863.33" stroke="#262626" stroke-width="1.1" stroke-dasharray="6,1.6"/>
<line x1="107.10" y1="839.34" x2="111.90" y2="839.34" stroke="#262626" stroke-width="1.2"/>
<rect x="117.50" y="872.32" width="4.00" height="18.08" fill="#3d3d3d" stroke="#000" stroke-width="1"/>
<rect x="121.50" y="853.40" width="5.00" height="37.00" fill="#f0f0f0" stroke="#000" stroke-width="1"/>
<line x1="119.50" y1="851.63" x2="119.50" y2="872.32" stroke="#262626" stroke-width="1.1" stroke-dasharray="6,1.6"/>
<line x1="117.10" y1="851.63" x2="121.90" y2="851.63" stroke="#262626" stroke-width="1.2"/>
<line x1="124.50" y1="819.36" x2="124.50" y2="853.40" stroke="#262626" stroke-width="1.1" stroke-dasharray="6,1.6"/>
<line x1="122.10" y1="819.36" x2="126.90" y2="819.36" stroke="#262626" stroke-width="1.2"/>
<rect x="132.50" y="880.12" width="5.00" height="10.28" fill="#3d3d3d" stroke="#000" stroke-width="1"/>
<rect x="137.50" y="851.39" width="4.00" height="39.01" fill="#f0f0f0" stroke="#000" stroke-width="1"/>
<line x1="135.50" y1="870.66" x2="135.50" y2="880.12" stroke="#262626" stroke-width="1.1" stroke-dasharray="6,1.6"/>
<line x1="133.10" y1="870.66" x2="137.90" y2="870.66" stroke="#262626" stroke-width="1.2"/>
<line x1="139.50" y1="811.68" x2="139.50" y2="851.39" stroke="#262626" stroke-width="1.1" stroke-dasharray="6,1.6"/>
<line x1="137.10" y1="811.68" x2="141.90" y2="811.68" stroke="#262626" stroke-width="1.2"/>
<rect x="148.50" y="880.12" width="4.00" height="10.28" fill="#3d3d3d" stroke="#000" stroke-width="1"/>
<rect x="152.50" y="868.53" width="5.00" height="21.87" fill="#f0f0f0" stroke="#000" stroke-width="1"/>
<line x1="150.50" y1="867.59" x2="150.50" y2="880.12" stroke="#262626" stroke-width="1.1" stroke-dasharray="6,1.6"/>
<line x1="148.10" y1="867.59" x2="152.90" y2="867.59" stroke="#262626" stroke-width="1.2"/>
<line x1="155.50" y1="837.33" x2="155.50" y2="868.53" stroke="#262626" stroke-width="1.1" stroke-dasharray="6,1.6"/>
<line x1="153.10" y1="837.33" x2="157.90" y2="837.33" stroke="#262626" stroke-width="1.2"/>
<rect x="163.50" y="882.24" width="5.00" height="8.16" fill="#3d3d3d" stroke="#000" stroke-width="1"/>
<rect x="168.50" y="867.82" width="4.00" height="22.58" fill="#f0f0f0" stroke="#000" stroke-width="1"/>
<line x1="166.50" y1="875.51" x2="166.50" y2="882.24" stroke="#262626" stroke-width="1.1" stroke-dasharray="6,1.6"/>
<line x1="164.10" y1="875.51" x2="168.90" y2="875.51" stroke="#262626" stroke-width="1.2"/>
<line x1="170.50" y1="837.33" x2="170.50" y2="867.82" stroke="#262626" stroke-width="1.1" stroke-dasharray="6,1.6"/>
<line x1="168.10" y1="837.33" x2="172.90" y2="837.33" stroke="#262626" stroke-width="1.2"/>
<rect x="179.50" y="880.83" width="4.00" height="9.57" fill="#3d3d3d" stroke="#000" stroke-width="1"/>
<rect x="183.50" y="868.53" width="5.00" height="21.87" fill="#f0f0f0" stroke="#000" stroke-width="1"/>
<line x1="181.50" y1="872.08" x2="181.50" y2="880.83" stroke="#262626" stroke-width="1.1" stroke-dasharray="6,1.6"/>
<line x1="179.10" y1="872.08" x2="183.90" y2="872.08" stroke="#262626" stroke-width="1.2"/>
<line x1="186.50" y1="838.39" x2="186.50" y2="868.53" stroke="#262626" stroke-width="1.1" stroke-dasharray="6,1.6"/>
<line x1="184.10" y1="838.39" x2="188.90" y2="838.39" stroke="#262626" stroke-width="1.2"/>
<rect x="194.50" y="883.54" width="5.00" height="6.86" fill="#3d3d3d" stroke="#000" stroke-width="1"/>
<rect x="199.50" y="871.61" width="4.00" height="18.79" fill="#f0f0f0" stroke="#000" stroke-width="1"/>
<line x1="197.50" y1="876.22" x2="197.50" y2="883.54" stroke="#262626" stroke-width="1.1" stroke-dasharray="6,1.6"/>
<line x1="195.10" y1="876.22" x2="199.90" y2="876.22" stroke="#262626" stroke-width="1.2"/>
<line x1="201.50" y1="846.43" x2="201.50" y2="871.61" stroke="#262626" stroke-width="1.1" stroke-dasharray="6,1.6"/>
<line x1="199.10" y1="846.43" x2="203.90" y2="846.43" stroke="#262626" stroke-width="1.2"/>
<rect x="210.50" y="881.42" width="4.00" height="8.98" fill="#3d3d3d" stroke="#000" stroke-width="1"/>
<rect x="214.50" y="881.42" width="5.00" height="8.98" fill="#f0f0f0" stroke="#000" stroke-width="1"/>
<line x1="212.50" y1="874.80" x2="212.50" y2="881.42" stroke="#262626" stroke-width="1.1" stroke-dasharray="6,1.6"/>
<line x1="210.10" y1="874.80" x2="214.90" y2="874.80" stroke="#262626" stroke-width="1.2"/>
<line x1="217.50" y1="874.80" x2="217.50" y2="881.42" stroke="#262626" stroke-width="1.1" stroke-dasharray="6,1.6"/>
<line x1="215.10" y1="874.80" x2="219.90" y2="874.80" stroke="#262626" stroke-width="1.2"/>
<rect x="225.50" y="881.42" width="5.00" height="8.98" fill="#3d3d3d" stroke="#000" stroke-width="1"/>
<rect x="230.50" y="883.54" width="4.00" height="6.86" fill="#f0f0f0" stroke="#000" stroke-width="1"/>
<line x1="228.50" y1="874.80" x2="228.50" y2="881.42" stroke="#262626" stroke-width="1.1" stroke-dasharray="6,1.6"/>
<line x1="226.10" y1="874.80" x2="230.90" y2="874.80" stroke="#262626" stroke-width="1.2"/>
<line x1="232.50" y1="876.45" x2="232.50" y2="883.54" stroke="#262626" stroke-width="1.1" stroke-dasharray="6,1.6"/>
<line x1="230.10" y1="876.45" x2="234.90" y2="876.45" stroke="#262626" stroke-width="1.2"/>
<rect x="240.50" y="882.24" width="5.00" height="8.16" fill="#3d3d3d" stroke="#000" stroke-width="1"/>
<rect x="245.50" y="881.42" width="5.00" height="8.98" fill="#f0f0f0" stroke="#000" stroke-width="1"/>
<line x1="243.50" y1="876.69" x2="243.50" y2="882.24" stroke="#262626" stroke-width="1.1" stroke-dasharray="6,1.6"/>
<line x1="241.10" y1="876.69" x2="245.90" y2="876.69" stroke="#262626" stroke-width="1.2"/>
<line x1="248.50" y1="874.32" x2="248.50" y2="881.42" stroke="#262626" stroke-width="1.1" stroke-dasharray="6,1.6"/>
<line x1="246.10" y1="874.32" x2="250.90" y2="874.32" stroke="#262626" stroke-width="1.2"/>
<rect x="256.50" y="882.24" width="4.00" height="8.16" fill="#3d3d3d" stroke="#000" stroke-width="1"/>
<rect x="260.50" y="881.42" width="5.00" height="8.98" fill="#f0f0f0" stroke="#000" stroke-width="1"/>
<line x1="258.50" y1="876.69" x2="258.50" y2="882.24" stroke="#262626" stroke-width="1.1" stroke-dasharray="6,1.6"/>
<line x1="256.10" y1="876.69" x2="260.90" y2="876.69" stroke="#262626" stroke-width="1.2"/>
<line x1="263.50" y1="874.32" x2="263.50" y2="881.42" stroke="#262626" stroke-width="1.1" stroke-dasharray="6,1.6"/>
<line x1="261.10" y1="874.32" x2="265.90" y2="874.32" stroke="#262626" stroke-width="1.2"/>
<rect x="271.50" y="882.24" width="5.00" height="8.16" fill="#3d3d3d" stroke="#000" stroke-width="1"/>
<rect x="276.50" y="883.54" width="5.00" height="6.86" fill="#f0f0f0" stroke="#000" stroke-width="1"/>
<line x1="274.50" y1="875.51" x2="274.50" y2="882.24" stroke="#262626" stroke-width="1.1" stroke-dasharray="6,1.6"/>
<line x1="272.10" y1="875.51" x2="276.90" y2="875.51" stroke="#262626" stroke-width="1.2"/>
<line x1="279.50" y1="877.52" x2="279.50" y2="883.54" stroke="#262626" stroke-width="1.1" stroke-dasharray="6,1.6"/>
<line x1="277.10" y1="877.52" x2="281.90" y2="877.52" stroke="#262626" stroke-width="1.2"/>
<rect x="287.50" y="883.07" width="4.00" height="7.33" fill="#3d3d3d" stroke="#000" stroke-width="1"/>
<rect x="291.50" y="883.07" width="5.00" height="7.33" fill="#f0f0f0" stroke="#000" stroke-width="1"/>
<line x1="289.50" y1="877.52" x2="289.50" y2="883.07" stroke="#262626" stroke-width="1.1" stroke-dasharray="6,1.6"/>
<line x1="287.10" y1="877.52" x2="291.90" y2="877.52" stroke="#262626" stroke-width="1.2"/>
<line x1="294.50" y1="877.52" x2="294.50" y2="883.07" stroke="#262626" stroke-width="1.1" stroke-dasharray="6,1.6"/>
<line x1="292.10" y1="877.52" x2="296.90" y2="877.52" stroke="#262626" stroke-width="1.2"/>
<rect x="302.50" y="883.07" width="5.00" height="7.33" fill="#3d3d3d" stroke="#000" stroke-width="1"/>
<rect x="307.50" y="883.54" width="4.00" height="6.86" fill="#f0f0f0" stroke="#000" stroke-width="1"/>
<line x1="305.50" y1="877.52" x2="305.50" y2="883.07" stroke="#262626" stroke-width="1.1" stroke-dasharray="6,1.6"/>
<line x1="303.10" y1="877.52" x2="307.90" y2="877.52" stroke="#262626" stroke-width="1.2"/>
<line x1="309.50" y1="878.70" x2="309.50" y2="883.54" stroke="#262626" stroke-width="1.1" stroke-dasharray="6,1.6"/>
<line x1="307.10" y1="878.70" x2="311.90" y2="878.70" stroke="#262626" stroke-width="1.2"/>
<rect x="318.50" y="881.42" width="4.00" height="8.98" fill="#3d3d3d" stroke="#000" stroke-width="1"/>
<rect x="322.50" y="883.07" width="5.00" height="7.33" fill="#f0f0f0" stroke="#000" stroke-width="1"/>
<line x1="320.50" y1="876.69" x2="320.50" y2="881.42" stroke="#262626" stroke-width="1.1" stroke-dasharray="6,1.6"/>
<line x1="318.10" y1="876.69" x2="322.90" y2="876.69" stroke="#262626" stroke-width="1.2"/>
<line x1="325.50" y1="877.52" x2="325.50" y2="883.07" stroke="#262626" stroke-width="1.1" stroke-dasharray="6,1.6"/>
<line x1="323.10" y1="877.52" x2="327.90" y2="877.52" stroke="#262626" stroke-width="1.2"/>
<text transform="translate(17.40,839.30) rotate(-90) scale(0.84,1)" font-size="12.8" text-anchor="middle">Salinity&#160; (ppt)</text>
<text transform="translate(64.30,771.00) scale(1.14,1)" font-size="11.8">(k)</text>
<line x1="390.00" y1="770.70" x2="390.00" y2="890.30" stroke="#b8b8b8" stroke-width="1.2"/>
<line x1="386.00" y1="890.30" x2="390.00" y2="890.30" stroke="#b8b8b8" stroke-width="1.2"/>
<text transform="translate(381.00,894.60) scale(0.92,1)" font-size="11.8" text-anchor="end">0</text>
<line x1="386.00" y1="875.35" x2="390.00" y2="875.35" stroke="#b8b8b8" stroke-width="1.2"/>
<text transform="translate(381.00,879.65) scale(0.92,1)" font-size="11.8" text-anchor="end">5</text>
<line x1="386.00" y1="860.40" x2="390.00" y2="860.40" stroke="#b8b8b8" stroke-width="1.2"/>
<text transform="translate(381.00,864.70) scale(0.92,1)" font-size="11.8" text-anchor="end">10</text>
<line x1="386.00" y1="845.45" x2="390.00" y2="845.45" stroke="#b8b8b8" stroke-width="1.2"/>
<text transform="translate(381.00,849.75) scale(0.92,1)" font-size="11.8" text-anchor="end">15</text>
<line x1="386.00" y1="830.50" x2="390.00" y2="830.50" stroke="#b8b8b8" stroke-width="1.2"/>
<text transform="translate(381.00,834.80) scale(0.92,1)" font-size="11.8" text-anchor="end">20</text>
<line x1="386.00" y1="815.55" x2="390.00" y2="815.55" stroke="#b8b8b8" stroke-width="1.2"/>
<text transform="translate(381.00,819.85) scale(0.92,1)" font-size="11.8" text-anchor="end">25</text>
<line x1="386.00" y1="800.60" x2="390.00" y2="800.60" stroke="#b8b8b8" stroke-width="1.2"/>
<text transform="translate(381.00,804.90) scale(0.92,1)" font-size="11.8" text-anchor="end">30</text>
<line x1="386.00" y1="785.65" x2="390.00" y2="785.65" stroke="#b8b8b8" stroke-width="1.2"/>
<text transform="translate(381.00,789.95) scale(0.92,1)" font-size="11.8" text-anchor="end">35</text>
<line x1="386.00" y1="770.70" x2="390.00" y2="770.70" stroke="#b8b8b8" stroke-width="1.2"/>
<text transform="translate(381.00,775.00) scale(0.92,1)" font-size="11.8" text-anchor="end">40</text>
<line x1="390.00" y1="890.30" x2="666.48" y2="890.30" stroke="#b8b8b8" stroke-width="1.2"/>
<line x1="390.00" y1="890.30" x2="390.00" y2="893.80" stroke="#b8b8b8" stroke-width="1.2"/>
<line x1="405.36" y1="890.30" x2="405.36" y2="893.80" stroke="#b8b8b8" stroke-width="1.2"/>
<line x1="420.72" y1="890.30" x2="420.72" y2="893.80" stroke="#b8b8b8" stroke-width="1.2"/>
<line x1="436.08" y1="890.30" x2="436.08" y2="893.80" stroke="#b8b8b8" stroke-width="1.2"/>
<line x1="451.44" y1="890.30" x2="451.44" y2="893.80" stroke="#b8b8b8" stroke-width="1.2"/>
<line x1="466.80" y1="890.30" x2="466.80" y2="893.80" stroke="#b8b8b8" stroke-width="1.2"/>
<line x1="482.16" y1="890.30" x2="482.16" y2="893.80" stroke="#b8b8b8" stroke-width="1.2"/>
<line x1="497.52" y1="890.30" x2="497.52" y2="893.80" stroke="#b8b8b8" stroke-width="1.2"/>
<line x1="512.88" y1="890.30" x2="512.88" y2="893.80" stroke="#b8b8b8" stroke-width="1.2"/>
<line x1="528.24" y1="890.30" x2="528.24" y2="893.80" stroke="#b8b8b8" stroke-width="1.2"/>
<line x1="543.60" y1="890.30" x2="543.60" y2="893.80" stroke="#b8b8b8" stroke-width="1.2"/>
<line x1="558.96" y1="890.30" x2="558.96" y2="893.80" stroke="#b8b8b8" stroke-width="1.2"/>
<line x1="574.32" y1="890.30" x2="574.32" y2="893.80" stroke="#b8b8b8" stroke-width="1.2"/>
<line x1="589.68" y1="890.30" x2="589.68" y2="893.80" stroke="#b8b8b8" stroke-width="1.2"/>
<line x1="605.04" y1="890.30" x2="605.04" y2="893.80" stroke="#b8b8b8" stroke-width="1.2"/>
<line x1="620.40" y1="890.30" x2="620.40" y2="893.80" stroke="#b8b8b8" stroke-width="1.2"/>
<line x1="635.76" y1="890.30" x2="635.76" y2="893.80" stroke="#b8b8b8" stroke-width="1.2"/>
<line x1="651.12" y1="890.30" x2="651.12" y2="893.80" stroke="#b8b8b8" stroke-width="1.2"/>
<line x1="666.48" y1="890.30" x2="666.48" y2="893.80" stroke="#b8b8b8" stroke-width="1.2"/>
<text transform="translate(401.58,897.50) rotate(-90) scale(0.93,1)" font-size="11.8" text-anchor="end">MU18</text>
<text transform="translate(416.94,897.50) rotate(-90) scale(0.93,1)" font-size="11.8" text-anchor="end">MU17</text>
<text transform="translate(432.30,897.50) rotate(-90) scale(0.93,1)" font-size="11.8" text-anchor="end">MU16</text>
<text transform="translate(447.66,897.50) rotate(-90) scale(0.93,1)" font-size="11.8" text-anchor="end">MU15</text>
<text transform="translate(463.02,897.50) rotate(-90) scale(0.93,1)" font-size="11.8" text-anchor="end">MU14</text>
<text transform="translate(478.38,897.50) rotate(-90) scale(0.93,1)" font-size="11.8" text-anchor="end">MU13</text>
<text transform="translate(493.74,897.50) rotate(-90) scale(0.93,1)" font-size="11.8" text-anchor="end">MU12</text>
<text transform="translate(509.10,897.50) rotate(-90) scale(0.93,1)" font-size="11.8" text-anchor="end">MU11</text>
<text transform="translate(524.46,897.50) rotate(-90) scale(0.93,1)" font-size="11.8" text-anchor="end">MU10</text>
<text transform="translate(539.82,897.50) rotate(-90) scale(0.93,1)" font-size="11.8" text-anchor="end">MU09</text>
<text transform="translate(555.18,897.50) rotate(-90) scale(0.93,1)" font-size="11.8" text-anchor="end">MU08</text>
<text transform="translate(570.54,897.50) rotate(-90) scale(0.93,1)" font-size="11.8" text-anchor="end">MU07</text>
<text transform="translate(585.90,897.50) rotate(-90) scale(0.93,1)" font-size="11.8" text-anchor="end">MU06</text>
<text transform="translate(601.26,897.50) rotate(-90) scale(0.93,1)" font-size="11.8" text-anchor="end">MU05</text>
<text transform="translate(616.62,897.50) rotate(-90) scale(0.93,1)" font-size="11.8" text-anchor="end">MU04</text>
<text transform="translate(631.98,897.50) rotate(-90) scale(0.93,1)" font-size="11.8" text-anchor="end">MU03</text>
<text transform="translate(647.34,897.50) rotate(-90) scale(0.93,1)" font-size="11.8" text-anchor="end">MU02</text>
<text transform="translate(662.70,897.50) rotate(-90) scale(0.93,1)" font-size="11.8" text-anchor="end">MU01</text>
<rect x="392.50" y="810.17" width="5.00" height="80.13" fill="#3d3d3d" stroke="#000" stroke-width="1"/>
<rect x="397.50" y="803.89" width="4.00" height="86.41" fill="#f0f0f0" stroke="#000" stroke-width="1"/>
<line x1="395.50" y1="804.79" x2="395.50" y2="810.17" stroke="#262626" stroke-width="1.1" stroke-dasharray="6,1.6"/>
<line x1="393.10" y1="804.79" x2="397.90" y2="804.79" stroke="#262626" stroke-width="1.2"/>
<line x1="399.50" y1="783.26" x2="399.50" y2="803.89" stroke="#262626" stroke-width="1.1" stroke-dasharray="6,1.6"/>
<line x1="397.10" y1="783.26" x2="401.90" y2="783.26" stroke="#262626" stroke-width="1.2"/>
<rect x="407.50" y="805.38" width="5.00" height="84.92" fill="#3d3d3d" stroke="#000" stroke-width="1"/>
<rect x="412.50" y="800.30" width="5.00" height="90.00" fill="#f0f0f0" stroke="#000" stroke-width="1"/>
<line x1="410.50" y1="800.00" x2="410.50" y2="805.38" stroke="#262626" stroke-width="1.1" stroke-dasharray="6,1.6"/>
<line x1="408.10" y1="800.00" x2="412.90" y2="800.00" stroke="#262626" stroke-width="1.2"/>
<line x1="415.50" y1="797.61" x2="415.50" y2="800.30" stroke="#262626" stroke-width="1.1" stroke-dasharray="6,1.6"/>
<line x1="413.10" y1="797.61" x2="417.90" y2="797.61" stroke="#262626" stroke-width="1.2"/>
<rect x="423.50" y="806.28" width="4.00" height="84.02" fill="#3d3d3d" stroke="#000" stroke-width="1"/>
<rect x="427.50" y="800.60" width="5.00" height="89.70" fill="#f0f0f0" stroke="#000" stroke-width="1"/>
<line x1="425.50" y1="801.50" x2="425.50" y2="806.28" stroke="#262626" stroke-width="1.1" stroke-dasharray="6,1.6"/>
<line x1="423.10" y1="801.50" x2="427.90" y2="801.50" stroke="#262626" stroke-width="1.2"/>
<line x1="430.50" y1="798.21" x2="430.50" y2="800.60" stroke="#262626" stroke-width="1.1" stroke-dasharray="6,1.6"/>
<line x1="428.10" y1="798.21" x2="432.90" y2="798.21" stroke="#262626" stroke-width="1.2"/>
<rect x="438.50" y="808.08" width="5.00" height="82.22" fill="#3d3d3d" stroke="#000" stroke-width="1"/>
<rect x="443.50" y="804.19" width="4.00" height="86.11" fill="#f0f0f0" stroke="#000" stroke-width="1"/>
<line x1="441.50" y1="801.80" x2="441.50" y2="808.08" stroke="#262626" stroke-width="1.1" stroke-dasharray="6,1.6"/>
<line x1="439.10" y1="801.80" x2="443.90" y2="801.80" stroke="#262626" stroke-width="1.2"/>
<line x1="445.50" y1="801.80" x2="445.50" y2="804.19" stroke="#262626" stroke-width="1.1" stroke-dasharray="6,1.6"/>
<line x1="443.10" y1="801.80" x2="447.90" y2="801.80" stroke="#262626" stroke-width="1.2"/>
<rect x="454.50" y="806.28" width="4.00" height="84.02" fill="#3d3d3d" stroke="#000" stroke-width="1"/>
<rect x="458.50" y="803.59" width="5.00" height="86.71" fill="#f0f0f0" stroke="#000" stroke-width="1"/>
<line x1="456.50" y1="800.60" x2="456.50" y2="806.28" stroke="#262626" stroke-width="1.1" stroke-dasharray="6,1.6"/>
<line x1="454.10" y1="800.60" x2="458.90" y2="800.60" stroke="#262626" stroke-width="1.2"/>
<line x1="461.50" y1="800.00" x2="461.50" y2="803.59" stroke="#262626" stroke-width="1.1" stroke-dasharray="6,1.6"/>
<line x1="459.10" y1="800.00" x2="463.90" y2="800.00" stroke="#262626" stroke-width="1.2"/>
<rect x="469.50" y="807.18" width="5.00" height="83.12" fill="#3d3d3d" stroke="#000" stroke-width="1"/>
<rect x="474.50" y="801.50" width="4.00" height="88.80" fill="#f0f0f0" stroke="#000" stroke-width="1"/>
<line x1="472.50" y1="800.00" x2="472.50" y2="807.18" stroke="#262626" stroke-width="1.1" stroke-dasharray="6,1.6"/>
<line x1="470.10" y1="800.00" x2="474.90" y2="800.00" stroke="#262626" stroke-width="1.2"/>
<line x1="476.50" y1="799.40" x2="476.50" y2="801.50" stroke="#262626" stroke-width="1.1" stroke-dasharray="6,1.6"/>
<line x1="474.10" y1="799.40" x2="478.90" y2="799.40" stroke="#262626" stroke-width="1.2"/>
<rect x="484.50" y="808.08" width="5.00" height="82.22" fill="#3d3d3d" stroke="#000" stroke-width="1"/>
<rect x="489.50" y="802.10" width="5.00" height="88.20" fill="#f0f0f0" stroke="#000" stroke-width="1"/>
<line x1="487.50" y1="801.20" x2="487.50" y2="808.08" stroke="#262626" stroke-width="1.1" stroke-dasharray="6,1.6"/>
<line x1="485.10" y1="801.20" x2="489.90" y2="801.20" stroke="#262626" stroke-width="1.2"/>
<line x1="492.50" y1="800.30" x2="492.50" y2="802.10" stroke="#262626" stroke-width="1.1" stroke-dasharray="6,1.6"/>
<line x1="490.10" y1="800.30" x2="494.90" y2="800.30" stroke="#262626" stroke-width="1.2"/>
<rect x="500.50" y="808.08" width="4.00" height="82.22" fill="#3d3d3d" stroke="#000" stroke-width="1"/>
<rect x="504.50" y="801.20" width="5.00" height="89.10" fill="#f0f0f0" stroke="#000" stroke-width="1"/>
<line x1="502.50" y1="797.61" x2="502.50" y2="808.08" stroke="#262626" stroke-width="1.1" stroke-dasharray="6,1.6"/>
<line x1="500.10" y1="797.61" x2="504.90" y2="797.61" stroke="#262626" stroke-width="1.2"/>
<line x1="507.50" y1="799.40" x2="507.50" y2="801.20" stroke="#262626" stroke-width="1.1" stroke-dasharray="6,1.6"/>
<line x1="505.10" y1="799.40" x2="509.90" y2="799.40" stroke="#262626" stroke-width="1.2"/>
<rect x="515.50" y="806.28" width="5.00" height="84.02" fill="#3d3d3d" stroke="#000" stroke-width="1"/>
<rect x="520.50" y="797.01" width="4.00" height="93.29" fill="#f0f0f0" stroke="#000" stroke-width="1"/>
<line x1="518.50" y1="798.21" x2="518.50" y2="806.28" stroke="#262626" stroke-width="1.1" stroke-dasharray="6,1.6"/>
<line x1="516.10" y1="798.21" x2="520.90" y2="798.21" stroke="#262626" stroke-width="1.2"/>
<line x1="522.50" y1="796.12" x2="522.50" y2="797.01" stroke="#262626" stroke-width="1.1" stroke-dasharray="6,1.6"/>
<line x1="520.10" y1="796.12" x2="524.90" y2="796.12" stroke="#262626" stroke-width="1.2"/>
<rect x="531.50" y="805.98" width="4.00" height="84.32" fill="#3d3d3d" stroke="#000" stroke-width="1"/>
<rect x="535.50" y="798.21" width="5.00" height="92.09" fill="#f0f0f0" stroke="#000" stroke-width="1"/>
<line x1="533.50" y1="798.21" x2="533.50" y2="805.98" stroke="#262626" stroke-width="1.1" stroke-dasharray="6,1.6"/>
<line x1="531.10" y1="798.21" x2="535.90" y2="798.21" stroke="#262626" stroke-width="1.2"/>
<line x1="538.50" y1="795.52" x2="538.50" y2="798.21" stroke="#262626" stroke-width="1.1" stroke-dasharray="6,1.6"/>
<line x1="536.10" y1="795.52" x2="540.90" y2="795.52" stroke="#262626" stroke-width="1.2"/>
<rect x="546.50" y="807.48" width="5.00" height="82.82" fill="#3d3d3d" stroke="#000" stroke-width="1"/>
<rect x="551.50" y="801.20" width="4.00" height="89.10" fill="#f0f0f0" stroke="#000" stroke-width="1"/>
<line x1="549.50" y1="800.60" x2="549.50" y2="807.48" stroke="#262626" stroke-width="1.1" stroke-dasharray="6,1.6"/>
<line x1="547.10" y1="800.60" x2="551.90" y2="800.60" stroke="#262626" stroke-width="1.2"/>
<line x1="553.50" y1="800.30" x2="553.50" y2="801.20" stroke="#262626" stroke-width="1.1" stroke-dasharray="6,1.6"/>
<line x1="551.10" y1="800.30" x2="555.90" y2="800.30" stroke="#262626" stroke-width="1.2"/>
<rect x="561.50" y="800.30" width="5.00" height="90.00" fill="#3d3d3d" stroke="#000" stroke-width="1"/>
<rect x="566.50" y="803.89" width="4.00" height="86.41" fill="#f0f0f0" stroke="#000" stroke-width="1"/>
<line x1="564.50" y1="793.12" x2="564.50" y2="800.30" stroke="#262626" stroke-width="1.1" stroke-dasharray="6,1.6"/>
<line x1="562.10" y1="793.12" x2="566.90" y2="793.12" stroke="#262626" stroke-width="1.2"/>
<line x1="568.50" y1="802.69" x2="568.50" y2="803.89" stroke="#262626" stroke-width="1.1" stroke-dasharray="6,1.6"/>
<line x1="566.10" y1="802.69" x2="570.90" y2="802.69" stroke="#262626" stroke-width="1.2"/>
<rect x="577.50" y="805.98" width="4.00" height="84.32" fill="#3d3d3d" stroke="#000" stroke-width="1"/>
<rect x="581.50" y="801.50" width="5.00" height="88.80" fill="#f0f0f0" stroke="#000" stroke-width="1"/>
<line x1="579.50" y1="798.51" x2="579.50" y2="805.98" stroke="#262626" stroke-width="1.1" stroke-dasharray="6,1.6"/>
<line x1="577.10" y1="798.51" x2="581.90" y2="798.51" stroke="#262626" stroke-width="1.2"/>
<line x1="584.50" y1="799.40" x2="584.50" y2="801.50" stroke="#262626" stroke-width="1.1" stroke-dasharray="6,1.6"/>
<line x1="582.10" y1="799.40" x2="586.90" y2="799.40" stroke="#262626" stroke-width="1.2"/>
<rect x="592.50" y="808.97" width="5.00" height="81.33" fill="#3d3d3d" stroke="#000" stroke-width="1"/>
<rect x="597.50" y="802.39" width="4.00" height="87.91" fill="#f0f0f0" stroke="#000" stroke-width="1"/>
<line x1="595.50" y1="800.90" x2="595.50" y2="808.97" stroke="#262626" stroke-width="1.1" stroke-dasharray="6,1.6"/>
<line x1="593.10" y1="800.90" x2="597.90" y2="800.90" stroke="#262626" stroke-width="1.2"/>
<line x1="599.50" y1="799.70" x2="599.50" y2="802.39" stroke="#262626" stroke-width="1.1" stroke-dasharray="6,1.6"/>
<line x1="597.10" y1="799.70" x2="601.90" y2="799.70" stroke="#262626" stroke-width="1.2"/>
<rect x="607.50" y="806.58" width="5.00" height="83.72" fill="#3d3d3d" stroke="#000" stroke-width="1"/>
<rect x="612.50" y="802.39" width="5.00" height="87.91" fill="#f0f0f0" stroke="#000" stroke-width="1"/>
<line x1="610.50" y1="799.70" x2="610.50" y2="806.58" stroke="#262626" stroke-width="1.1" stroke-dasharray="6,1.6"/>
<line x1="608.10" y1="799.70" x2="612.90" y2="799.70" stroke="#262626" stroke-width="1.2"/>
<line x1="615.50" y1="800.60" x2="615.50" y2="802.39" stroke="#262626" stroke-width="1.1" stroke-dasharray="6,1.6"/>
<line x1="613.10" y1="800.60" x2="617.90" y2="800.60" stroke="#262626" stroke-width="1.2"/>
<rect x="623.50" y="807.18" width="4.00" height="83.12" fill="#3d3d3d" stroke="#000" stroke-width="1"/>
<rect x="627.50" y="801.50" width="5.00" height="88.80" fill="#f0f0f0" stroke="#000" stroke-width="1"/>
<line x1="625.50" y1="800.30" x2="625.50" y2="807.18" stroke="#262626" stroke-width="1.1" stroke-dasharray="6,1.6"/>
<line x1="623.10" y1="800.30" x2="627.90" y2="800.30" stroke="#262626" stroke-width="1.2"/>
<line x1="630.50" y1="799.40" x2="630.50" y2="801.50" stroke="#262626" stroke-width="1.1" stroke-dasharray="6,1.6"/>
<line x1="628.10" y1="799.40" x2="632.90" y2="799.40" stroke="#262626" stroke-width="1.2"/>
<rect x="638.50" y="807.18" width="5.00" height="83.12" fill="#3d3d3d" stroke="#000" stroke-width="1"/>
<rect x="643.50" y="802.10" width="4.00" height="88.20" fill="#f0f0f0" stroke="#000" stroke-width="1"/>
<line x1="641.50" y1="800.30" x2="641.50" y2="807.18" stroke="#262626" stroke-width="1.1" stroke-dasharray="6,1.6"/>
<line x1="639.10" y1="800.30" x2="643.90" y2="800.30" stroke="#262626" stroke-width="1.2"/>
<line x1="645.50" y1="801.50" x2="645.50" y2="802.10" stroke="#262626" stroke-width="1.1" stroke-dasharray="6,1.6"/>
<line x1="643.10" y1="801.50" x2="647.90" y2="801.50" stroke="#262626" stroke-width="1.2"/>
<rect x="654.50" y="809.27" width="4.00" height="81.03" fill="#3d3d3d" stroke="#000" stroke-width="1"/>
<rect x="658.50" y="802.69" width="5.00" height="87.61" fill="#f0f0f0" stroke="#000" stroke-width="1"/>
<line x1="656.50" y1="803.59" x2="656.50" y2="809.27" stroke="#262626" stroke-width="1.1" stroke-dasharray="6,1.6"/>
<line x1="654.10" y1="803.59" x2="658.90" y2="803.59" stroke="#262626" stroke-width="1.2"/>
<line x1="661.50" y1="802.10" x2="661.50" y2="802.69" stroke="#262626" stroke-width="1.1" stroke-dasharray="6,1.6"/>
<line x1="659.10" y1="802.10" x2="663.90" y2="802.10" stroke="#262626" stroke-width="1.2"/>
<text transform="translate(361.50,838.10) rotate(-90) scale(0.936,1)" font-size="13.6" text-anchor="middle">Temperature (c)</text>
<text transform="translate(398.30,769.70) scale(1.02,1)" font-size="11.8">(j)</text>
<rect x="0" y="0" width="341" height="1" fill="#8c8c8c"/>
<rect x="344" y="1" width="341" height="1" fill="#999"/>
<rect x="0" y="188" width="341" height="1" fill="#8e8e8e"/>
<rect x="0" y="189" width="341" height="1" fill="#d8d8d8"/>
<rect x="344" y="187" width="341" height="1" fill="#999"/>
<rect x="343" y="188" width="341" height="1" fill="#cdcdcd"/>
<rect x="343" y="189" width="341" height="1" fill="#cdcdcd"/>
<rect x="1" y="376" width="683" height="1" fill="#8a8a8a"/>
<rect x="0" y="564" width="683" height="1" fill="#8a8a8a"/>
<rect x="0" y="752" width="342" height="1" fill="#a8a8a8"/>
<rect x="0" y="753" width="342" height="1" fill="#dadada"/>
<rect x="0" y="754" width="341" height="1" fill="#b8b8b8"/>
<rect x="342" y="752" width="341" height="1" fill="#9c9c9c"/>
<rect x="342" y="753" width="341" height="1" fill="#ababab"/>
<rect x="0" y="940" width="341" height="1" fill="#acacac"/>
<rect x="344" y="941" width="339" height="1" fill="#b0b0b0"/>
<rect x="0" y="0" width="1" height="189" fill="#8c8c8c"/>
<rect x="340" y="0" width="1" height="189" fill="#b8b8b8"/>
<rect x="344" y="1" width="1" height="187" fill="#b3b3b3"/>
<rect x="684" y="1" width="1" height="187" fill="#8c8c8c"/>
<rect x="1" y="188" width="1" height="189" fill="#8c8c8c"/>
<rect x="339" y="188" width="1" height="189" fill="#b8b8b8"/>
<rect x="343" y="188" width="1" height="189" fill="#b8b8b8"/>
<rect x="683" y="188" width="1" height="189" fill="#959595"/>
<rect x="2" y="376" width="1" height="189" fill="#8c8c8c"/>
<rect x="341" y="376" width="1" height="189" fill="#a2a2a2"/>
<rect x="342" y="376" width="1" height="189" fill="#bababa"/>
<rect x="680" y="376" width="1" height="189" fill="#959595"/>
<rect x="0" y="564" width="1" height="189" fill="#8c8c8c"/>
<rect x="340" y="564" width="1" height="189" fill="#bababa"/>
<rect x="341" y="564" width="1" height="189" fill="#bababa"/>
<rect x="342" y="564" width="1" height="189" fill="#d2d2d2"/>
<rect x="682" y="564" width="1" height="189" fill="#959595"/>
<rect x="0" y="752" width="1" height="189" fill="#8c8c8c"/>
<rect x="340" y="752" width="1" height="189" fill="#bababa"/>
<rect x="344" y="752" width="1" height="190" fill="#bababa"/>
<rect x="682" y="752" width="1" height="190" fill="#959595"/>
<rect x="136" y="943.5" width="410" height="26.5" fill="#fff" stroke="#7a7a7a" stroke-width="1.5"/>
<rect x="193" y="952.5" width="9.5" height="9.5" fill="#3d3d3d" stroke="#000" stroke-width="1"/>
<text x="208.5" y="964" font-size="18.5" letter-spacing="0.5">Wet Season</text>
<rect x="386" y="952.5" width="9.5" height="9.5" fill="#f0f0f0" stroke="#000" stroke-width="1"/>
<text x="401" y="964" font-size="18.5" letter-spacing="0.5">Dry Season</text>
</svg>
</body></html>
